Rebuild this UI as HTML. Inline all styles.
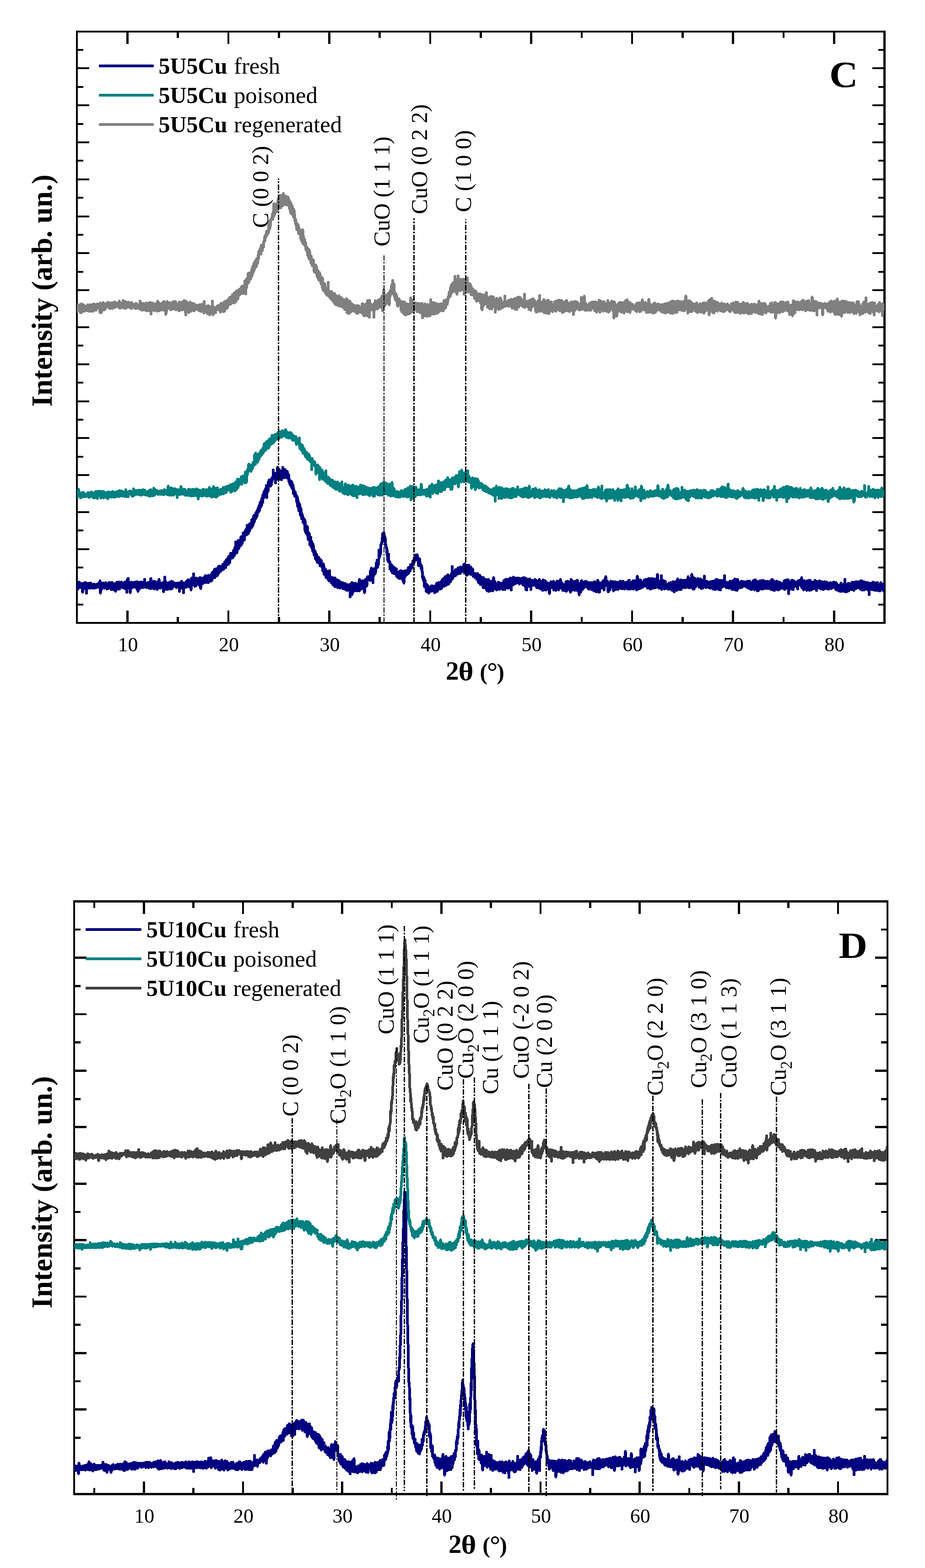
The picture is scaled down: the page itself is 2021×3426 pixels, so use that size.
<!DOCTYPE html>
<html lang="en"><head><meta charset="utf-8"><title>XRD patterns of 5U5Cu and 5U10Cu catalysts</title>
<style>
html,body{margin:0;padding:0;background:#fff}
body{width:2021px;height:3426px;overflow:hidden}
svg{display:block;font-family:'Liberation Serif','Times New Roman',serif;fill:#000}
</style></head><body>
<svg width="2021" height="3426" viewBox="0 0 2021 3426">
<rect width="2021" height="3426" fill="#fff"/>
<g id="chart-c">
<clipPath id="clip1"><rect x="168" y="71" width="1764.5" height="1288"/></clipPath>
<g fill="#000" shape-rendering="crispEdges">
<rect x="166" y="67" width="4" height="1296"/>
<rect x="1930" y="67" width="5" height="1296"/>
<rect x="166" y="67" width="1769" height="4"/>
<rect x="166" y="1359" width="1769" height="4"/>
<rect x="276" y="1334" width="5" height="25"/>
<rect x="276" y="71" width="5" height="25"/>
<rect x="497" y="1334" width="4" height="25"/>
<rect x="497" y="71" width="4" height="25"/>
<rect x="717" y="1334" width="5" height="25"/>
<rect x="717" y="71" width="5" height="25"/>
<rect x="938" y="1334" width="4" height="25"/>
<rect x="938" y="71" width="4" height="25"/>
<rect x="1158" y="1334" width="5" height="25"/>
<rect x="1158" y="71" width="5" height="25"/>
<rect x="1379" y="1334" width="4" height="25"/>
<rect x="1379" y="71" width="4" height="25"/>
<rect x="1599" y="1334" width="5" height="25"/>
<rect x="1599" y="71" width="5" height="25"/>
<rect x="1820" y="1334" width="5" height="25"/>
<rect x="1820" y="71" width="5" height="25"/>
<rect x="386" y="1348" width="5" height="11"/>
<rect x="386" y="71" width="5" height="12"/>
<rect x="607" y="1348" width="5" height="11"/>
<rect x="607" y="71" width="5" height="12"/>
<rect x="827" y="1348" width="5" height="11"/>
<rect x="827" y="71" width="5" height="12"/>
<rect x="1048" y="1348" width="5" height="11"/>
<rect x="1048" y="71" width="5" height="12"/>
<rect x="1269" y="1348" width="4" height="11"/>
<rect x="1269" y="71" width="4" height="12"/>
<rect x="1489" y="1348" width="5" height="11"/>
<rect x="1489" y="71" width="5" height="12"/>
<rect x="1710" y="1348" width="4" height="11"/>
<rect x="1710" y="71" width="4" height="12"/>
<rect x="170" y="107" width="12" height="4"/>
<rect x="1919" y="107" width="11" height="4"/>
<rect x="170" y="147" width="25" height="4"/>
<rect x="1906" y="147" width="24" height="4"/>
<rect x="170" y="188" width="12" height="4"/>
<rect x="1919" y="188" width="11" height="4"/>
<rect x="170" y="228" width="25" height="4"/>
<rect x="1906" y="228" width="24" height="4"/>
<rect x="170" y="269" width="12" height="4"/>
<rect x="1919" y="269" width="11" height="4"/>
<rect x="170" y="309" width="25" height="4"/>
<rect x="1906" y="309" width="24" height="4"/>
<rect x="170" y="349" width="12" height="4"/>
<rect x="1919" y="349" width="11" height="4"/>
<rect x="170" y="390" width="25" height="4"/>
<rect x="1906" y="390" width="24" height="4"/>
<rect x="170" y="430" width="12" height="4"/>
<rect x="1919" y="430" width="11" height="4"/>
<rect x="170" y="471" width="25" height="4"/>
<rect x="1906" y="471" width="24" height="4"/>
<rect x="170" y="511" width="12" height="4"/>
<rect x="1919" y="511" width="11" height="4"/>
<rect x="170" y="551" width="25" height="4"/>
<rect x="1906" y="551" width="24" height="4"/>
<rect x="170" y="592" width="12" height="4"/>
<rect x="1919" y="592" width="11" height="4"/>
<rect x="170" y="632" width="25" height="4"/>
<rect x="1906" y="632" width="24" height="4"/>
<rect x="170" y="673" width="12" height="4"/>
<rect x="1919" y="673" width="11" height="4"/>
<rect x="170" y="713" width="25" height="4"/>
<rect x="1906" y="713" width="24" height="4"/>
<rect x="170" y="753" width="12" height="4"/>
<rect x="1919" y="753" width="11" height="4"/>
<rect x="170" y="794" width="25" height="4"/>
<rect x="1906" y="794" width="24" height="4"/>
<rect x="170" y="834" width="12" height="4"/>
<rect x="1919" y="834" width="11" height="4"/>
<rect x="170" y="875" width="25" height="4"/>
<rect x="1906" y="875" width="24" height="4"/>
<rect x="170" y="915" width="12" height="4"/>
<rect x="1919" y="915" width="11" height="4"/>
<rect x="170" y="955" width="25" height="4"/>
<rect x="1906" y="955" width="24" height="4"/>
<rect x="170" y="996" width="12" height="4"/>
<rect x="1919" y="996" width="11" height="4"/>
<rect x="170" y="1036" width="25" height="4"/>
<rect x="1906" y="1036" width="24" height="4"/>
<rect x="170" y="1077" width="12" height="4"/>
<rect x="1919" y="1077" width="11" height="4"/>
<rect x="170" y="1117" width="25" height="4"/>
<rect x="1906" y="1117" width="24" height="4"/>
<rect x="170" y="1157" width="12" height="4"/>
<rect x="1919" y="1157" width="11" height="4"/>
<rect x="170" y="1198" width="25" height="4"/>
<rect x="1906" y="1198" width="24" height="4"/>
<rect x="170" y="1238" width="12" height="4"/>
<rect x="1919" y="1238" width="11" height="4"/>
<rect x="170" y="1279" width="25" height="4"/>
<rect x="1906" y="1279" width="24" height="4"/>
<rect x="170" y="1319" width="12" height="4"/>
<rect x="1919" y="1319" width="11" height="4"/>
</g>
<g clip-path="url(#clip1)" fill="none" stroke-linejoin="round" shape-rendering="crispEdges">
<path d="M168,1280 168.5,1288 169,1274 169.5,1288 170,1277 170.5,1278 171,1285 171.5,1278 172,1280 172.5,1272 173,1284 173.5,1280 174,1277 174.5,1284 175,1277 175.5,1279 176,1274 176.5,1278 177,1275 177.5,1276 178,1283 178.5,1277 179,1279 179.5,1286 180,1286 180.5,1294 181,1280 181.5,1276 182,1275 182.5,1286 183,1280 183.5,1274 184,1281 184.5,1284 185,1281 185.5,1286 186,1273 186.5,1280 187,1279 187.5,1273 188,1282 188.5,1285 189,1296 189.5,1276 190,1285 190.5,1280 191,1280 191.5,1284 192,1275 192.5,1285 193,1283 193.5,1284 194,1275 194.5,1284 195,1276 195.5,1274 196,1285 196.5,1285 197,1285 197.5,1280 198,1277 198.5,1274 199,1282 199.5,1283 200,1284 200.5,1277 201,1277 201.5,1282 202,1284 202.5,1285 203,1277 203.5,1280 204,1284 204.5,1280 205,1281 205.5,1276 206,1282 206.5,1285 207,1284 207.5,1284 208,1282 208.5,1278 209,1283 209.5,1278 210,1284 210.5,1277 211,1284 211.5,1278 212,1280 212.5,1279 213,1283 213.5,1278 214,1280 214.5,1275 215,1278 215.5,1280 216,1276 216.5,1283 217,1279 217.5,1284 218,1283 218.5,1269 219,1286 219.5,1296 220,1285 220.5,1278 221,1281 221.5,1276 222,1287 222.5,1277 223,1277 223.5,1274 224,1276 224.5,1284 225,1283 225.5,1274 226,1278 226.5,1279 227,1282 227.5,1279 228,1281 228.5,1285 229,1283 229.5,1277 230,1279 230.5,1277 231,1273 231.5,1275 232,1276 232.5,1276 233,1276 233.5,1280 234,1287 234.5,1284 235,1284 235.5,1283 236,1281 236.5,1286 237,1282 237.5,1279 238,1273 238.5,1279 239,1275 239.5,1273 240,1279 240.5,1284 241,1276 241.5,1284 242,1280 242.5,1273 243,1288 243.5,1278 244,1276 244.5,1286 245,1273 245.5,1284 246,1274 246.5,1278 247,1275 247.5,1286 248,1278 248.5,1289 249,1282 249.5,1283 250,1280 250.5,1276 251,1278 251.5,1288 252,1275 252.5,1292 253,1284 253.5,1278 254,1282 254.5,1278 255,1278 255.5,1280 256,1272 256.5,1280 257,1287 257.5,1276 258,1284 258.5,1279 259,1275 259.5,1286 260,1272 260.5,1277 261,1287 261.5,1276 262,1285 262.5,1281 263,1284 263.5,1281 264,1277 264.5,1283 265,1272 265.5,1278 266,1277 266.5,1279 267,1273 267.5,1275 268,1280 268.5,1277 269,1284 269.5,1281 270,1285 270.5,1283 271,1280 271.5,1275 272,1283 272.5,1275 273,1272 273.5,1286 274,1279 274.5,1283 275,1279 275.5,1280 276,1271 276.5,1274 277,1294 277.5,1280 278,1267 278.5,1285 279,1273 279.5,1279 280,1264 280.5,1282 281,1275 281.5,1273 282,1272 282.5,1274 283,1274 283.5,1279 284,1278 284.5,1295 285,1285 285.5,1283 286,1281 286.5,1284 287,1285 287.5,1272 288,1273 288.5,1277 289,1273 289.5,1281 290,1276 290.5,1276 291,1276 291.5,1273 292,1283 292.5,1282 293,1281 293.5,1272 294,1278 294.5,1282 295,1274 295.5,1277 296,1272 296.5,1273 297,1275 297.5,1278 298,1279 298.5,1286 299,1276 299.5,1271 300,1285 300.5,1272 301,1272 301.5,1292 302,1283 302.5,1276 303,1273 303.5,1277 304,1276 304.5,1285 305,1277 305.5,1272 306,1286 306.5,1281 307,1273 307.5,1273 308,1278 308.5,1272 309,1280 309.5,1280 310,1272 310.5,1283 311,1282 311.5,1284 312,1280 312.5,1281 313,1274 313.5,1273 314,1274 314.5,1283 315,1280 315.5,1283 316,1266 316.5,1281 317,1274 317.5,1275 318,1276 318.5,1279 319,1279 319.5,1278 320,1277 320.5,1279 321,1284 321.5,1278 322,1282 322.5,1273 323,1277 323.5,1279 324,1280 324.5,1275 325,1277 325.5,1285 326,1281 326.5,1280 327,1272 327.5,1272 328,1274 328.5,1273 329,1286 329.5,1264 330,1276 330.5,1271 331,1281 331.5,1271 332,1271 332.5,1271 333,1274 333.5,1280 334,1285 334.5,1274 335,1274 335.5,1286 336,1285 336.5,1270 337,1286 337.5,1287 338,1271 338.5,1282 339,1272 339.5,1273 340,1279 340.5,1280 341,1279 341.5,1280 342,1272 342.5,1285 343,1274 343.5,1288 344,1279 344.5,1275 345,1273 345.5,1279 346,1277 346.5,1281 347,1279 347.5,1266 348,1284 348.5,1272 349,1284 349.5,1284 350,1285 350.5,1281 351,1274 351.5,1278 352,1278 352.5,1281 353,1277 353.5,1281 354,1275 354.5,1277 355,1280 355.5,1278 356,1273 356.5,1286 357,1282 357.5,1293 358,1276 358.5,1287 359,1284 359.5,1288 360,1261 360.5,1278 361,1276 361.5,1281 362,1274 362.5,1271 363,1278 363.5,1281 364,1276 364.5,1288 365,1276 365.5,1274 366,1285 366.5,1277 367,1274 367.5,1274 368,1287 368.5,1287 369,1281 369.5,1274 370,1282 370.5,1272 371,1274 371.5,1279 372,1276 372.5,1275 373,1287 373.5,1272 374,1280 374.5,1270 375,1271 375.5,1273 376,1286 376.5,1282 377,1284 377.5,1271 378,1281 378.5,1277 379,1277 379.5,1281 380,1276 380.5,1279 381,1275 381.5,1277 382,1279 382.5,1274 383,1276 383.5,1278 384,1278 384.5,1283 385,1281 385.5,1280 386,1284 386.5,1275 387,1274 387.5,1277 388,1274 388.5,1280 389,1280 389.5,1274 390,1282 390.5,1280 391,1278 391.5,1285 392,1292 392.5,1275 393,1274 393.5,1285 394,1273 394.5,1283 395,1276 395.5,1276 396,1279 396.5,1285 397,1270 397.5,1273 398,1282 398.5,1276 399,1275 399.5,1286 400,1274 400.5,1281 401,1295 401.5,1282 402,1281 402.5,1281 403,1282 403.5,1274 404,1279 404.5,1282 405,1283 405.5,1283 406,1283 406.5,1271 407,1275 407.5,1276 408,1283 408.5,1275 409,1272 409.5,1268 410,1272 410.5,1281 411,1267 411.5,1269 412,1272 412.5,1276 413,1272 413.5,1282 414,1269 414.5,1276 415,1280 415.5,1283 416,1282 416.5,1266 417,1280 417.5,1289 418,1272 418.5,1263 419,1266 419.5,1279 420,1264 420.5,1269 421,1268 421.5,1278 422,1270 422.5,1264 423,1254 423.5,1269 424,1277 424.5,1268 425,1277 425.5,1273 426,1281 426.5,1277 427,1270 427.5,1271 428,1271 428.5,1280 429,1263 429.5,1270 430,1272 430.5,1270 431,1274 431.5,1271 432,1269 432.5,1275 433,1268 433.5,1273 434,1276 434.5,1264 435,1267 435.5,1279 436,1279 436.5,1279 437,1262 437.5,1276 438,1277 438.5,1286 439,1273 439.5,1273 440,1273 440.5,1271 441,1274 441.5,1269 442,1265 442.5,1263 443,1275 443.5,1273 444,1263 444.5,1274 445,1265 445.5,1270 446,1265 446.5,1262 447,1261 447.5,1259 448,1259 448.5,1258 449,1258 449.5,1273 450,1266 450.5,1258 451,1266 451.5,1266 452,1265 452.5,1259 453,1263 453.5,1272 454,1261 454.5,1264 455,1273 455.5,1257 456,1268 456.5,1262 457,1268 457.5,1259 458,1262 458.5,1258 459,1269 459.5,1269 460,1263 460.5,1270 461,1264 461.5,1266 462,1267 462.5,1253 463,1268 463.5,1255 464,1257 464.5,1250 465,1263 465.5,1253 466,1260 466.5,1249 467,1252 467.5,1252 468,1249 468.5,1244 469,1259 469.5,1262 470,1247 470.5,1245 471,1249 471.5,1243 472,1254 472.5,1248 473,1251 473.5,1258 474,1256 474.5,1257 475,1257 475.5,1250 476,1248 476.5,1239 477,1240 477.5,1247 478,1253 478.5,1245 479,1237 479.5,1240 480,1249 480.5,1239 481,1239 481.5,1240 482,1245 482.5,1248 483,1238 483.5,1243 484,1242 484.5,1240 485,1242 485.5,1245 486,1236 486.5,1239 487,1233 487.5,1238 488,1242 488.5,1244 489,1236 489.5,1233 490,1237 490.5,1233 491,1228 491.5,1234 492,1238 492.5,1239 493,1240 493.5,1229 494,1226 494.5,1223 495,1228 495.5,1234 496,1223 496.5,1234 497,1231 497.5,1220 498,1228 498.5,1231 499,1233 499.5,1216 500,1229 500.5,1227 501,1215 501.5,1216 502,1229 502.5,1216 503,1214 503.5,1222 504,1209 504.5,1215 505,1212 505.5,1215 506,1216 506.5,1216 507,1211 507.5,1219 508,1218 508.5,1219 509,1208 509.5,1213 510,1206 510.5,1202 511,1210 511.5,1215 512,1212 512.5,1199 513,1197 513.5,1209 514,1207 514.5,1209 515,1184 515.5,1208 516,1197 516.5,1193 517,1194 517.5,1208 518,1206 518.5,1186 519,1190 519.5,1199 520,1183 520.5,1182 521,1181 521.5,1199 522,1186 522.5,1185 523,1195 523.5,1183 524,1192 524.5,1183 525,1181 525.5,1182 526,1176 526.5,1173 527,1191 527.5,1190 528,1180 528.5,1184 529,1188 529.5,1176 530,1183 530.5,1183 531,1165 531.5,1166 532,1181 532.5,1179 533,1165 533.5,1180 534,1179 534.5,1166 535,1166 535.5,1160 536,1167 536.5,1158 537,1168 537.5,1169 538,1167 538.5,1155 539,1166 539.5,1168 540,1148 540.5,1163 541,1166 541.5,1154 542,1166 542.5,1166 543,1161 543.5,1163 544,1151 544.5,1157 545,1161 545.5,1144 546,1157 546.5,1146 547,1155 547.5,1151 548,1153 548.5,1145 549,1145 549.5,1153 550,1136 550.5,1137 551,1151 551.5,1149 552,1134 552.5,1148 553,1134 553.5,1144 554,1143 554.5,1127 555,1126 555.5,1130 556,1140 556.5,1136 557,1128 557.5,1135 558,1125 558.5,1125 559,1121 559.5,1132 560,1129 560.5,1122 561,1118 561.5,1128 562,1118 562.5,1114 563,1116 563.5,1119 564,1119 564.5,1109 565,1119 565.5,1114 566,1105 566.5,1114 567,1115 567.5,1112 568,1099 568.5,1104 569,1105 569.5,1108 570,1101 570.5,1094 571,1105 571.5,1104 572,1096 572.5,1088 573,1098 573.5,1096 574,1098 574.5,1081 575,1087 575.5,1083 576,1079 576.5,1088 577,1080 577.5,1073 578,1074 578.5,1085 579,1080 579.5,1071 580,1079 580.5,1067 581,1077 581.5,1075 582,1061 582.5,1070 583,1087 583.5,1074 584,1072 584.5,1075 585,1071 585.5,1074 586,1061 586.5,1052 587,1054 587.5,1056 588,1049 588.5,1050 589,1059 589.5,1052 590,1052 590.5,1061 591,1062 591.5,1062 592,1051 592.5,1057 593,1059 593.5,1045 594,1045 594.5,1052 595,1045 595.5,1044 596,1046 596.5,1040 597,1027 597.5,1040 598,1042 598.5,1041 599,1042 599.5,1039 600,1043 600.5,1045 601,1040 601.5,1048 602,1055 602.5,1038 603,1034 603.5,1044 604,1036 604.5,1037 605,1040 605.5,1047 606,1034 606.5,1021 607,1040 607.5,1041 608,1031 608.5,1038 609,1037 609.5,1039 610,1027 610.5,1026 611,1047 611.5,1043 612,1043 612.5,1046 613,1046 613.5,1032 614,1041 614.5,1038 615,1048 615.5,1038 616,1029 616.5,1042 617,1031 617.5,1025 618,1021 618.5,1036 619,1027 619.5,1043 620,1026 620.5,1029 621,1044 621.5,1033 622,1042 622.5,1039 623,1026 623.5,1028 624,1032 624.5,1043 625,1032 625.5,1035 626,1036 626.5,1034 627,1043 627.5,1030 628,1034 628.5,1045 629,1042 629.5,1041 630,1040 630.5,1037 631,1043 631.5,1053 632,1048 632.5,1049 633,1056 633.5,1056 634,1059 634.5,1060 635,1056 635.5,1051 636,1058 636.5,1055 637,1064 637.5,1053 638,1060 638.5,1068 639,1063 639.5,1067 640,1059 640.5,1064 641,1078 641.5,1074 642,1069 642.5,1074 643,1080 643.5,1082 644,1084 644.5,1075 645,1075 645.5,1085 646,1084 646.5,1086 647,1081 647.5,1084 648,1095 648.5,1088 649,1098 649.5,1085 650,1105 650.5,1091 651,1098 651.5,1109 652,1097 652.5,1098 653,1116 653.5,1116 654,1109 654.5,1101 655,1114 655.5,1108 656,1109 656.5,1126 657,1121 657.5,1119 658,1112 658.5,1120 659,1133 659.5,1122 660,1124 660.5,1132 661,1126 661.5,1134 662,1141 662.5,1131 663,1137 663.5,1141 664,1138 664.5,1136 665,1135 665.5,1147 666,1157 666.5,1137 667,1158 667.5,1162 668,1154 668.5,1165 669,1161 669.5,1158 670,1158 670.5,1159 671,1166 671.5,1150 672,1170 672.5,1166 673,1172 673.5,1179 674,1164 674.5,1170 675,1168 675.5,1165 676,1179 676.5,1180 677,1190 677.5,1183 678,1180 678.5,1192 679,1174 679.5,1182 680,1192 680.5,1182 681,1187 681.5,1198 682,1189 682.5,1189 683,1203 683.5,1188 684,1205 684.5,1195 685,1194 685.5,1201 686,1202 686.5,1213 687,1210 687.5,1205 688,1208 688.5,1204 689,1220 689.5,1208 690,1220 690.5,1216 691,1223 691.5,1211 692,1214 692.5,1214 693,1225 693.5,1229 694,1227 694.5,1220 695,1229 695.5,1228 696,1224 696.5,1218 697,1220 697.5,1231 698,1221 698.5,1230 699,1236 699.5,1234 700,1234 700.5,1227 701,1225 701.5,1224 702,1226 702.5,1230 703,1238 703.5,1236 704,1232 704.5,1235 705,1239 705.5,1248 706,1246 706.5,1232 707,1243 707.5,1237 708,1254 708.5,1255 709,1248 709.5,1253 710,1253 710.5,1256 711,1245 711.5,1244 712,1257 712.5,1262 713,1247 713.5,1255 714,1255 714.5,1252 715,1260 715.5,1249 716,1254 716.5,1256 717,1266 717.5,1262 718,1263 718.5,1269 719,1255 719.5,1263 720,1247 720.5,1256 721,1266 721.5,1268 722,1266 722.5,1265 723,1269 723.5,1273 724,1273 724.5,1271 725,1265 725.5,1272 726,1262 726.5,1275 727,1263 727.5,1278 728,1265 728.5,1264 729,1266 729.5,1270 730,1263 730.5,1265 731,1280 731.5,1282 732,1263 732.5,1271 733,1271 733.5,1281 734,1277 734.5,1271 735,1281 735.5,1277 736,1267 736.5,1282 737,1274 737.5,1284 738,1279 738.5,1268 739,1282 739.5,1278 740,1277 740.5,1275 741,1280 741.5,1269 742,1277 742.5,1285 743,1272 743.5,1272 744,1276 744.5,1278 745,1276 745.5,1278 746,1281 746.5,1283 747,1273 747.5,1278 748,1281 748.5,1273 749,1286 749.5,1282 750,1280 750.5,1280 751,1276 751.5,1275 752,1284 752.5,1287 753,1286 753.5,1275 754,1275 754.5,1282 755,1283 755.5,1284 756,1288 756.5,1288 757,1289 757.5,1280 758,1282 758.5,1290 759,1286 759.5,1277 760,1289 760.5,1285 761,1279 761.5,1281 762,1284 762.5,1286 763,1282 763.5,1287 764,1284 764.5,1292 765,1304 765.5,1277 766,1276 766.5,1290 767,1286 767.5,1293 768,1282 768.5,1276 769,1273 769.5,1299 770,1274 770.5,1286 771,1285 771.5,1288 772,1293 772.5,1278 773,1283 773.5,1288 774,1277 774.5,1275 775,1276 775.5,1291 776,1288 776.5,1277 777,1274 777.5,1285 778,1279 778.5,1277 779,1277 779.5,1282 780,1279 780.5,1291 781,1283 781.5,1290 782,1290 782.5,1290 783,1282 783.5,1283 784,1282 784.5,1271 785,1291 785.5,1266 786,1282 786.5,1285 787,1287 787.5,1281 788,1283 788.5,1287 789,1283 789.5,1283 790,1287 790.5,1270 791,1279 791.5,1269 792,1271 792.5,1269 793,1286 793.5,1274 794,1278 794.5,1283 795,1281 795.5,1286 796,1276 796.5,1295 797,1284 797.5,1267 798,1275 798.5,1266 799,1276 799.5,1270 800,1281 800.5,1272 801,1265 801.5,1280 802,1270 802.5,1261 803,1266 803.5,1268 804,1260 804.5,1262 805,1264 805.5,1264 806,1266 806.5,1263 807,1263 807.5,1265 808,1262 808.5,1268 809,1268 809.5,1247 810,1256 810.5,1254 811,1258 811.5,1241 812,1263 812.5,1262 813,1264 813.5,1260 814,1257 814.5,1264 815,1273 815.5,1251 816,1249 816.5,1243 817,1258 817.5,1254 818,1246 818.5,1254 819,1251 819.5,1244 820,1253 820.5,1251 821,1240 821.5,1239 822,1232 822.5,1229 823,1233 823.5,1229 824,1224 824.5,1237 825,1240 825.5,1233 826,1236 826.5,1234 827,1227 827.5,1223 828,1202 828.5,1219 829,1213 829.5,1209 830,1213 830.5,1213 831,1209 831.5,1208 832,1198 832.5,1189 833,1189 833.5,1187 834,1189 834.5,1183 835,1184 835.5,1174 836,1175 836.5,1165 837,1173 837.5,1174 838,1173 838.5,1174 839,1165 839.5,1178 840,1174 840.5,1171 841,1173 841.5,1175 842,1186 842.5,1188 843,1194 843.5,1196 844,1197 844.5,1196 845,1208 845.5,1201 846,1213 846.5,1209 847,1211 847.5,1225 848,1227 848.5,1227 849,1211 849.5,1228 850,1228 850.5,1226 851,1229 851.5,1227 852,1243 852.5,1233 853,1236 853.5,1235 854,1243 854.5,1242 855,1247 855.5,1234 856,1238 856.5,1246 857,1246 857.5,1252 858,1238 858.5,1244 859,1245 859.5,1248 860,1245 860.5,1253 861,1241 861.5,1240 862,1246 862.5,1241 863,1248 863.5,1253 864,1243 864.5,1251 865,1254 865.5,1254 866,1243 866.5,1259 867,1258 867.5,1250 868,1254 868.5,1259 869,1261 869.5,1250 870,1260 870.5,1253 871,1263 871.5,1262 872,1252 872.5,1252 873,1255 873.5,1264 874,1248 874.5,1256 875,1258 875.5,1259 876,1247 876.5,1257 877,1254 877.5,1252 878,1264 878.5,1248 879,1259 879.5,1250 880,1263 880.5,1269 881,1254 881.5,1251 882,1256 882.5,1274 883,1248 883.5,1257 884,1249 884.5,1250 885,1260 885.5,1247 886,1257 886.5,1247 887,1253 887.5,1254 888,1247 888.5,1256 889,1247 889.5,1250 890,1246 890.5,1254 891,1246 891.5,1245 892,1241 892.5,1253 893,1240 893.5,1244 894,1248 894.5,1243 895,1246 895.5,1242 896,1248 896.5,1237 897,1234 897.5,1235 898,1239 898.5,1239 899,1241 899.5,1242 900,1234 900.5,1238 901,1232 901.5,1230 902,1226 902.5,1233 903,1225 903.5,1228 904,1225 904.5,1230 905,1220 905.5,1223 906,1225 906.5,1216 907,1224 907.5,1220 908,1213 908.5,1224 909,1216 909.5,1216 910,1220 910.5,1223 911,1213 911.5,1212 912,1220 912.5,1220 913,1217 913.5,1221 914,1226 914.5,1236 915,1222 915.5,1228 916,1229 916.5,1228 917,1221 917.5,1229 918,1231 918.5,1237 919,1234 919.5,1238 920,1242 920.5,1235 921,1237 921.5,1239 922,1244 922.5,1250 923,1250 923.5,1263 924,1265 924.5,1265 925,1259 925.5,1269 926,1264 926.5,1263 927,1279 927.5,1282 928,1268 928.5,1280 929,1269 929.5,1280 930,1282 930.5,1283 931,1291 931.5,1285 932,1277 932.5,1293 933,1282 933.5,1287 934,1286 934.5,1293 935,1280 935.5,1286 936,1287 936.5,1290 937,1296 937.5,1285 938,1286 938.5,1292 939,1283 939.5,1289 940,1285 940.5,1291 941,1290 941.5,1292 942,1287 942.5,1284 943,1280 943.5,1290 944,1283 944.5,1280 945,1286 945.5,1284 946,1291 946.5,1284 947,1285 947.5,1292 948,1291 948.5,1281 949,1289 949.5,1295 950,1294 950.5,1293 951,1282 951.5,1294 952,1280 952.5,1283 953,1277 953.5,1286 954,1288 954.5,1287 955,1274 955.5,1292 956,1279 956.5,1287 957,1290 957.5,1287 958,1281 958.5,1281 959,1273 959.5,1278 960,1286 960.5,1283 961,1282 961.5,1282 962,1275 962.5,1287 963,1274 963.5,1271 964,1280 964.5,1270 965,1285 965.5,1277 966,1268 966.5,1266 967,1277 967.5,1265 968,1265 968.5,1272 969,1272 969.5,1280 970,1264 970.5,1281 971,1270 971.5,1280 972,1263 972.5,1260 973,1269 973.5,1263 974,1269 974.5,1277 975,1279 975.5,1259 976,1263 976.5,1264 977,1260 977.5,1267 978,1257 978.5,1260 979,1256 979.5,1265 980,1276 980.5,1258 981,1274 981.5,1261 982,1270 982.5,1271 983,1266 983.5,1268 984,1265 984.5,1271 985,1267 985.5,1259 986,1256 986.5,1253 987,1260 987.5,1254 988,1238 988.5,1265 989,1261 989.5,1258 990,1262 990.5,1256 991,1254 991.5,1258 992,1256 992.5,1249 993,1250 993.5,1254 994,1248 994.5,1258 995,1245 995.5,1256 996,1257 996.5,1251 997,1246 997.5,1253 998,1248 998.5,1251 999,1246 999.5,1244 1000,1254 1000.5,1241 1001,1241 1001.5,1251 1002,1250 1002.5,1243 1003,1244 1003.5,1249 1004,1247 1004.5,1248 1005,1244 1005.5,1253 1006,1239 1006.5,1247 1007,1240 1007.5,1242 1008,1241 1008.5,1250 1009,1246 1009.5,1241 1010,1245 1010.5,1243 1011,1245 1011.5,1239 1012,1242 1012.5,1243 1013,1235 1013.5,1233 1014,1246 1014.5,1237 1015,1252 1015.5,1232 1016,1237 1016.5,1248 1017,1235 1017.5,1242 1018,1239 1018.5,1238 1019,1238 1019.5,1257 1020,1240 1020.5,1235 1021,1256 1021.5,1236 1022,1251 1022.5,1249 1023,1251 1023.5,1252 1024,1238 1024.5,1235 1025,1245 1025.5,1246 1026,1241 1026.5,1254 1027,1239 1027.5,1248 1028,1249 1028.5,1239 1029,1255 1029.5,1246 1030,1248 1030.5,1243 1031,1248 1031.5,1249 1032,1252 1032.5,1243 1033,1250 1033.5,1251 1034,1259 1034.5,1254 1035,1255 1035.5,1252 1036,1253 1036.5,1261 1037,1253 1037.5,1262 1038,1257 1038.5,1262 1039,1257 1039.5,1262 1040,1262 1040.5,1255 1041,1254 1041.5,1266 1042,1255 1042.5,1265 1043,1253 1043.5,1260 1044,1258 1044.5,1257 1045,1256 1045.5,1273 1046,1267 1046.5,1263 1047,1266 1047.5,1273 1048,1270 1048.5,1257 1049,1260 1049.5,1277 1050,1269 1050.5,1271 1051,1261 1051.5,1261 1052,1263 1052.5,1266 1053,1272 1053.5,1268 1054,1276 1054.5,1271 1055,1273 1055.5,1284 1056,1262 1056.5,1277 1057,1280 1057.5,1267 1058,1284 1058.5,1266 1059,1284 1059.5,1269 1060,1275 1060.5,1274 1061,1279 1061.5,1281 1062,1266 1062.5,1287 1063,1279 1063.5,1290 1064,1270 1064.5,1277 1065,1291 1065.5,1282 1066,1279 1066.5,1278 1067,1290 1067.5,1266 1068,1292 1068.5,1279 1069,1287 1069.5,1279 1070,1288 1070.5,1270 1071,1278 1071.5,1286 1072,1291 1072.5,1280 1073,1270 1073.5,1286 1074,1283 1074.5,1272 1075,1273 1075.5,1280 1076,1273 1076.5,1289 1077,1291 1077.5,1286 1078,1287 1078.5,1262 1079,1272 1079.5,1285 1080,1286 1080.5,1284 1081,1274 1081.5,1271 1082,1281 1082.5,1273 1083,1276 1083.5,1280 1084,1276 1084.5,1289 1085,1277 1085.5,1282 1086,1289 1086.5,1284 1087,1278 1087.5,1285 1088,1275 1088.5,1273 1089,1272 1089.5,1284 1090,1283 1090.5,1284 1091,1284 1091.5,1282 1092,1288 1092.5,1280 1093,1274 1093.5,1276 1094,1279 1094.5,1282 1095,1277 1095.5,1279 1096,1276 1096.5,1284 1097,1286 1097.5,1276 1098,1285 1098.5,1273 1099,1288 1099.5,1276 1100,1282 1100.5,1281 1101,1269 1101.5,1280 1102,1268 1102.5,1277 1103,1278 1103.5,1288 1104,1270 1104.5,1266 1105,1280 1105.5,1272 1106,1278 1106.5,1270 1107,1281 1107.5,1266 1108,1276 1108.5,1282 1109,1285 1109.5,1271 1110,1276 1110.5,1285 1111,1266 1111.5,1282 1112,1279 1112.5,1284 1113,1273 1113.5,1272 1114,1274 1114.5,1270 1115,1263 1115.5,1273 1116,1270 1116.5,1272 1117,1289 1117.5,1269 1118,1264 1118.5,1277 1119,1279 1119.5,1265 1120,1272 1120.5,1267 1121,1273 1121.5,1261 1122,1277 1122.5,1276 1123,1262 1123.5,1271 1124,1265 1124.5,1263 1125,1275 1125.5,1273 1126,1270 1126.5,1270 1127,1275 1127.5,1265 1128,1268 1128.5,1263 1129,1267 1129.5,1263 1130,1266 1130.5,1270 1131,1265 1131.5,1271 1132,1273 1132.5,1271 1133,1268 1133.5,1267 1134,1263 1134.5,1273 1135,1276 1135.5,1266 1136,1272 1136.5,1271 1137,1274 1137.5,1273 1138,1265 1138.5,1264 1139,1268 1139.5,1265 1140,1272 1140.5,1264 1141,1274 1141.5,1276 1142,1263 1142.5,1278 1143,1277 1143.5,1263 1144,1272 1144.5,1262 1145,1271 1145.5,1263 1146,1273 1146.5,1263 1147,1263 1147.5,1282 1148,1279 1148.5,1276 1149,1288 1149.5,1266 1150,1264 1150.5,1269 1151,1289 1151.5,1278 1152,1277 1152.5,1271 1153,1273 1153.5,1277 1154,1274 1154.5,1267 1155,1272 1155.5,1281 1156,1281 1156.5,1265 1157,1266 1157.5,1265 1158,1273 1158.5,1280 1159,1273 1159.5,1270 1160,1288 1160.5,1269 1161,1274 1161.5,1280 1162,1279 1162.5,1268 1163,1270 1163.5,1272 1164,1278 1164.5,1277 1165,1274 1165.5,1272 1166,1271 1166.5,1275 1167,1279 1167.5,1272 1168,1271 1168.5,1266 1169,1268 1169.5,1268 1170,1273 1170.5,1280 1171,1273 1171.5,1268 1172,1269 1172.5,1284 1173,1277 1173.5,1271 1174,1282 1174.5,1284 1175,1277 1175.5,1275 1176,1274 1176.5,1273 1177,1284 1177.5,1281 1178,1285 1178.5,1266 1179,1268 1179.5,1277 1180,1279 1180.5,1275 1181,1277 1181.5,1287 1182,1279 1182.5,1271 1183,1278 1183.5,1272 1184,1281 1184.5,1280 1185,1283 1185.5,1290 1186,1278 1186.5,1267 1187,1278 1187.5,1279 1188,1286 1188.5,1289 1189,1271 1189.5,1288 1190,1272 1190.5,1281 1191,1269 1191.5,1287 1192,1278 1192.5,1274 1193,1289 1193.5,1272 1194,1277 1194.5,1279 1195,1275 1195.5,1277 1196,1286 1196.5,1274 1197,1281 1197.5,1275 1198,1282 1198.5,1275 1199,1277 1199.5,1281 1200,1275 1200.5,1297 1201,1275 1201.5,1287 1202,1284 1202.5,1273 1203,1280 1203.5,1271 1204,1273 1204.5,1276 1205,1284 1205.5,1283 1206,1281 1206.5,1273 1207,1276 1207.5,1284 1208,1280 1208.5,1276 1209,1271 1209.5,1270 1210,1289 1210.5,1278 1211,1288 1211.5,1275 1212,1282 1212.5,1275 1213,1288 1213.5,1274 1214,1281 1214.5,1290 1215,1285 1215.5,1281 1216,1277 1216.5,1281 1217,1270 1217.5,1273 1218,1276 1218.5,1271 1219,1275 1219.5,1279 1220,1288 1220.5,1289 1221,1270 1221.5,1279 1222,1284 1222.5,1286 1223,1273 1223.5,1270 1224,1275 1224.5,1266 1225,1274 1225.5,1274 1226,1284 1226.5,1275 1227,1274 1227.5,1276 1228,1280 1228.5,1274 1229,1281 1229.5,1290 1230,1287 1230.5,1286 1231,1290 1231.5,1290 1232,1282 1232.5,1285 1233,1278 1233.5,1282 1234,1290 1234.5,1281 1235,1279 1235.5,1285 1236,1280 1236.5,1271 1237,1278 1237.5,1272 1238,1292 1238.5,1288 1239,1280 1239.5,1270 1240,1271 1240.5,1275 1241,1282 1241.5,1271 1242,1278 1242.5,1273 1243,1271 1243.5,1271 1244,1271 1244.5,1290 1245,1273 1245.5,1271 1246,1290 1246.5,1294 1247,1288 1247.5,1270 1248,1266 1248.5,1271 1249,1270 1249.5,1280 1250,1269 1250.5,1289 1251,1278 1251.5,1272 1252,1270 1252.5,1282 1253,1288 1253.5,1282 1254,1273 1254.5,1288 1255,1280 1255.5,1282 1256,1290 1256.5,1284 1257,1270 1257.5,1284 1258,1274 1258.5,1287 1259,1281 1259.5,1280 1260,1271 1260.5,1268 1261,1290 1261.5,1268 1262,1269 1262.5,1278 1263,1288 1263.5,1280 1264,1289 1264.5,1283 1265,1285 1265.5,1300 1266,1288 1266.5,1288 1267,1275 1267.5,1283 1268,1279 1268.5,1292 1269,1293 1269.5,1277 1270,1270 1270.5,1283 1271,1269 1271.5,1281 1272,1274 1272.5,1282 1273,1288 1273.5,1276 1274,1280 1274.5,1280 1275,1272 1275.5,1283 1276,1283 1276.5,1284 1277,1274 1277.5,1271 1278,1277 1278.5,1272 1279,1275 1279.5,1270 1280,1278 1280.5,1277 1281,1276 1281.5,1277 1282,1271 1282.5,1279 1283,1283 1283.5,1277 1284,1281 1284.5,1285 1285,1280 1285.5,1287 1286,1285 1286.5,1281 1287,1273 1287.5,1280 1288,1273 1288.5,1287 1289,1273 1289.5,1276 1290,1275 1290.5,1286 1291,1287 1291.5,1284 1292,1286 1292.5,1276 1293,1288 1293.5,1273 1294,1277 1294.5,1287 1295,1284 1295.5,1289 1296,1288 1296.5,1275 1297,1279 1297.5,1291 1298,1285 1298.5,1287 1299,1271 1299.5,1291 1300,1282 1300.5,1273 1301,1283 1301.5,1291 1302,1282 1302.5,1293 1303,1292 1303.5,1281 1304,1293 1304.5,1288 1305,1275 1305.5,1270 1306,1268 1306.5,1282 1307,1288 1307.5,1271 1308,1273 1308.5,1294 1309,1289 1309.5,1276 1310,1293 1310.5,1280 1311,1274 1311.5,1277 1312,1275 1312.5,1286 1313,1277 1313.5,1282 1314,1283 1314.5,1280 1315,1279 1315.5,1277 1316,1274 1316.5,1271 1317,1284 1317.5,1269 1318,1285 1318.5,1285 1319,1286 1319.5,1283 1320,1289 1320.5,1277 1321,1279 1321.5,1275 1322,1265 1322.5,1278 1323,1280 1323.5,1260 1324,1269 1324.5,1272 1325,1274 1325.5,1278 1326,1273 1326.5,1277 1327,1275 1327.5,1270 1328,1290 1328.5,1283 1329,1293 1329.5,1283 1330,1283 1330.5,1277 1331,1289 1331.5,1280 1332,1289 1332.5,1280 1333,1287 1333.5,1285 1334,1278 1334.5,1270 1335,1274 1335.5,1279 1336,1280 1336.5,1274 1337,1275 1337.5,1277 1338,1282 1338.5,1271 1339,1279 1339.5,1285 1340,1289 1340.5,1281 1341,1291 1341.5,1286 1342,1287 1342.5,1273 1343,1281 1343.5,1271 1344,1284 1344.5,1277 1345,1288 1345.5,1274 1346,1273 1346.5,1278 1347,1274 1347.5,1281 1348,1279 1348.5,1272 1349,1276 1349.5,1274 1350,1274 1350.5,1288 1351,1281 1351.5,1284 1352,1278 1352.5,1274 1353,1276 1353.5,1283 1354,1278 1354.5,1270 1355,1280 1355.5,1279 1356,1282 1356.5,1270 1357,1286 1357.5,1278 1358,1276 1358.5,1275 1359,1285 1359.5,1274 1360,1275 1360.5,1286 1361,1278 1361.5,1270 1362,1271 1362.5,1283 1363,1275 1363.5,1275 1364,1274 1364.5,1287 1365,1278 1365.5,1285 1366,1283 1366.5,1283 1367,1283 1367.5,1274 1368,1284 1368.5,1278 1369,1272 1369.5,1273 1370,1278 1370.5,1277 1371,1287 1371.5,1280 1372,1280 1372.5,1269 1373,1269 1373.5,1274 1374,1277 1374.5,1287 1375,1268 1375.5,1283 1376,1281 1376.5,1272 1377,1287 1377.5,1275 1378,1285 1378.5,1273 1379,1279 1379.5,1284 1380,1286 1380.5,1275 1381,1272 1381.5,1281 1382,1281 1382.5,1269 1383,1280 1383.5,1287 1384,1273 1384.5,1280 1385,1286 1385.5,1276 1386,1284 1386.5,1285 1387,1269 1387.5,1274 1388,1273 1388.5,1286 1389,1280 1389.5,1270 1390,1275 1390.5,1272 1391,1289 1391.5,1286 1392,1286 1392.5,1259 1393,1274 1393.5,1276 1394,1273 1394.5,1287 1395,1276 1395.5,1284 1396,1279 1396.5,1275 1397,1267 1397.5,1286 1398,1276 1398.5,1267 1399,1276 1399.5,1267 1400,1273 1400.5,1285 1401,1273 1401.5,1273 1402,1273 1402.5,1278 1403,1276 1403.5,1274 1404,1283 1404.5,1276 1405,1283 1405.5,1275 1406,1274 1406.5,1270 1407,1268 1407.5,1278 1408,1273 1408.5,1269 1409,1277 1409.5,1280 1410,1279 1410.5,1266 1411,1273 1411.5,1280 1412,1274 1412.5,1275 1413,1282 1413.5,1268 1414,1268 1414.5,1282 1415,1285 1415.5,1268 1416,1265 1416.5,1283 1417,1277 1417.5,1269 1418,1264 1418.5,1277 1419,1267 1419.5,1285 1420,1286 1420.5,1281 1421,1287 1421.5,1270 1422,1265 1422.5,1279 1423,1269 1423.5,1280 1424,1264 1424.5,1271 1425,1279 1425.5,1285 1426,1265 1426.5,1274 1427,1285 1427.5,1265 1428,1274 1428.5,1280 1429,1274 1429.5,1282 1430,1273 1430.5,1271 1431,1265 1431.5,1275 1432,1284 1432.5,1283 1433,1266 1433.5,1266 1434,1267 1434.5,1282 1435,1273 1435.5,1271 1436,1280 1436.5,1255 1437,1273 1437.5,1279 1438,1283 1438.5,1269 1439,1270 1439.5,1270 1440,1285 1440.5,1277 1441,1283 1441.5,1270 1442,1284 1442.5,1272 1443,1279 1443.5,1270 1444,1277 1444.5,1283 1445,1258 1445.5,1288 1446,1285 1446.5,1282 1447,1283 1447.5,1272 1448,1268 1448.5,1274 1449,1269 1449.5,1274 1450,1284 1450.5,1271 1451,1269 1451.5,1285 1452,1287 1452.5,1277 1453,1273 1453.5,1286 1454,1271 1454.5,1276 1455,1285 1455.5,1283 1456,1284 1456.5,1279 1457,1283 1457.5,1277 1458,1286 1458.5,1284 1459,1287 1459.5,1284 1460,1284 1460.5,1276 1461,1281 1461.5,1274 1462,1287 1462.5,1285 1463,1281 1463.5,1286 1464,1287 1464.5,1279 1465,1284 1465.5,1275 1466,1273 1466.5,1286 1467,1276 1467.5,1279 1468,1281 1468.5,1290 1469,1287 1469.5,1282 1470,1288 1470.5,1275 1471,1271 1471.5,1275 1472,1283 1472.5,1276 1473,1293 1473.5,1282 1474,1282 1474.5,1287 1475,1281 1475.5,1271 1476,1272 1476.5,1279 1477,1273 1477.5,1271 1478,1276 1478.5,1288 1479,1290 1479.5,1273 1480,1271 1480.5,1265 1481,1266 1481.5,1275 1482,1271 1482.5,1279 1483,1269 1483.5,1282 1484,1280 1484.5,1288 1485,1286 1485.5,1269 1486,1279 1486.5,1275 1487,1268 1487.5,1279 1488,1288 1488.5,1270 1489,1267 1489.5,1271 1490,1276 1490.5,1272 1491,1280 1491.5,1272 1492,1283 1492.5,1270 1493,1270 1493.5,1284 1494,1268 1494.5,1280 1495,1268 1495.5,1269 1496,1278 1496.5,1281 1497,1277 1497.5,1284 1498,1284 1498.5,1268 1499,1274 1499.5,1274 1500,1268 1500.5,1278 1501,1282 1501.5,1279 1502,1280 1502.5,1269 1503,1276 1503.5,1260 1504,1280 1504.5,1284 1505,1274 1505.5,1274 1506,1280 1506.5,1283 1507,1264 1507.5,1280 1508,1284 1508.5,1267 1509,1269 1509.5,1273 1510,1276 1510.5,1273 1511,1276 1511.5,1255 1512,1272 1512.5,1269 1513,1278 1513.5,1286 1514,1287 1514.5,1271 1515,1262 1515.5,1278 1516,1287 1516.5,1287 1517,1279 1517.5,1271 1518,1264 1518.5,1274 1519,1279 1519.5,1280 1520,1279 1520.5,1282 1521,1266 1521.5,1275 1522,1274 1522.5,1275 1523,1274 1523.5,1278 1524,1266 1524.5,1264 1525,1274 1525.5,1277 1526,1274 1526.5,1276 1527,1273 1527.5,1283 1528,1283 1528.5,1267 1529,1279 1529.5,1276 1530,1265 1530.5,1266 1531,1284 1531.5,1281 1532,1267 1532.5,1278 1533,1286 1533.5,1277 1534,1278 1534.5,1280 1535,1277 1535.5,1285 1536,1271 1536.5,1270 1537,1268 1537.5,1275 1538,1273 1538.5,1276 1539,1259 1539.5,1276 1540,1277 1540.5,1273 1541,1282 1541.5,1277 1542,1278 1542.5,1284 1543,1283 1543.5,1279 1544,1270 1544.5,1279 1545,1275 1545.5,1274 1546,1279 1546.5,1273 1547,1281 1547.5,1282 1548,1273 1548.5,1273 1549,1284 1549.5,1272 1550,1282 1550.5,1282 1551,1281 1551.5,1271 1552,1285 1552.5,1274 1553,1284 1553.5,1278 1554,1276 1554.5,1273 1555,1271 1555.5,1274 1556,1272 1556.5,1270 1557,1281 1557.5,1287 1558,1278 1558.5,1284 1559,1287 1559.5,1270 1560,1277 1560.5,1276 1561,1273 1561.5,1282 1562,1279 1562.5,1270 1563,1288 1563.5,1269 1564,1267 1564.5,1283 1565,1276 1565.5,1281 1566,1266 1566.5,1267 1567,1272 1567.5,1273 1568,1278 1568.5,1273 1569,1271 1569.5,1288 1570,1268 1570.5,1277 1571,1271 1571.5,1285 1572,1280 1572.5,1280 1573,1276 1573.5,1276 1574,1289 1574.5,1276 1575,1281 1575.5,1268 1576,1278 1576.5,1283 1577,1277 1577.5,1283 1578,1281 1578.5,1269 1579,1277 1579.5,1268 1580,1269 1580.5,1281 1581,1272 1581.5,1269 1582,1277 1582.5,1281 1583,1258 1583.5,1273 1584,1274 1584.5,1271 1585,1271 1585.5,1277 1586,1274 1586.5,1277 1587,1284 1587.5,1282 1588,1282 1588.5,1284 1589,1280 1589.5,1277 1590,1273 1590.5,1281 1591,1273 1591.5,1276 1592,1275 1592.5,1285 1593,1284 1593.5,1274 1594,1276 1594.5,1278 1595,1270 1595.5,1270 1596,1280 1596.5,1278 1597,1281 1597.5,1286 1598,1271 1598.5,1287 1599,1272 1599.5,1288 1600,1270 1600.5,1276 1601,1284 1601.5,1271 1602,1269 1602.5,1272 1603,1274 1603.5,1288 1604,1272 1604.5,1283 1605,1287 1605.5,1265 1606,1272 1606.5,1289 1607,1280 1607.5,1269 1608,1278 1608.5,1275 1609,1287 1609.5,1285 1610,1273 1610.5,1290 1611,1266 1611.5,1288 1612,1267 1612.5,1279 1613,1275 1613.5,1285 1614,1277 1614.5,1272 1615,1282 1615.5,1274 1616,1276 1616.5,1284 1617,1274 1617.5,1278 1618,1283 1618.5,1284 1619,1281 1619.5,1281 1620,1270 1620.5,1278 1621,1279 1621.5,1271 1622,1283 1622.5,1280 1623,1271 1623.5,1271 1624,1271 1624.5,1272 1625,1278 1625.5,1271 1626,1276 1626.5,1274 1627,1280 1627.5,1280 1628,1279 1628.5,1279 1629,1278 1629.5,1282 1630,1278 1630.5,1273 1631,1271 1631.5,1279 1632,1283 1632.5,1282 1633,1282 1633.5,1283 1634,1270 1634.5,1285 1635,1270 1635.5,1279 1636,1277 1636.5,1272 1637,1280 1637.5,1271 1638,1270 1638.5,1283 1639,1286 1639.5,1278 1640,1285 1640.5,1288 1641,1284 1641.5,1278 1642,1288 1642.5,1274 1643,1274 1643.5,1283 1644,1286 1644.5,1274 1645,1275 1645.5,1269 1646,1270 1646.5,1276 1647,1270 1647.5,1268 1648,1287 1648.5,1289 1649,1271 1649.5,1276 1650,1267 1650.5,1278 1651,1270 1651.5,1282 1652,1284 1652.5,1285 1653,1270 1653.5,1287 1654,1288 1654.5,1274 1655,1291 1655.5,1275 1656,1274 1656.5,1271 1657,1289 1657.5,1290 1658,1285 1658.5,1275 1659,1272 1659.5,1285 1660,1285 1660.5,1282 1661,1269 1661.5,1270 1662,1280 1662.5,1269 1663,1284 1663.5,1287 1664,1287 1664.5,1284 1665,1269 1665.5,1270 1666,1287 1666.5,1278 1667,1270 1667.5,1268 1668,1270 1668.5,1285 1669,1273 1669.5,1282 1670,1286 1670.5,1274 1671,1285 1671.5,1284 1672,1270 1672.5,1270 1673,1285 1673.5,1283 1674,1283 1674.5,1280 1675,1286 1675.5,1276 1676,1283 1676.5,1282 1677,1276 1677.5,1273 1678,1270 1678.5,1286 1679,1283 1679.5,1282 1680,1273 1680.5,1284 1681,1271 1681.5,1280 1682,1271 1682.5,1277 1683,1280 1683.5,1282 1684,1287 1684.5,1288 1685,1284 1685.5,1267 1686,1275 1686.5,1283 1687,1287 1687.5,1266 1688,1275 1688.5,1289 1689,1289 1689.5,1288 1690,1269 1690.5,1274 1691,1289 1691.5,1289 1692,1290 1692.5,1283 1693,1284 1693.5,1272 1694,1284 1694.5,1272 1695,1287 1695.5,1281 1696,1273 1696.5,1270 1697,1270 1697.5,1270 1698,1288 1698.5,1276 1699,1280 1699.5,1271 1700,1287 1700.5,1289 1701,1279 1701.5,1288 1702,1288 1702.5,1282 1703,1272 1703.5,1282 1704,1273 1704.5,1286 1705,1286 1705.5,1274 1706,1277 1706.5,1282 1707,1275 1707.5,1285 1708,1279 1708.5,1282 1709,1278 1709.5,1284 1710,1284 1710.5,1284 1711,1276 1711.5,1276 1712,1274 1712.5,1287 1713,1271 1713.5,1276 1714,1269 1714.5,1282 1715,1288 1715.5,1279 1716,1268 1716.5,1275 1717,1282 1717.5,1270 1718,1278 1718.5,1274 1719,1267 1719.5,1285 1720,1272 1720.5,1270 1721,1281 1721.5,1276 1722,1273 1722.5,1267 1723,1297 1723.5,1280 1724,1276 1724.5,1279 1725,1276 1725.5,1284 1726,1286 1726.5,1273 1727,1287 1727.5,1273 1728,1280 1728.5,1287 1729,1282 1729.5,1268 1730,1280 1730.5,1285 1731,1268 1731.5,1271 1732,1276 1732.5,1275 1733,1288 1733.5,1269 1734,1271 1734.5,1280 1735,1270 1735.5,1280 1736,1281 1736.5,1279 1737,1276 1737.5,1277 1738,1276 1738.5,1276 1739,1275 1739.5,1274 1740,1272 1740.5,1280 1741,1281 1741.5,1279 1742,1279 1742.5,1285 1743,1287 1743.5,1269 1744,1277 1744.5,1278 1745,1270 1745.5,1275 1746,1277 1746.5,1268 1747,1277 1747.5,1270 1748,1277 1748.5,1272 1749,1270 1749.5,1269 1750,1280 1750.5,1267 1751,1277 1751.5,1262 1752,1284 1752.5,1283 1753,1271 1753.5,1276 1754,1284 1754.5,1271 1755,1286 1755.5,1283 1756,1289 1756.5,1282 1757,1269 1757.5,1277 1758,1284 1758.5,1279 1759,1276 1759.5,1273 1760,1284 1760.5,1271 1761,1286 1761.5,1274 1762,1281 1762.5,1290 1763,1282 1763.5,1289 1764,1269 1764.5,1280 1765,1283 1765.5,1271 1766,1284 1766.5,1284 1767,1279 1767.5,1287 1768,1268 1768.5,1290 1769,1270 1769.5,1286 1770,1272 1770.5,1268 1771,1282 1771.5,1281 1772,1286 1772.5,1289 1773,1279 1773.5,1281 1774,1282 1774.5,1276 1775,1287 1775.5,1286 1776,1272 1776.5,1285 1777,1273 1777.5,1275 1778,1282 1778.5,1278 1779,1282 1779.5,1274 1780,1286 1780.5,1271 1781,1268 1781.5,1273 1782,1280 1782.5,1287 1783,1276 1783.5,1270 1784,1290 1784.5,1283 1785,1275 1785.5,1273 1786,1272 1786.5,1271 1787,1284 1787.5,1271 1788,1283 1788.5,1277 1789,1282 1789.5,1276 1790,1271 1790.5,1269 1791,1285 1791.5,1285 1792,1272 1792.5,1275 1793,1278 1793.5,1287 1794,1277 1794.5,1280 1795,1271 1795.5,1272 1796,1283 1796.5,1279 1797,1272 1797.5,1283 1798,1274 1798.5,1286 1799,1288 1799.5,1287 1800,1274 1800.5,1281 1801,1286 1801.5,1282 1802,1271 1802.5,1275 1803,1283 1803.5,1277 1804,1273 1804.5,1281 1805,1286 1805.5,1283 1806,1275 1806.5,1274 1807,1272 1807.5,1275 1808,1281 1808.5,1287 1809,1275 1809.5,1284 1810,1287 1810.5,1277 1811,1284 1811.5,1287 1812,1275 1812.5,1280 1813,1285 1813.5,1274 1814,1273 1814.5,1281 1815,1281 1815.5,1285 1816,1282 1816.5,1286 1817,1280 1817.5,1282 1818,1285 1818.5,1278 1819,1278 1819.5,1283 1820,1273 1820.5,1279 1821,1275 1821.5,1280 1822,1272 1822.5,1273 1823,1281 1823.5,1277 1824,1284 1824.5,1282 1825,1281 1825.5,1287 1826,1273 1826.5,1288 1827,1274 1827.5,1274 1828,1289 1828.5,1276 1829,1281 1829.5,1279 1830,1278 1830.5,1282 1831,1289 1831.5,1281 1832,1285 1832.5,1291 1833,1282 1833.5,1279 1834,1282 1834.5,1289 1835,1287 1835.5,1292 1836,1280 1836.5,1292 1837,1281 1837.5,1274 1838,1286 1838.5,1292 1839,1278 1839.5,1292 1840,1291 1840.5,1280 1841,1290 1841.5,1280 1842,1287 1842.5,1284 1843,1278 1843.5,1283 1844,1282 1844.5,1275 1845,1292 1845.5,1280 1846,1266 1846.5,1293 1847,1282 1847.5,1282 1848,1291 1848.5,1280 1849,1293 1849.5,1283 1850,1281 1850.5,1280 1851,1279 1851.5,1292 1852,1283 1852.5,1275 1853,1275 1853.5,1288 1854,1290 1854.5,1291 1855,1275 1855.5,1278 1856,1288 1856.5,1287 1857,1287 1857.5,1276 1858,1286 1858.5,1286 1859,1288 1859.5,1280 1860,1284 1860.5,1276 1861,1286 1861.5,1272 1862,1288 1862.5,1284 1863,1277 1863.5,1275 1864,1280 1864.5,1286 1865,1289 1865.5,1290 1866,1281 1866.5,1276 1867,1272 1867.5,1285 1868,1282 1868.5,1274 1869,1281 1869.5,1278 1870,1286 1870.5,1271 1871,1273 1871.5,1273 1872,1279 1872.5,1276 1873,1282 1873.5,1279 1874,1276 1874.5,1284 1875,1281 1875.5,1271 1876,1277 1876.5,1282 1877,1282 1877.5,1278 1878,1272 1878.5,1286 1879,1280 1879.5,1282 1880,1287 1880.5,1269 1881,1271 1881.5,1284 1882,1271 1882.5,1269 1883,1289 1883.5,1270 1884,1286 1884.5,1289 1885,1277 1885.5,1281 1886,1271 1886.5,1289 1887,1287 1887.5,1275 1888,1271 1888.5,1284 1889,1289 1889.5,1272 1890,1287 1890.5,1286 1891,1274 1891.5,1273 1892,1273 1892.5,1275 1893,1278 1893.5,1274 1894,1276 1894.5,1281 1895,1281 1895.5,1289 1896,1273 1896.5,1287 1897,1274 1897.5,1274 1898,1287 1898.5,1281 1899,1299 1899.5,1288 1900,1285 1900.5,1285 1901,1277 1901.5,1276 1902,1280 1902.5,1278 1903,1274 1903.5,1285 1904,1286 1904.5,1288 1905,1283 1905.5,1281 1906,1277 1906.5,1278 1907,1287 1907.5,1285 1908,1272 1908.5,1282 1909,1289 1909.5,1288 1910,1278 1910.5,1287 1911,1288 1911.5,1283 1912,1289 1912.5,1274 1913,1290 1913.5,1288 1914,1279 1914.5,1287 1915,1281 1915.5,1287 1916,1278 1916.5,1284 1917,1273 1917.5,1290 1918,1285 1918.5,1289 1919,1284 1919.5,1285 1920,1289 1920.5,1291 1921,1279 1921.5,1278 1922,1286 1922.5,1281 1923,1291 1923.5,1283 1924,1274 1924.5,1273 1925,1287 1925.5,1279 1926,1277 1926.5,1285 1927,1276 1927.5,1279 1928,1279 1928.5,1287 1929,1286 1929.5,1290 1930,1277 1930.5,1291 1931,1282 1931.5,1279 1932,1290" stroke="#000080" stroke-width="6"/>
<path d="M168,1078 168.5,1078 169,1086 169.5,1075 170,1082 170.5,1084 171,1076 171.5,1069 172,1078 172.5,1083 173,1082 173.5,1076 174,1080 174.5,1083 175,1080 175.5,1083 176,1088 176.5,1083 177,1079 177.5,1077 178,1079 178.5,1081 179,1086 179.5,1085 180,1079 180.5,1086 181,1081 181.5,1083 182,1076 182.5,1076 183,1078 183.5,1085 184,1083 184.5,1085 185,1083 185.5,1080 186,1081 186.5,1082 187,1085 187.5,1080 188,1085 188.5,1082 189,1085 189.5,1081 190,1083 190.5,1079 191,1081 191.5,1078 192,1077 192.5,1076 193,1084 193.5,1081 194,1086 194.5,1085 195,1080 195.5,1087 196,1082 196.5,1085 197,1080 197.5,1077 198,1077 198.5,1077 199,1082 199.5,1076 200,1075 200.5,1085 201,1076 201.5,1080 202,1081 202.5,1083 203,1081 203.5,1087 204,1084 204.5,1082 205,1083 205.5,1081 206,1088 206.5,1077 207,1084 207.5,1082 208,1075 208.5,1078 209,1087 209.5,1085 210,1074 210.5,1078 211,1074 211.5,1086 212,1075 212.5,1074 213,1089 213.5,1080 214,1078 214.5,1074 215,1079 215.5,1079 216,1081 216.5,1073 217,1076 217.5,1077 218,1080 218.5,1078 219,1083 219.5,1078 220,1087 220.5,1088 221,1074 221.5,1076 222,1082 222.5,1085 223,1074 223.5,1076 224,1080 224.5,1083 225,1087 225.5,1086 226,1085 226.5,1074 227,1088 227.5,1083 228,1075 228.5,1077 229,1083 229.5,1079 230,1080 230.5,1085 231,1085 231.5,1081 232,1085 232.5,1080 233,1087 233.5,1082 234,1087 234.5,1075 235,1085 235.5,1090 236,1083 236.5,1077 237,1081 237.5,1078 238,1076 238.5,1075 239,1085 239.5,1083 240,1077 240.5,1078 241,1080 241.5,1084 242,1076 242.5,1086 243,1086 243.5,1077 244,1082 244.5,1078 245,1083 245.5,1074 246,1080 246.5,1081 247,1082 247.5,1083 248,1086 248.5,1076 249,1075 249.5,1078 250,1081 250.5,1086 251,1083 251.5,1083 252,1086 252.5,1076 253,1076 253.5,1078 254,1076 254.5,1081 255,1085 255.5,1074 256,1079 256.5,1081 257,1079 257.5,1084 258,1082 258.5,1084 259,1074 259.5,1075 260,1073 260.5,1083 261,1085 261.5,1072 262,1083 262.5,1082 263,1084 263.5,1076 264,1082 264.5,1075 265,1073 265.5,1082 266,1073 266.5,1081 267,1076 267.5,1079 268,1084 268.5,1076 269,1078 269.5,1077 270,1075 270.5,1079 271,1075 271.5,1083 272,1080 272.5,1076 273,1085 273.5,1077 274,1081 274.5,1082 275,1070 275.5,1073 276,1084 276.5,1085 277,1075 277.5,1075 278,1078 278.5,1080 279,1085 279.5,1085 280,1085 280.5,1076 281,1080 281.5,1078 282,1075 282.5,1073 283,1075 283.5,1077 284,1074 284.5,1074 285,1073 285.5,1080 286,1078 286.5,1075 287,1079 287.5,1077 288,1080 288.5,1084 289,1076 289.5,1080 290,1074 290.5,1084 291,1079 291.5,1073 292,1068 292.5,1073 293,1073 293.5,1075 294,1082 294.5,1077 295,1075 295.5,1076 296,1074 296.5,1080 297,1072 297.5,1075 298,1075 298.5,1073 299,1080 299.5,1073 300,1075 300.5,1072 301,1080 301.5,1075 302,1079 302.5,1073 303,1071 303.5,1074 304,1080 304.5,1081 305,1075 305.5,1081 306,1071 306.5,1077 307,1073 307.5,1076 308,1073 308.5,1082 309,1074 309.5,1082 310,1071 310.5,1075 311,1076 311.5,1079 312,1074 312.5,1076 313,1070 313.5,1074 314,1080 314.5,1071 315,1076 315.5,1073 316,1072 316.5,1071 317,1081 317.5,1079 318,1075 318.5,1075 319,1080 319.5,1078 320,1082 320.5,1082 321,1077 321.5,1079 322,1078 322.5,1074 323,1076 323.5,1080 324,1078 324.5,1079 325,1077 325.5,1084 326,1081 326.5,1071 327,1082 327.5,1084 328,1082 328.5,1075 329,1075 329.5,1073 330,1070 330.5,1077 331,1083 331.5,1082 332,1080 332.5,1083 333,1080 333.5,1072 334,1082 334.5,1075 335,1083 335.5,1074 336,1067 336.5,1081 337,1071 337.5,1082 338,1075 338.5,1081 339,1070 339.5,1077 340,1079 340.5,1072 341,1078 341.5,1072 342,1074 342.5,1075 343,1078 343.5,1072 344,1073 344.5,1080 345,1079 345.5,1076 346,1074 346.5,1078 347,1076 347.5,1074 348,1080 348.5,1073 349,1079 349.5,1077 350,1077 350.5,1078 351,1079 351.5,1080 352,1080 352.5,1073 353,1072 353.5,1080 354,1073 354.5,1073 355,1079 355.5,1080 356,1079 356.5,1076 357,1074 357.5,1081 358,1078 358.5,1077 359,1070 359.5,1072 360,1070 360.5,1079 361,1073 361.5,1072 362,1076 362.5,1072 363,1076 363.5,1080 364,1079 364.5,1072 365,1079 365.5,1074 366,1075 366.5,1073 367,1081 367.5,1062 368,1078 368.5,1076 369,1077 369.5,1069 370,1075 370.5,1082 371,1076 371.5,1069 372,1067 372.5,1071 373,1079 373.5,1066 374,1066 374.5,1077 375,1082 375.5,1073 376,1077 376.5,1070 377,1070 377.5,1074 378,1069 378.5,1074 379,1068 379.5,1082 380,1077 380.5,1068 381,1070 381.5,1079 382,1073 382.5,1071 383,1068 383.5,1077 384,1075 384.5,1079 385,1071 385.5,1077 386,1078 386.5,1078 387,1087 387.5,1074 388,1070 388.5,1076 389,1070 389.5,1070 390,1074 390.5,1071 391,1074 391.5,1079 392,1071 392.5,1078 393,1081 393.5,1070 394,1074 394.5,1077 395,1078 395.5,1063 396,1079 396.5,1073 397,1071 397.5,1075 398,1077 398.5,1080 399,1078 399.5,1070 400,1076 400.5,1073 401,1078 401.5,1069 402,1078 402.5,1080 403,1069 403.5,1069 404,1081 404.5,1082 405,1071 405.5,1082 406,1075 406.5,1076 407,1076 407.5,1074 408,1082 408.5,1078 409,1082 409.5,1078 410,1082 410.5,1076 411,1076 411.5,1077 412,1069 412.5,1080 413,1071 413.5,1083 414,1070 414.5,1079 415,1080 415.5,1077 416,1070 416.5,1081 417,1074 417.5,1073 418,1079 418.5,1084 419,1070 419.5,1075 420,1079 420.5,1073 421,1083 421.5,1078 422,1069 422.5,1070 423,1070 423.5,1075 424,1083 424.5,1070 425,1070 425.5,1071 426,1077 426.5,1075 427,1075 427.5,1070 428,1082 428.5,1076 429,1083 429.5,1068 430,1075 430.5,1074 431,1082 431.5,1080 432,1076 432.5,1070 433,1090 433.5,1084 434,1081 434.5,1085 435,1078 435.5,1073 436,1071 436.5,1082 437,1082 437.5,1079 438,1082 438.5,1076 439,1083 439.5,1080 440,1072 440.5,1078 441,1079 441.5,1072 442,1084 442.5,1082 443,1071 443.5,1072 444,1069 444.5,1083 445,1072 445.5,1082 446,1077 446.5,1070 447,1072 447.5,1073 448,1081 448.5,1075 449,1071 449.5,1083 450,1077 450.5,1070 451,1084 451.5,1079 452,1076 452.5,1071 453,1080 453.5,1070 454,1084 454.5,1081 455,1080 455.5,1081 456,1083 456.5,1076 457,1082 457.5,1065 458,1080 458.5,1081 459,1072 459.5,1070 460,1084 460.5,1084 461,1069 461.5,1078 462,1070 462.5,1071 463,1086 463.5,1080 464,1082 464.5,1072 465,1083 465.5,1081 466,1073 466.5,1063 467,1071 467.5,1079 468,1069 468.5,1075 469,1085 469.5,1080 470,1079 470.5,1067 471,1084 471.5,1079 472,1086 472.5,1086 473,1085 473.5,1076 474,1081 474.5,1067 475,1066 475.5,1081 476,1078 476.5,1083 477,1071 477.5,1074 478,1079 478.5,1076 479,1080 479.5,1071 480,1079 480.5,1079 481,1080 481.5,1071 482,1079 482.5,1069 483,1073 483.5,1080 484,1074 484.5,1073 485,1069 485.5,1071 486,1071 486.5,1074 487,1071 487.5,1068 488,1065 488.5,1079 489,1072 489.5,1065 490,1067 490.5,1073 491,1065 491.5,1076 492,1070 492.5,1073 493,1072 493.5,1064 494,1076 494.5,1075 495,1063 495.5,1070 496,1069 496.5,1066 497,1067 497.5,1065 498,1071 498.5,1067 499,1062 499.5,1064 500,1062 500.5,1070 501,1069 501.5,1066 502,1069 502.5,1070 503,1062 503.5,1059 504,1075 504.5,1061 505,1062 505.5,1070 506,1075 506.5,1059 507,1064 507.5,1072 508,1058 508.5,1060 509,1067 509.5,1071 510,1057 510.5,1062 511,1065 511.5,1064 512,1064 512.5,1073 513,1072 513.5,1056 514,1057 514.5,1059 515,1053 515.5,1053 516,1062 516.5,1070 517,1055 517.5,1053 518,1061 518.5,1054 519,1047 519.5,1049 520,1065 520.5,1048 521,1059 521.5,1054 522,1061 522.5,1055 523,1049 523.5,1048 524,1048 524.5,1047 525,1047 525.5,1048 526,1053 526.5,1052 527,1042 527.5,1048 528,1058 528.5,1057 529,1045 529.5,1041 530,1043 530.5,1040 531,1041 531.5,1053 532,1052 532.5,1043 533,1044 533.5,1047 534,1046 534.5,1045 535,1055 535.5,1042 536,1032 536.5,1043 537,1041 537.5,1031 538,1031 538.5,1054 539,1033 539.5,1041 540,1029 540.5,1037 541,1035 541.5,1024 542,1027 542.5,1028 543,1026 543.5,1014 544,1023 544.5,1029 545,1022 545.5,1029 546,1024 546.5,1024 547,1019 547.5,1029 548,1016 548.5,1030 549,1023 549.5,1028 550,1021 550.5,1017 551,1017 551.5,1024 552,1017 552.5,1015 553,1011 553.5,1010 554,1013 554.5,1013 555,1017 555.5,1007 556,1011 556.5,993 557,1007 557.5,1009 558,1014 558.5,990 559,1002 559.5,1009 560,1006 560.5,999 561,1007 561.5,1010 562,1006 562.5,1010 563,1005 563.5,998 564,1005 564.5,1000 565,992 565.5,996 566,1004 566.5,999 567,994 567.5,998 568,997 568.5,988 569,992 569.5,997 570,985 570.5,991 571,984 571.5,985 572,993 572.5,985 573,992 573.5,990 574,987 574.5,979 575,983 575.5,989 576,985 576.5,975 577,981 577.5,969 578,979 578.5,977 579,983 579.5,978 580,983 580.5,984 581,982 581.5,980 582,966 582.5,965 583,967 583.5,973 584,968 584.5,964 585,979 585.5,969 586,964 586.5,970 587,979 587.5,973 588,977 588.5,959 589,972 589.5,963 590,963 590.5,964 591,964 591.5,971 592,959 592.5,962 593,961 593.5,965 594,963 594.5,951 595,969 595.5,963 596,952 596.5,959 597,967 597.5,967 598,956 598.5,952 599,966 599.5,961 600,959 600.5,954 601,962 601.5,949 602,961 602.5,960 603,954 603.5,951 604,956 604.5,951 605,951 605.5,949 606,957 606.5,946 607,951 607.5,950 608,959 608.5,944 609,951 609.5,946 610,957 610.5,943 611,956 611.5,951 612,944 612.5,947 613,945 613.5,948 614,953 614.5,947 615,955 615.5,954 616,943 616.5,941 617,950 617.5,944 618,943 618.5,953 619,947 619.5,943 620,947 620.5,947 621,951 621.5,945 622,946 622.5,941 623,952 623.5,953 624,939 624.5,951 625,955 625.5,953 626,952 626.5,943 627,956 627.5,946 628,954 628.5,953 629,950 629.5,957 630,957 630.5,948 631,949 631.5,957 632,949 632.5,957 633,945 633.5,946 634,949 634.5,948 635,950 635.5,947 636,946 636.5,950 637,947 637.5,950 638,951 638.5,961 639,952 639.5,956 640,962 640.5,954 641,951 641.5,957 642,962 642.5,953 643,962 643.5,958 644,959 644.5,962 645,959 645.5,955 646,956 646.5,954 647,969 647.5,965 648,971 648.5,961 649,966 649.5,967 650,960 650.5,968 651,969 651.5,967 652,967 652.5,966 653,964 653.5,972 654,957 654.5,966 655,979 655.5,979 656,972 656.5,974 657,971 657.5,983 658,974 658.5,982 659,982 659.5,972 660,973 660.5,980 661,974 661.5,988 662,990 662.5,985 663,981 663.5,980 664,980 664.5,987 665,981 665.5,983 666,992 666.5,995 667,992 667.5,998 668,996 668.5,990 669,990 669.5,988 670,999 670.5,994 671,1001 671.5,995 672,1003 672.5,1001 673,999 673.5,1002 674,1003 674.5,992 675,1005 675.5,994 676,1002 676.5,1002 677,1007 677.5,999 678,1007 678.5,1009 679,1003 679.5,1007 680,1005 680.5,1010 681,1026 681.5,1008 682,1002 682.5,1015 683,1011 683.5,1006 684,1014 684.5,1011 685,1008 685.5,1011 686,1015 686.5,1012 687,1010 687.5,1009 688,1015 688.5,1020 689,1015 689.5,1017 690,1024 690.5,1036 691,1028 691.5,1026 692,1029 692.5,1022 693,1028 693.5,1032 694,1016 694.5,1024 695,1030 695.5,1021 696,1019 696.5,1028 697,1020 697.5,1023 698,1021 698.5,1048 699,1022 699.5,1039 700,1033 700.5,1031 701,1027 701.5,1032 702,1030 702.5,1042 703,1036 703.5,1027 704,1045 704.5,1046 705,1047 705.5,1034 706,1039 706.5,1043 707,1033 707.5,1039 708,1038 708.5,1048 709,1033 709.5,1050 710,1034 710.5,1051 711,1043 711.5,1039 712,1029 712.5,1053 713,1040 713.5,1051 714,1053 714.5,1043 715,1049 715.5,1048 716,1056 716.5,1043 717,1047 717.5,1052 718,1043 718.5,1046 719,1056 719.5,1054 720,1053 720.5,1059 721,1047 721.5,1060 722,1050 722.5,1061 723,1058 723.5,1058 724,1056 724.5,1060 725,1051 725.5,1059 726,1049 726.5,1059 727,1064 727.5,1065 728,1052 728.5,1064 729,1059 729.5,1056 730,1056 730.5,1057 731,1057 731.5,1067 732,1063 732.5,1053 733,1064 733.5,1061 734,1069 734.5,1056 735,1065 735.5,1061 736,1056 736.5,1054 737,1069 737.5,1053 738,1057 738.5,1062 739,1058 739.5,1064 740,1057 740.5,1068 741,1065 741.5,1066 742,1073 742.5,1057 743,1063 743.5,1058 744,1060 744.5,1065 745,1070 745.5,1059 746,1071 746.5,1070 747,1053 747.5,1073 748,1064 748.5,1076 749,1076 749.5,1065 750,1077 750.5,1073 751,1068 751.5,1070 752,1075 752.5,1079 753,1078 753.5,1079 754,1066 754.5,1057 755,1060 755.5,1066 756,1059 756.5,1071 757,1060 757.5,1065 758,1065 758.5,1080 759,1070 759.5,1061 760,1077 760.5,1081 761,1076 761.5,1060 762,1079 762.5,1065 763,1079 763.5,1079 764,1076 764.5,1062 765,1069 765.5,1063 766,1079 766.5,1062 767,1071 767.5,1078 768,1080 768.5,1070 769,1062 769.5,1082 770,1067 770.5,1072 771,1060 771.5,1068 772,1083 772.5,1078 773,1078 773.5,1074 774,1064 774.5,1066 775,1083 775.5,1063 776,1076 776.5,1069 777,1077 777.5,1064 778,1063 778.5,1073 779,1066 779.5,1078 780,1087 780.5,1064 781,1066 781.5,1064 782,1069 782.5,1065 783,1074 783.5,1068 784,1072 784.5,1079 785,1079 785.5,1064 786,1066 786.5,1073 787,1070 787.5,1060 788,1076 788.5,1078 789,1069 789.5,1062 790,1075 790.5,1061 791,1061 791.5,1073 792,1070 792.5,1081 793,1066 793.5,1065 794,1068 794.5,1078 795,1075 795.5,1062 796,1065 796.5,1080 797,1073 797.5,1070 798,1064 798.5,1067 799,1064 799.5,1078 800,1080 800.5,1073 801,1077 801.5,1066 802,1069 802.5,1075 803,1076 803.5,1075 804,1066 804.5,1081 805,1069 805.5,1077 806,1080 806.5,1067 807,1073 807.5,1076 808,1083 808.5,1078 809,1073 809.5,1078 810,1075 810.5,1067 811,1069 811.5,1077 812,1078 812.5,1073 813,1070 813.5,1066 814,1080 814.5,1068 815,1079 815.5,1084 816,1081 816.5,1076 817,1065 817.5,1078 818,1084 818.5,1070 819,1081 819.5,1075 820,1079 820.5,1078 821,1070 821.5,1073 822,1066 822.5,1066 823,1069 823.5,1077 824,1071 824.5,1080 825,1076 825.5,1081 826,1078 826.5,1071 827,1064 827.5,1072 828,1072 828.5,1063 829,1064 829.5,1082 830,1078 830.5,1067 831,1059 831.5,1064 832,1071 832.5,1081 833,1057 833.5,1075 834,1081 834.5,1081 835,1071 835.5,1082 836,1073 836.5,1055 837,1062 837.5,1079 838,1057 838.5,1058 839,1070 839.5,1077 840,1064 840.5,1070 841,1079 841.5,1076 842,1055 842.5,1072 843,1058 843.5,1079 844,1073 844.5,1078 845,1068 845.5,1057 846,1061 846.5,1058 847,1075 847.5,1079 848,1068 848.5,1082 849,1062 849.5,1068 850,1068 850.5,1070 851,1058 851.5,1062 852,1061 852.5,1075 853,1071 853.5,1084 854,1075 854.5,1065 855,1063 855.5,1077 856,1080 856.5,1054 857,1074 857.5,1083 858,1082 858.5,1067 859,1074 859.5,1081 860,1077 860.5,1067 861,1073 861.5,1072 862,1073 862.5,1084 863,1082 863.5,1085 864,1082 864.5,1085 865,1076 865.5,1085 866,1079 866.5,1083 867,1074 867.5,1085 868,1077 868.5,1086 869,1076 869.5,1077 870,1079 870.5,1086 871,1083 871.5,1075 872,1079 872.5,1085 873,1086 873.5,1084 874,1076 874.5,1086 875,1077 875.5,1083 876,1084 876.5,1082 877,1072 877.5,1074 878,1083 878.5,1081 879,1084 879.5,1081 880,1081 880.5,1084 881,1084 881.5,1075 882,1083 882.5,1085 883,1072 883.5,1077 884,1078 884.5,1078 885,1083 885.5,1069 886,1070 886.5,1082 887,1073 887.5,1076 888,1070 888.5,1086 889,1077 889.5,1068 890,1085 890.5,1079 891,1071 891.5,1068 892,1066 892.5,1085 893,1068 893.5,1070 894,1078 894.5,1066 895,1082 895.5,1080 896,1080 896.5,1062 897,1071 897.5,1083 898,1092 898.5,1079 899,1087 899.5,1067 900,1083 900.5,1069 901,1070 901.5,1063 902,1088 902.5,1067 903,1069 903.5,1072 904,1074 904.5,1084 905,1065 905.5,1065 906,1069 906.5,1085 907,1084 907.5,1085 908,1076 908.5,1064 909,1078 909.5,1071 910,1068 910.5,1071 911,1081 911.5,1078 912,1081 912.5,1078 913,1078 913.5,1077 914,1081 914.5,1079 915,1079 915.5,1073 916,1070 916.5,1081 917,1078 917.5,1081 918,1073 918.5,1068 919,1081 919.5,1071 920,1080 920.5,1058 921,1070 921.5,1070 922,1071 922.5,1080 923,1070 923.5,1074 924,1077 924.5,1077 925,1078 925.5,1077 926,1071 926.5,1071 927,1080 927.5,1073 928,1071 928.5,1073 929,1071 929.5,1080 930,1072 930.5,1078 931,1075 931.5,1078 932,1084 932.5,1076 933,1069 933.5,1080 934,1072 934.5,1071 935,1083 935.5,1069 936,1071 936.5,1074 937,1081 937.5,1081 938,1072 938.5,1063 939,1062 939.5,1065 940,1086 940.5,1072 941,1073 941.5,1078 942,1073 942.5,1065 943,1077 943.5,1065 944,1058 944.5,1061 945,1075 945.5,1078 946,1067 946.5,1061 947,1067 947.5,1063 948,1064 948.5,1074 949,1073 949.5,1072 950,1068 950.5,1072 951,1069 951.5,1067 952,1060 952.5,1077 953,1066 953.5,1076 954,1077 954.5,1066 955,1072 955.5,1069 956,1074 956.5,1078 957,1057 957.5,1075 958,1051 958.5,1061 959,1071 959.5,1061 960,1066 960.5,1059 961,1056 961.5,1065 962,1059 962.5,1074 963,1055 963.5,1057 964,1074 964.5,1059 965,1067 965.5,1054 966,1068 966.5,1064 967,1071 967.5,1068 968,1067 968.5,1062 969,1064 969.5,1068 970,1058 970.5,1065 971,1052 971.5,1070 972,1063 972.5,1051 973,1053 973.5,1055 974,1049 974.5,1059 975,1059 975.5,1060 976,1056 976.5,1051 977,1063 977.5,1056 978,1044 978.5,1062 979,1047 979.5,1058 980,1057 980.5,1063 981,1063 981.5,1052 982,1056 982.5,1048 983,1055 983.5,1050 984,1052 984.5,1051 985,1069 985.5,1054 986,1058 986.5,1051 987,1050 987.5,1069 988,1049 988.5,1044 989,1047 989.5,1055 990,1050 990.5,1055 991,1054 991.5,1057 992,1044 992.5,1056 993,1044 993.5,1048 994,1057 994.5,1046 995,1050 995.5,1046 996,1041 996.5,1048 997,1039 997.5,1039 998,1046 998.5,1044 999,1054 999.5,1047 1000,1043 1000.5,1041 1001,1056 1001.5,1064 1002,1048 1002.5,1037 1003,1047 1003.5,1035 1004,1031 1004.5,1042 1005,1034 1005.5,1034 1006,1046 1006.5,1052 1007,1038 1007.5,1053 1008,1035 1008.5,1027 1009,1040 1009.5,1051 1010,1045 1010.5,1045 1011,1033 1011.5,1035 1012,1037 1012.5,1048 1013,1052 1013.5,1053 1014,1052 1014.5,1051 1015,1051 1015.5,1047 1016,1033 1016.5,1034 1017,1034 1017.5,1048 1018,1048 1018.5,1037 1019,1040 1019.5,1037 1020,1052 1020.5,1050 1021,1049 1021.5,1048 1022,1029 1022.5,1045 1023,1041 1023.5,1047 1024,1048 1024.5,1050 1025,1041 1025.5,1054 1026,1051 1026.5,1051 1027,1045 1027.5,1049 1028,1052 1028.5,1046 1029,1053 1029.5,1052 1030,1055 1030.5,1067 1031,1055 1031.5,1060 1032,1055 1032.5,1044 1033,1045 1033.5,1052 1034,1053 1034.5,1056 1035,1053 1035.5,1053 1036,1046 1036.5,1062 1037,1056 1037.5,1066 1038,1065 1038.5,1070 1039,1060 1039.5,1046 1040,1055 1040.5,1057 1041,1051 1041.5,1047 1042,1063 1042.5,1064 1043,1051 1043.5,1047 1044,1063 1044.5,1062 1045,1051 1045.5,1052 1046,1054 1046.5,1062 1047,1066 1047.5,1065 1048,1055 1048.5,1057 1049,1061 1049.5,1063 1050,1057 1050.5,1059 1051,1063 1051.5,1064 1052,1065 1052.5,1063 1053,1057 1053.5,1060 1054,1064 1054.5,1061 1055,1070 1055.5,1061 1056,1069 1056.5,1061 1057,1069 1057.5,1068 1058,1072 1058.5,1068 1059,1072 1059.5,1072 1060,1065 1060.5,1068 1061,1062 1061.5,1064 1062,1074 1062.5,1065 1063,1067 1063.5,1065 1064,1074 1064.5,1065 1065,1072 1065.5,1066 1066,1075 1066.5,1067 1067,1073 1067.5,1077 1068,1074 1068.5,1073 1069,1075 1069.5,1072 1070,1069 1070.5,1076 1071,1078 1071.5,1071 1072,1073 1072.5,1078 1073,1071 1073.5,1072 1074,1072 1074.5,1070 1075,1080 1075.5,1077 1076,1077 1076.5,1079 1077,1080 1077.5,1075 1078,1082 1078.5,1067 1079,1071 1079.5,1070 1080,1077 1080.5,1080 1081,1082 1081.5,1085 1082,1095 1082.5,1075 1083,1076 1083.5,1077 1084,1066 1084.5,1062 1085,1081 1085.5,1067 1086,1072 1086.5,1068 1087,1067 1087.5,1073 1088,1075 1088.5,1068 1089,1080 1089.5,1081 1090,1089 1090.5,1082 1091,1065 1091.5,1068 1092,1088 1092.5,1069 1093,1070 1093.5,1076 1094,1085 1094.5,1077 1095,1066 1095.5,1074 1096,1089 1096.5,1071 1097,1082 1097.5,1073 1098,1067 1098.5,1074 1099,1077 1099.5,1086 1100,1071 1100.5,1086 1101,1070 1101.5,1074 1102,1076 1102.5,1087 1103,1075 1103.5,1074 1104,1068 1104.5,1072 1105,1080 1105.5,1082 1106,1076 1106.5,1086 1107,1068 1107.5,1080 1108,1075 1108.5,1078 1109,1074 1109.5,1070 1110,1070 1110.5,1069 1111,1079 1111.5,1087 1112,1070 1112.5,1085 1113,1081 1113.5,1073 1114,1070 1114.5,1071 1115,1087 1115.5,1079 1116,1088 1116.5,1072 1117,1069 1117.5,1078 1118,1068 1118.5,1077 1119,1078 1119.5,1087 1120,1082 1120.5,1067 1121,1068 1121.5,1067 1122,1078 1122.5,1079 1123,1079 1123.5,1085 1124,1072 1124.5,1078 1125,1084 1125.5,1081 1126,1075 1126.5,1070 1127,1071 1127.5,1085 1128,1072 1128.5,1070 1129,1082 1129.5,1079 1130,1077 1130.5,1080 1131,1064 1131.5,1076 1132,1074 1132.5,1072 1133,1080 1133.5,1076 1134,1076 1134.5,1079 1135,1080 1135.5,1082 1136,1080 1136.5,1074 1137,1070 1137.5,1079 1138,1072 1138.5,1075 1139,1084 1139.5,1069 1140,1074 1140.5,1071 1141,1077 1141.5,1077 1142,1072 1142.5,1086 1143,1078 1143.5,1068 1144,1083 1144.5,1080 1145,1074 1145.5,1082 1146,1082 1146.5,1073 1147,1085 1147.5,1079 1148,1066 1148.5,1069 1149,1066 1149.5,1079 1150,1068 1150.5,1075 1151,1076 1151.5,1067 1152,1086 1152.5,1085 1153,1086 1153.5,1073 1154,1072 1154.5,1068 1155,1087 1155.5,1082 1156,1068 1156.5,1062 1157,1084 1157.5,1071 1158,1074 1158.5,1083 1159,1084 1159.5,1077 1160,1085 1160.5,1076 1161,1075 1161.5,1080 1162,1078 1162.5,1072 1163,1083 1163.5,1081 1164,1069 1164.5,1079 1165,1078 1165.5,1079 1166,1079 1166.5,1082 1167,1076 1167.5,1078 1168,1087 1168.5,1068 1169,1083 1169.5,1068 1170,1067 1170.5,1086 1171,1069 1171.5,1069 1172,1085 1172.5,1074 1173,1077 1173.5,1080 1174,1078 1174.5,1083 1175,1077 1175.5,1084 1176,1075 1176.5,1071 1177,1084 1177.5,1087 1178,1085 1178.5,1070 1179,1078 1179.5,1081 1180,1080 1180.5,1085 1181,1088 1181.5,1081 1182,1086 1182.5,1076 1183,1079 1183.5,1086 1184,1073 1184.5,1080 1185,1081 1185.5,1074 1186,1083 1186.5,1084 1187,1081 1187.5,1073 1188,1073 1188.5,1080 1189,1073 1189.5,1083 1190,1084 1190.5,1070 1191,1081 1191.5,1083 1192,1082 1192.5,1085 1193,1083 1193.5,1072 1194,1074 1194.5,1082 1195,1085 1195.5,1073 1196,1078 1196.5,1071 1197,1083 1197.5,1085 1198,1070 1198.5,1085 1199,1075 1199.5,1076 1200,1077 1200.5,1086 1201,1077 1201.5,1084 1202,1087 1202.5,1082 1203,1082 1203.5,1082 1204,1080 1204.5,1072 1205,1077 1205.5,1077 1206,1074 1206.5,1082 1207,1074 1207.5,1074 1208,1073 1208.5,1077 1209,1078 1209.5,1086 1210,1072 1210.5,1083 1211,1074 1211.5,1085 1212,1077 1212.5,1081 1213,1082 1213.5,1084 1214,1086 1214.5,1080 1215,1079 1215.5,1076 1216,1077 1216.5,1088 1217,1073 1217.5,1081 1218,1075 1218.5,1086 1219,1075 1219.5,1071 1220,1077 1220.5,1079 1221,1071 1221.5,1068 1222,1074 1222.5,1068 1223,1085 1223.5,1075 1224,1082 1224.5,1087 1225,1079 1225.5,1087 1226,1078 1226.5,1068 1227,1078 1227.5,1076 1228,1075 1228.5,1078 1229,1086 1229.5,1084 1230,1084 1230.5,1071 1231,1096 1231.5,1084 1232,1072 1232.5,1088 1233,1076 1233.5,1086 1234,1078 1234.5,1078 1235,1082 1235.5,1084 1236,1074 1236.5,1083 1237,1071 1237.5,1073 1238,1076 1238.5,1069 1239,1086 1239.5,1079 1240,1072 1240.5,1081 1241,1074 1241.5,1072 1242,1076 1242.5,1062 1243,1074 1243.5,1087 1244,1071 1244.5,1079 1245,1080 1245.5,1080 1246,1088 1246.5,1070 1247,1084 1247.5,1071 1248,1072 1248.5,1078 1249,1080 1249.5,1080 1250,1076 1250.5,1087 1251,1085 1251.5,1081 1252,1087 1252.5,1076 1253,1086 1253.5,1078 1254,1072 1254.5,1086 1255,1075 1255.5,1073 1256,1075 1256.5,1083 1257,1083 1257.5,1085 1258,1075 1258.5,1074 1259,1086 1259.5,1075 1260,1072 1260.5,1084 1261,1073 1261.5,1081 1262,1075 1262.5,1082 1263,1077 1263.5,1085 1264,1074 1264.5,1069 1265,1075 1265.5,1069 1266,1072 1266.5,1073 1267,1073 1267.5,1072 1268,1074 1268.5,1082 1269,1068 1269.5,1085 1270,1069 1270.5,1084 1271,1083 1271.5,1078 1272,1076 1272.5,1067 1273,1089 1273.5,1081 1274,1071 1274.5,1069 1275,1089 1275.5,1081 1276,1086 1276.5,1085 1277,1066 1277.5,1088 1278,1082 1278.5,1078 1279,1078 1279.5,1078 1280,1087 1280.5,1073 1281,1068 1281.5,1071 1282,1083 1282.5,1061 1283,1076 1283.5,1087 1284,1079 1284.5,1070 1285,1076 1285.5,1077 1286,1087 1286.5,1072 1287,1082 1287.5,1083 1288,1072 1288.5,1086 1289,1075 1289.5,1071 1290,1085 1290.5,1086 1291,1079 1291.5,1074 1292,1071 1292.5,1086 1293,1078 1293.5,1087 1294,1080 1294.5,1083 1295,1077 1295.5,1076 1296,1080 1296.5,1069 1297,1076 1297.5,1081 1298,1072 1298.5,1071 1299,1075 1299.5,1074 1300,1083 1300.5,1070 1301,1085 1301.5,1071 1302,1073 1302.5,1078 1303,1075 1303.5,1074 1304,1070 1304.5,1070 1305,1084 1305.5,1087 1306,1086 1306.5,1079 1307,1073 1307.5,1064 1308,1081 1308.5,1078 1309,1082 1309.5,1078 1310,1084 1310.5,1086 1311,1084 1311.5,1082 1312,1088 1312.5,1082 1313,1070 1313.5,1089 1314,1088 1314.5,1072 1315,1062 1315.5,1089 1316,1079 1316.5,1086 1317,1085 1317.5,1087 1318,1077 1318.5,1086 1319,1080 1319.5,1077 1320,1078 1320.5,1088 1321,1076 1321.5,1087 1322,1083 1322.5,1076 1323,1071 1323.5,1086 1324,1071 1324.5,1088 1325,1075 1325.5,1095 1326,1070 1326.5,1070 1327,1087 1327.5,1073 1328,1073 1328.5,1079 1329,1080 1329.5,1073 1330,1087 1330.5,1070 1331,1071 1331.5,1089 1332,1078 1332.5,1070 1333,1070 1333.5,1075 1334,1076 1334.5,1088 1335,1077 1335.5,1077 1336,1078 1336.5,1075 1337,1077 1337.5,1088 1338,1087 1338.5,1080 1339,1070 1339.5,1084 1340,1076 1340.5,1087 1341,1083 1341.5,1080 1342,1074 1342.5,1081 1343,1093 1343.5,1084 1344,1076 1344.5,1083 1345,1074 1345.5,1074 1346,1083 1346.5,1088 1347,1084 1347.5,1075 1348,1072 1348.5,1086 1349,1073 1349.5,1085 1350,1093 1350.5,1068 1351,1090 1351.5,1090 1352,1073 1352.5,1076 1353,1088 1353.5,1074 1354,1077 1354.5,1071 1355,1086 1355.5,1077 1356,1087 1356.5,1088 1357,1094 1357.5,1076 1358,1071 1358.5,1084 1359,1087 1359.5,1071 1360,1084 1360.5,1074 1361,1078 1361.5,1076 1362,1080 1362.5,1076 1363,1086 1363.5,1070 1364,1081 1364.5,1082 1365,1087 1365.5,1080 1366,1077 1366.5,1073 1367,1075 1367.5,1085 1368,1069 1368.5,1086 1369,1086 1369.5,1078 1370,1086 1370.5,1060 1371,1071 1371.5,1084 1372,1083 1372.5,1075 1373,1083 1373.5,1069 1374,1067 1374.5,1086 1375,1078 1375.5,1085 1376,1079 1376.5,1077 1377,1088 1377.5,1089 1378,1078 1378.5,1074 1379,1074 1379.5,1085 1380,1074 1380.5,1077 1381,1068 1381.5,1072 1382,1086 1382.5,1087 1383,1088 1383.5,1073 1384,1080 1384.5,1079 1385,1085 1385.5,1076 1386,1085 1386.5,1074 1387,1076 1387.5,1073 1388,1064 1388.5,1081 1389,1083 1389.5,1077 1390,1083 1390.5,1079 1391,1083 1391.5,1077 1392,1075 1392.5,1082 1393,1073 1393.5,1083 1394,1084 1394.5,1073 1395,1082 1395.5,1079 1396,1086 1396.5,1070 1397,1072 1397.5,1074 1398,1085 1398.5,1073 1399,1075 1399.5,1079 1400,1094 1400.5,1085 1401,1069 1401.5,1062 1402,1088 1402.5,1077 1403,1072 1403.5,1071 1404,1077 1404.5,1082 1405,1089 1405.5,1088 1406,1088 1406.5,1072 1407,1071 1407.5,1076 1408,1083 1408.5,1078 1409,1086 1409.5,1080 1410,1088 1410.5,1082 1411,1078 1411.5,1078 1412,1085 1412.5,1079 1413,1078 1413.5,1074 1414,1084 1414.5,1079 1415,1074 1415.5,1079 1416,1082 1416.5,1084 1417,1086 1417.5,1075 1418,1080 1418.5,1076 1419,1077 1419.5,1080 1420,1082 1420.5,1072 1421,1073 1421.5,1084 1422,1077 1422.5,1073 1423,1079 1423.5,1078 1424,1076 1424.5,1084 1425,1083 1425.5,1079 1426,1083 1426.5,1084 1427,1076 1427.5,1074 1428,1077 1428.5,1080 1429,1084 1429.5,1081 1430,1081 1430.5,1078 1431,1080 1431.5,1076 1432,1072 1432.5,1074 1433,1077 1433.5,1076 1434,1083 1434.5,1081 1435,1081 1435.5,1075 1436,1080 1436.5,1074 1437,1081 1437.5,1061 1438,1073 1438.5,1072 1439,1078 1439.5,1079 1440,1084 1440.5,1075 1441,1075 1441.5,1073 1442,1082 1442.5,1074 1443,1082 1443.5,1080 1444,1076 1444.5,1075 1445,1085 1445.5,1087 1446,1074 1446.5,1080 1447,1087 1447.5,1072 1448,1069 1448.5,1085 1449,1076 1449.5,1083 1450,1089 1450.5,1075 1451,1081 1451.5,1077 1452,1088 1452.5,1076 1453,1078 1453.5,1084 1454,1073 1454.5,1086 1455,1073 1455.5,1083 1456,1086 1456.5,1068 1457,1078 1457.5,1079 1458,1086 1458.5,1078 1459,1084 1459.5,1060 1460,1064 1460.5,1083 1461,1072 1461.5,1072 1462,1071 1462.5,1074 1463,1074 1463.5,1076 1464,1079 1464.5,1072 1465,1076 1465.5,1075 1466,1081 1466.5,1080 1467,1083 1467.5,1083 1468,1076 1468.5,1082 1469,1077 1469.5,1078 1470,1082 1470.5,1077 1471,1086 1471.5,1070 1472,1088 1472.5,1079 1473,1082 1473.5,1070 1474,1076 1474.5,1069 1475,1088 1475.5,1075 1476,1090 1476.5,1087 1477,1072 1477.5,1067 1478,1071 1478.5,1068 1479,1090 1479.5,1071 1480,1087 1480.5,1069 1481,1079 1481.5,1068 1482,1073 1482.5,1073 1483,1077 1483.5,1083 1484,1089 1484.5,1087 1485,1076 1485.5,1083 1486,1083 1486.5,1088 1487,1076 1487.5,1082 1488,1077 1488.5,1088 1489,1078 1489.5,1083 1490,1065 1490.5,1086 1491,1082 1491.5,1072 1492,1083 1492.5,1072 1493,1081 1493.5,1086 1494,1078 1494.5,1080 1495,1083 1495.5,1072 1496,1071 1496.5,1073 1497,1087 1497.5,1084 1498,1084 1498.5,1080 1499,1082 1499.5,1092 1500,1084 1500.5,1084 1501,1074 1501.5,1077 1502,1080 1502.5,1084 1503,1075 1503.5,1085 1504,1094 1504.5,1074 1505,1082 1505.5,1085 1506,1085 1506.5,1085 1507,1073 1507.5,1086 1508,1077 1508.5,1073 1509,1072 1509.5,1082 1510,1079 1510.5,1079 1511,1075 1511.5,1081 1512,1083 1512.5,1079 1513,1073 1513.5,1072 1514,1081 1514.5,1074 1515,1071 1515.5,1085 1516,1071 1516.5,1078 1517,1083 1517.5,1074 1518,1073 1518.5,1076 1519,1076 1519.5,1072 1520,1080 1520.5,1088 1521,1087 1521.5,1084 1522,1075 1522.5,1087 1523,1070 1523.5,1080 1524,1083 1524.5,1085 1525,1088 1525.5,1082 1526,1081 1526.5,1085 1527,1088 1527.5,1072 1528,1086 1528.5,1086 1529,1079 1529.5,1087 1530,1086 1530.5,1072 1531,1088 1531.5,1079 1532,1072 1532.5,1077 1533,1088 1533.5,1077 1534,1087 1534.5,1080 1535,1076 1535.5,1085 1536,1075 1536.5,1083 1537,1072 1537.5,1074 1538,1080 1538.5,1076 1539,1071 1539.5,1077 1540,1082 1540.5,1084 1541,1086 1541.5,1072 1542,1085 1542.5,1079 1543,1084 1543.5,1077 1544,1077 1544.5,1087 1545,1082 1545.5,1081 1546,1085 1546.5,1076 1547,1086 1547.5,1083 1548,1085 1548.5,1088 1549,1083 1549.5,1083 1550,1085 1550.5,1081 1551,1086 1551.5,1078 1552,1074 1552.5,1075 1553,1086 1553.5,1075 1554,1072 1554.5,1077 1555,1080 1555.5,1083 1556,1072 1556.5,1078 1557,1083 1557.5,1078 1558,1075 1558.5,1084 1559,1076 1559.5,1073 1560,1078 1560.5,1080 1561,1081 1561.5,1080 1562,1081 1562.5,1077 1563,1080 1563.5,1081 1564,1082 1564.5,1081 1565,1074 1565.5,1080 1566,1081 1566.5,1084 1567,1083 1567.5,1069 1568,1084 1568.5,1075 1569,1077 1569.5,1070 1570,1074 1570.5,1070 1571,1074 1571.5,1071 1572,1070 1572.5,1073 1573,1083 1573.5,1075 1574,1071 1574.5,1067 1575,1071 1575.5,1085 1576,1084 1576.5,1083 1577,1082 1577.5,1083 1578,1064 1578.5,1084 1579,1083 1579.5,1068 1580,1085 1580.5,1079 1581,1069 1581.5,1084 1582,1065 1582.5,1078 1583,1074 1583.5,1077 1584,1085 1584.5,1076 1585,1082 1585.5,1068 1586,1087 1586.5,1074 1587,1067 1587.5,1069 1588,1086 1588.5,1066 1589,1086 1589.5,1083 1590,1062 1590.5,1085 1591,1058 1591.5,1082 1592,1073 1592.5,1082 1593,1069 1593.5,1082 1594,1079 1594.5,1084 1595,1079 1595.5,1083 1596,1076 1596.5,1084 1597,1085 1597.5,1072 1598,1082 1598.5,1076 1599,1085 1599.5,1086 1600,1082 1600.5,1076 1601,1084 1601.5,1083 1602,1074 1602.5,1077 1603,1072 1603.5,1079 1604,1075 1604.5,1077 1605,1079 1605.5,1086 1606,1087 1606.5,1075 1607,1074 1607.5,1083 1608,1083 1608.5,1079 1609,1087 1609.5,1075 1610,1089 1610.5,1082 1611,1085 1611.5,1076 1612,1072 1612.5,1084 1613,1078 1613.5,1080 1614,1086 1614.5,1079 1615,1086 1615.5,1076 1616,1081 1616.5,1078 1617,1075 1617.5,1082 1618,1080 1618.5,1083 1619,1082 1619.5,1077 1620,1076 1620.5,1081 1621,1081 1621.5,1076 1622,1079 1622.5,1072 1623,1073 1623.5,1067 1624,1075 1624.5,1083 1625,1084 1625.5,1086 1626,1080 1626.5,1084 1627,1083 1627.5,1075 1628,1077 1628.5,1088 1629,1073 1629.5,1074 1630,1082 1630.5,1081 1631,1083 1631.5,1080 1632,1085 1632.5,1079 1633,1081 1633.5,1084 1634,1088 1634.5,1076 1635,1080 1635.5,1080 1636,1074 1636.5,1088 1637,1085 1637.5,1079 1638,1077 1638.5,1076 1639,1080 1639.5,1077 1640,1081 1640.5,1081 1641,1082 1641.5,1087 1642,1086 1642.5,1074 1643,1073 1643.5,1083 1644,1080 1644.5,1071 1645,1076 1645.5,1074 1646,1081 1646.5,1075 1647,1088 1647.5,1087 1648,1070 1648.5,1083 1649,1087 1649.5,1076 1650,1088 1650.5,1073 1651,1072 1651.5,1072 1652,1076 1652.5,1081 1653,1085 1653.5,1070 1654,1069 1654.5,1071 1655,1087 1655.5,1088 1656,1084 1656.5,1070 1657,1071 1657.5,1076 1658,1093 1658.5,1081 1659,1081 1659.5,1072 1660,1084 1660.5,1083 1661,1075 1661.5,1075 1662,1070 1662.5,1073 1663,1072 1663.5,1076 1664,1079 1664.5,1084 1665,1076 1665.5,1074 1666,1083 1666.5,1071 1667,1073 1667.5,1094 1668,1080 1668.5,1078 1669,1074 1669.5,1072 1670,1070 1670.5,1080 1671,1080 1671.5,1079 1672,1079 1672.5,1085 1673,1086 1673.5,1076 1674,1073 1674.5,1073 1675,1073 1675.5,1087 1676,1078 1676.5,1073 1677,1073 1677.5,1081 1678,1064 1678.5,1083 1679,1088 1679.5,1076 1680,1087 1680.5,1074 1681,1074 1681.5,1088 1682,1083 1682.5,1084 1683,1087 1683.5,1079 1684,1079 1684.5,1074 1685,1080 1685.5,1081 1686,1081 1686.5,1076 1687,1073 1687.5,1076 1688,1071 1688.5,1071 1689,1072 1689.5,1070 1690,1086 1690.5,1071 1691,1074 1691.5,1086 1692,1063 1692.5,1081 1693,1085 1693.5,1077 1694,1083 1694.5,1082 1695,1073 1695.5,1086 1696,1082 1696.5,1072 1697,1093 1697.5,1084 1698,1085 1698.5,1080 1699,1083 1699.5,1072 1700,1085 1700.5,1072 1701,1078 1701.5,1076 1702,1080 1702.5,1086 1703,1086 1703.5,1074 1704,1082 1704.5,1083 1705,1069 1705.5,1084 1706,1078 1706.5,1078 1707,1072 1707.5,1078 1708,1076 1708.5,1067 1709,1070 1709.5,1086 1710,1072 1710.5,1087 1711,1077 1711.5,1082 1712,1065 1712.5,1066 1713,1066 1713.5,1081 1714,1073 1714.5,1066 1715,1086 1715.5,1073 1716,1079 1716.5,1081 1717,1079 1717.5,1076 1718,1063 1718.5,1069 1719,1096 1719.5,1083 1720,1091 1720.5,1063 1721,1069 1721.5,1066 1722,1086 1722.5,1082 1723,1087 1723.5,1070 1724,1088 1724.5,1064 1725,1066 1725.5,1071 1726,1082 1726.5,1080 1727,1067 1727.5,1067 1728,1084 1728.5,1075 1729,1067 1729.5,1065 1730,1068 1730.5,1068 1731,1085 1731.5,1070 1732,1086 1732.5,1076 1733,1080 1733.5,1068 1734,1070 1734.5,1071 1735,1068 1735.5,1076 1736,1070 1736.5,1070 1737,1073 1737.5,1081 1738,1086 1738.5,1070 1739,1086 1739.5,1078 1740,1067 1740.5,1071 1741,1084 1741.5,1068 1742,1073 1742.5,1073 1743,1070 1743.5,1081 1744,1078 1744.5,1071 1745,1087 1745.5,1082 1746,1086 1746.5,1088 1747,1075 1747.5,1075 1748,1080 1748.5,1067 1749,1086 1749.5,1086 1750,1084 1750.5,1078 1751,1086 1751.5,1083 1752,1086 1752.5,1082 1753,1077 1753.5,1077 1754,1083 1754.5,1071 1755,1086 1755.5,1086 1756,1085 1756.5,1079 1757,1070 1757.5,1085 1758,1074 1758.5,1070 1759,1078 1759.5,1085 1760,1080 1760.5,1074 1761,1072 1761.5,1079 1762,1076 1762.5,1073 1763,1075 1763.5,1084 1764,1080 1764.5,1077 1765,1073 1765.5,1077 1766,1071 1766.5,1083 1767,1082 1767.5,1075 1768,1078 1768.5,1079 1769,1076 1769.5,1087 1770,1076 1770.5,1085 1771,1087 1771.5,1066 1772,1072 1772.5,1082 1773,1078 1773.5,1079 1774,1087 1774.5,1072 1775,1086 1775.5,1078 1776,1074 1776.5,1074 1777,1075 1777.5,1079 1778,1087 1778.5,1083 1779,1080 1779.5,1086 1780,1079 1780.5,1072 1781,1075 1781.5,1089 1782,1085 1782.5,1079 1783,1090 1783.5,1072 1784,1089 1784.5,1089 1785,1074 1785.5,1077 1786,1072 1786.5,1067 1787,1072 1787.5,1090 1788,1068 1788.5,1074 1789,1077 1789.5,1069 1790,1071 1790.5,1073 1791,1081 1791.5,1088 1792,1071 1792.5,1077 1793,1078 1793.5,1075 1794,1085 1794.5,1090 1795,1072 1795.5,1075 1796,1067 1796.5,1067 1797,1082 1797.5,1072 1798,1073 1798.5,1091 1799,1077 1799.5,1080 1800,1075 1800.5,1088 1801,1072 1801.5,1074 1802,1080 1802.5,1089 1803,1076 1803.5,1086 1804,1078 1804.5,1083 1805,1071 1805.5,1087 1806,1083 1806.5,1079 1807,1088 1807.5,1073 1808,1075 1808.5,1086 1809,1089 1809.5,1096 1810,1080 1810.5,1085 1811,1081 1811.5,1075 1812,1089 1812.5,1077 1813,1086 1813.5,1073 1814,1074 1814.5,1071 1815,1076 1815.5,1071 1816,1079 1816.5,1082 1817,1086 1817.5,1084 1818,1085 1818.5,1082 1819,1084 1819.5,1067 1820,1082 1820.5,1078 1821,1081 1821.5,1079 1822,1080 1822.5,1081 1823,1081 1823.5,1075 1824,1075 1824.5,1083 1825,1074 1825.5,1079 1826,1076 1826.5,1075 1827,1079 1827.5,1074 1828,1074 1828.5,1082 1829,1086 1829.5,1085 1830,1086 1830.5,1078 1831,1085 1831.5,1071 1832,1074 1832.5,1078 1833,1081 1833.5,1081 1834,1089 1834.5,1087 1835,1065 1835.5,1090 1836,1077 1836.5,1087 1837,1069 1837.5,1089 1838,1077 1838.5,1083 1839,1083 1839.5,1075 1840,1075 1840.5,1070 1841,1071 1841.5,1086 1842,1081 1842.5,1083 1843,1089 1843.5,1068 1844,1066 1844.5,1086 1845,1087 1845.5,1078 1846,1088 1846.5,1088 1847,1089 1847.5,1085 1848,1089 1848.5,1084 1849,1071 1849.5,1072 1850,1079 1850.5,1082 1851,1069 1851.5,1089 1852,1072 1852.5,1085 1853,1070 1853.5,1068 1854,1075 1854.5,1089 1855,1072 1855.5,1069 1856,1078 1856.5,1087 1857,1082 1857.5,1077 1858,1071 1858.5,1082 1859,1078 1859.5,1088 1860,1080 1860.5,1073 1861,1084 1861.5,1087 1862,1085 1862.5,1079 1863,1087 1863.5,1078 1864,1074 1864.5,1073 1865,1071 1865.5,1097 1866,1084 1866.5,1087 1867,1093 1867.5,1076 1868,1079 1868.5,1076 1869,1072 1869.5,1076 1870,1071 1870.5,1083 1871,1072 1871.5,1077 1872,1079 1872.5,1082 1873,1076 1873.5,1083 1874,1075 1874.5,1085 1875,1085 1875.5,1074 1876,1080 1876.5,1076 1877,1076 1877.5,1077 1878,1081 1878.5,1084 1879,1085 1879.5,1079 1880,1077 1880.5,1082 1881,1084 1881.5,1082 1882,1085 1882.5,1073 1883,1076 1883.5,1074 1884,1084 1884.5,1077 1885,1081 1885.5,1079 1886,1080 1886.5,1078 1887,1075 1887.5,1080 1888,1074 1888.5,1077 1889,1061 1889.5,1077 1890,1077 1890.5,1086 1891,1085 1891.5,1081 1892,1080 1892.5,1085 1893,1086 1893.5,1084 1894,1084 1894.5,1079 1895,1082 1895.5,1076 1896,1076 1896.5,1080 1897,1081 1897.5,1072 1898,1063 1898.5,1076 1899,1080 1899.5,1069 1900,1076 1900.5,1085 1901,1076 1901.5,1082 1902,1076 1902.5,1084 1903,1074 1903.5,1080 1904,1073 1904.5,1071 1905,1080 1905.5,1081 1906,1085 1906.5,1072 1907,1072 1907.5,1083 1908,1069 1908.5,1074 1909,1075 1909.5,1072 1910,1071 1910.5,1081 1911,1076 1911.5,1088 1912,1080 1912.5,1074 1913,1076 1913.5,1079 1914,1085 1914.5,1081 1915,1071 1915.5,1084 1916,1074 1916.5,1072 1917,1084 1917.5,1078 1918,1078 1918.5,1087 1919,1071 1919.5,1076 1920,1074 1920.5,1071 1921,1084 1921.5,1083 1922,1077 1922.5,1075 1923,1079 1923.5,1074 1924,1085 1924.5,1072 1925,1082 1925.5,1080 1926,1076 1926.5,1066 1927,1079 1927.5,1083 1928,1079 1928.5,1084 1929,1073 1929.5,1079 1930,1083 1930.5,1074 1931,1077 1931.5,1082 1932,1082" stroke="#008080" stroke-width="6"/>
<path d="M168,666 168.5,669 169,680 169.5,676 170,666 170.5,673 171,674 171.5,667 172,678 172.5,666 173,672 173.5,674 174,672 174.5,675 175,678 175.5,683 176,669 176.5,677 177,678 177.5,670 178,664 178.5,683 179,670 179.5,670 180,681 180.5,675 181,673 181.5,678 182,666 182.5,677 183,671 183.5,667 184,676 184.5,680 185,669 185.5,675 186,670 186.5,677 187,676 187.5,669 188,678 188.5,676 189,676 189.5,678 190,672 190.5,677 191,679 191.5,666 192,679 192.5,671 193,672 193.5,666 194,676 194.5,669 195,680 195.5,668 196,674 196.5,671 197,675 197.5,667 198,666 198.5,677 199,677 199.5,673 200,680 200.5,667 201,678 201.5,666 202,680 202.5,674 203,674 203.5,680 204,677 204.5,677 205,664 205.5,669 206,665 206.5,667 207,667 207.5,677 208,666 208.5,668 209,671 209.5,676 210,678 210.5,674 211,667 211.5,672 212,674 212.5,664 213,673 213.5,669 214,672 214.5,673 215,673 215.5,671 216,671 216.5,666 217,670 217.5,664 218,670 218.5,683 219,675 219.5,668 220,662 220.5,670 221,665 221.5,683 222,668 222.5,667 223,677 223.5,667 224,667 224.5,666 225,669 225.5,661 226,670 226.5,677 227,670 227.5,674 228,677 228.5,675 229,673 229.5,675 230,675 230.5,664 231,668 231.5,665 232,664 232.5,670 233,665 233.5,670 234,670 234.5,661 235,667 235.5,666 236,671 236.5,661 237,662 237.5,668 238,666 238.5,670 239,665 239.5,663 240,674 240.5,664 241,662 241.5,664 242,665 242.5,663 243,668 243.5,673 244,662 244.5,666 245,669 245.5,672 246,674 246.5,662 247,667 247.5,672 248,661 248.5,668 249,662 249.5,670 250,672 250.5,667 251,660 251.5,661 252,665 252.5,671 253,663 253.5,668 254,665 254.5,663 255,669 255.5,664 256,664 256.5,669 257,666 257.5,670 258,666 258.5,661 259,665 259.5,671 260,667 260.5,673 261,658 261.5,663 262,670 262.5,669 263,667 263.5,669 264,673 264.5,669 265,667 265.5,667 266,669 266.5,662 267,669 267.5,668 268,671 268.5,665 269,657 269.5,667 270,673 270.5,669 271,669 271.5,664 272,663 272.5,670 273,659 273.5,672 274,672 274.5,674 275,660 275.5,660 276,672 276.5,665 277,663 277.5,665 278,669 278.5,662 279,666 279.5,669 280,670 280.5,660 281,671 281.5,666 282,666 282.5,668 283,664 283.5,672 284,663 284.5,668 285,662 285.5,669 286,673 286.5,673 287,661 287.5,669 288,674 288.5,662 289,666 289.5,671 290,671 290.5,667 291,670 291.5,670 292,665 292.5,670 293,669 293.5,671 294,668 294.5,666 295,667 295.5,674 296,664 296.5,664 297,663 297.5,672 298,674 298.5,666 299,666 299.5,665 300,670 300.5,669 301,672 301.5,666 302,673 302.5,669 303,673 303.5,673 304,674 304.5,669 305,671 305.5,670 306,658 306.5,670 307,676 307.5,676 308,662 308.5,672 309,667 309.5,664 310,664 310.5,675 311,678 311.5,671 312,668 312.5,670 313,676 313.5,675 314,663 314.5,665 315,677 315.5,670 316,673 316.5,675 317,673 317.5,675 318,671 318.5,666 319,665 319.5,679 320,662 320.5,674 321,677 321.5,666 322,663 322.5,669 323,668 323.5,670 324,670 324.5,679 325,664 325.5,679 326,662 326.5,679 327,668 327.5,676 328,661 328.5,670 329,675 329.5,674 330,686 330.5,665 331,669 331.5,674 332,662 332.5,678 333,670 333.5,667 334,666 334.5,674 335,663 335.5,667 336,668 336.5,667 337,676 337.5,673 338,679 338.5,675 339,668 339.5,668 340,664 340.5,667 341,673 341.5,676 342,667 342.5,668 343,677 343.5,680 344,663 344.5,658 345,676 345.5,671 346,669 346.5,673 347,675 347.5,662 348,679 348.5,679 349,669 349.5,670 350,666 350.5,672 351,664 351.5,670 352,677 352.5,670 353,676 353.5,663 354,677 354.5,662 355,664 355.5,673 356,665 356.5,661 357,661 357.5,675 358,659 358.5,660 359,678 359.5,674 360,666 360.5,662 361,676 361.5,674 362,672 362.5,687 363,669 363.5,682 364,669 364.5,659 365,659 365.5,670 366,673 366.5,671 367,673 367.5,664 368,665 368.5,663 369,665 369.5,663 370,674 370.5,661 371,663 371.5,672 372,666 372.5,665 373,677 373.5,675 374,663 374.5,662 375,668 375.5,670 376,665 376.5,670 377,672 377.5,675 378,663 378.5,672 379,659 379.5,660 380,659 380.5,661 381,675 381.5,666 382,669 382.5,668 383,663 383.5,659 384,662 384.5,677 385,666 385.5,668 386,664 386.5,675 387,674 387.5,667 388,670 388.5,667 389,671 389.5,672 390,671 390.5,678 391,679 391.5,660 392,667 392.5,660 393,667 393.5,677 394,674 394.5,672 395,661 395.5,677 396,673 396.5,666 397,677 397.5,660 398,663 398.5,677 399,660 399.5,662 400,670 400.5,676 401,673 401.5,659 402,657 402.5,676 403,667 403.5,663 404,657 404.5,664 405,682 405.5,658 406,688 406.5,682 407,676 407.5,665 408,675 408.5,660 409,671 409.5,664 410,681 410.5,680 411,677 411.5,667 412,678 412.5,683 413,667 413.5,671 414,662 414.5,661 415,676 415.5,660 416,673 416.5,662 417,674 417.5,676 418,680 418.5,668 419,668 419.5,669 420,675 420.5,676 421,663 421.5,667 422,663 422.5,666 423,675 423.5,678 424,679 424.5,664 425,669 425.5,676 426,671 426.5,669 427,675 427.5,676 428,667 428.5,671 429,667 429.5,668 430,672 430.5,669 431,675 431.5,670 432,668 432.5,673 433,669 433.5,667 434,678 434.5,668 435,667 435.5,672 436,666 436.5,676 437,666 437.5,666 438,680 438.5,673 439,680 439.5,679 440,677 440.5,665 441,676 441.5,666 442,665 442.5,680 443,670 443.5,679 444,675 444.5,680 445,677 445.5,684 446,659 446.5,682 447,682 447.5,677 448,676 448.5,674 449,679 449.5,670 450,675 450.5,679 451,673 451.5,671 452,669 452.5,683 453,685 453.5,684 454,682 454.5,680 455,668 455.5,686 456,677 456.5,682 457,670 457.5,683 458,671 458.5,688 459,683 459.5,679 460,682 460.5,673 461,678 461.5,670 462,674 462.5,674 463,672 463.5,677 464,658 464.5,669 465,675 465.5,688 466,682 466.5,677 467,672 467.5,671 468,676 468.5,681 469,683 469.5,677 470,683 470.5,683 471,683 471.5,675 472,677 472.5,672 473,678 473.5,670 474,676 474.5,671 475,676 475.5,671 476,668 476.5,675 477,675 477.5,677 478,669 478.5,676 479,672 479.5,667 480,674 480.5,679 481,671 481.5,680 482,682 482.5,663 483,668 483.5,669 484,677 484.5,674 485,676 485.5,663 486,668 486.5,665 487,679 487.5,677 488,668 488.5,681 489,663 489.5,660 490,668 490.5,674 491,680 491.5,670 492,661 492.5,671 493,658 493.5,674 494,664 494.5,659 495,659 495.5,672 496,672 496.5,659 497,673 497.5,670 498,660 498.5,654 499,656 499.5,660 500,655 500.5,654 501,655 501.5,665 502,650 502.5,665 503,656 503.5,661 504,657 504.5,664 505,649 505.5,650 506,655 506.5,654 507,650 507.5,649 508,644 508.5,652 509,660 509.5,660 510,649 510.5,662 511,662 511.5,646 512,640 512.5,658 513,660 513.5,653 514,660 514.5,648 515,648 515.5,637 516,644 516.5,657 517,637 517.5,637 518,635 518.5,645 519,647 519.5,645 520,653 520.5,648 521,646 521.5,645 522,643 522.5,632 523,632 523.5,644 524,634 524.5,638 525,643 525.5,641 526,632 526.5,632 527,628 527.5,640 528,641 528.5,626 529,629 529.5,625 530,636 530.5,627 531,641 531.5,625 532,634 532.5,633 533,639 533.5,633 534,637 534.5,628 535,614 535.5,620 536,629 536.5,619 537,642 537.5,612 538,623 538.5,617 539,628 539.5,608 540,613 540.5,621 541,612 541.5,613 542,609 542.5,597 543,607 543.5,617 544,614 544.5,604 545,610 545.5,611 546,610 546.5,596 547,597 547.5,610 548,597 548.5,604 549,601 549.5,604 550,589 550.5,603 551,600 551.5,588 552,595 552.5,581 553,596 553.5,586 554,592 554.5,592 555,575 555.5,591 556,574 556.5,574 557,579 557.5,573 558,581 558.5,569 559,578 559.5,580 560,583 560.5,569 561,565 561.5,571 562,571 562.5,576 563,567 563.5,563 564,558 564.5,567 565,564 565.5,549 566,553 566.5,549 567,555 567.5,552 568,545 568.5,552 569,554 569.5,545 570,555 570.5,538 571,536 571.5,548 572,543 572.5,546 573,548 573.5,538 574,543 574.5,538 575,534 575.5,532 576,539 576.5,527 577,527 577.5,526 578,527 578.5,517 579,525 579.5,514 580,518 580.5,517 581,518 581.5,516 582,515 582.5,505 583,508 583.5,513 584,507 584.5,512 585,506 585.5,505 586,505 586.5,509 587,490 587.5,491 588,489 588.5,489 589,484 589.5,500 590,483 590.5,488 591,493 591.5,484 592,479 592.5,478 593,479 593.5,476 594,477 594.5,475 595,468 595.5,479 596,479 596.5,471 597,463 597.5,474 598,464 598.5,445 599,460 599.5,470 600,465 600.5,458 601,458 601.5,457 602,455 602.5,460 603,464 603.5,446 604,460 604.5,460 605,446 605.5,461 606,458 606.5,454 607,438 607.5,446 608,453 608.5,447 609,433 609.5,451 610,441 610.5,435 611,438 611.5,430 612,437 612.5,427 613,454 613.5,429 614,434 614.5,432 615,436 615.5,432 616,448 616.5,427 617,450 617.5,432 618,449 618.5,430 619,423 619.5,444 620,426 620.5,442 621,446 621.5,428 622,431 622.5,438 623,446 623.5,445 624,436 624.5,439 625,445 625.5,429 626,448 626.5,447 627,433 627.5,442 628,445 628.5,444 629,431 629.5,431 630,436 630.5,434 631,443 631.5,450 632,447 632.5,456 633,447 633.5,448 634,441 634.5,462 635,457 635.5,466 636,466 636.5,446 637,461 637.5,459 638,468 638.5,450 639,468 639.5,468 640,463 640.5,457 641,474 641.5,457 642,467 642.5,459 643,468 643.5,468 644,480 644.5,483 645,485 645.5,478 646,489 646.5,488 647,485 647.5,494 648,500 648.5,488 649,502 649.5,494 650,489 650.5,493 651,499 651.5,491 652,509 652.5,496 653,503 653.5,511 654,511 654.5,508 655,511 655.5,513 656,510 656.5,507 657,521 657.5,503 658,503 658.5,509 659,508 659.5,528 660,518 660.5,528 661,521 661.5,502 662,532 662.5,533 663,516 663.5,532 664,529 664.5,521 665,526 665.5,536 666,525 666.5,536 667,536 667.5,537 668,531 668.5,546 669,541 669.5,545 670,545 670.5,540 671,550 671.5,544 672,557 672.5,548 673,543 673.5,551 674,550 674.5,564 675,551 675.5,566 676,547 676.5,550 677,555 677.5,567 678,565 678.5,562 679,563 679.5,575 680,560 680.5,576 681,567 681.5,576 682,580 682.5,572 683,567 683.5,569 684,570 684.5,568 685,577 685.5,584 686,579 686.5,593 687,594 687.5,591 688,593 688.5,583 689,594 689.5,579 690,579 690.5,581 691,588 691.5,599 692,584 692.5,593 693,599 693.5,606 694,600 694.5,594 695,591 695.5,602 696,610 696.5,612 697,607 697.5,598 698,596 698.5,597 699,603 699.5,610 700,602 700.5,614 701,608 701.5,620 702,615 702.5,622 703,610 703.5,619 704,627 704.5,607 705,630 705.5,623 706,634 706.5,618 707,623 707.5,629 708,628 708.5,629 709,636 709.5,620 710,634 710.5,629 711,640 711.5,641 712,631 712.5,630 713,642 713.5,644 714,641 714.5,644 715,645 715.5,637 716,635 716.5,629 717,617 717.5,634 718,644 718.5,642 719,648 719.5,644 720,637 720.5,640 721,643 721.5,644 722,652 722.5,646 723,641 723.5,640 724,647 724.5,637 725,645 725.5,655 726,656 726.5,649 727,649 727.5,644 728,651 728.5,648 729,653 729.5,661 730,656 730.5,641 731,642 731.5,656 732,664 732.5,654 733,661 733.5,647 734,646 734.5,666 735,663 735.5,652 736,662 736.5,658 737,662 737.5,657 738,660 738.5,667 739,654 739.5,662 740,668 740.5,646 741,651 741.5,654 742,660 742.5,657 743,669 743.5,652 744,655 744.5,650 745,653 745.5,662 746,651 746.5,670 747,666 747.5,653 748,668 748.5,654 749,663 749.5,657 750,656 750.5,664 751,672 751.5,655 752,658 752.5,664 753,676 753.5,662 754,675 754.5,667 755,665 755.5,673 756,658 756.5,668 757,653 757.5,668 758,683 758.5,654 759,655 759.5,671 760,682 760.5,671 761,684 761.5,663 762,685 762.5,661 763,678 763.5,665 764,680 764.5,658 765,666 765.5,682 766,678 766.5,671 767,669 767.5,681 768,666 768.5,666 769,664 769.5,675 770,679 770.5,667 771,677 771.5,677 772,669 772.5,674 773,675 773.5,667 774,680 774.5,668 775,669 775.5,677 776,674 776.5,679 777,677 777.5,668 778,674 778.5,684 779,672 779.5,669 780,683 780.5,668 781,674 781.5,685 782,683 782.5,669 783,668 783.5,676 784,680 784.5,682 785,670 785.5,675 786,675 786.5,672 787,680 787.5,677 788,675 788.5,682 789,672 789.5,679 790,683 790.5,673 791,665 791.5,664 792,684 792.5,685 793,682 793.5,664 794,670 794.5,689 795,678 795.5,675 796,690 796.5,690 797,670 797.5,683 798,686 798.5,687 799,689 799.5,684 800,664 800.5,671 801,668 801.5,681 802,678 802.5,690 803,657 803.5,666 804,663 804.5,668 805,686 805.5,679 806,669 806.5,677 807,693 807.5,656 808,663 808.5,679 809,676 809.5,664 810,674 810.5,666 811,671 811.5,677 812,674 812.5,668 813,677 813.5,666 814,674 814.5,666 815,673 815.5,672 816,672 816.5,676 817,693 817.5,679 818,663 818.5,678 819,671 819.5,660 820,657 820.5,661 821,665 821.5,669 822,674 822.5,673 823,674 823.5,673 824,673 824.5,675 825,670 825.5,656 826,665 826.5,662 827,667 827.5,658 828,672 828.5,657 829,661 829.5,654 830,671 830.5,670 831,671 831.5,653 832,656 832.5,670 833,669 833.5,650 834,658 834.5,647 835,667 835.5,667 836,679 836.5,666 837,656 837.5,654 838,662 838.5,633 839,669 839.5,656 840,655 840.5,668 841,650 841.5,651 842,645 842.5,665 843,655 843.5,653 844,663 844.5,663 845,647 845.5,645 846,661 846.5,661 847,653 847.5,656 848,642 848.5,650 849,642 849.5,642 850,640 850.5,666 851,648 851.5,644 852,649 852.5,635 853,637 853.5,634 854,639 854.5,643 855,626 855.5,642 856,627 856.5,621 857,622 857.5,635 858,613 858.5,625 859,621 859.5,629 860,627 860.5,620 861,623 861.5,647 862,638 862.5,650 863,652 863.5,644 864,655 864.5,643 865,642 865.5,657 866,646 866.5,646 867,653 867.5,652 868,667 868.5,667 869,664 869.5,669 870,655 870.5,656 871,659 871.5,666 872,653 872.5,656 873,660 873.5,657 874,661 874.5,658 875,664 875.5,668 876,671 876.5,678 877,665 877.5,668 878,681 878.5,659 879,672 879.5,662 880,659 880.5,683 881,677 881.5,672 882,682 882.5,686 883,676 883.5,673 884,660 884.5,687 885,682 885.5,663 886,673 886.5,668 887,688 887.5,669 888,665 888.5,687 889,670 889.5,665 890,664 890.5,667 891,674 891.5,669 892,681 892.5,686 893,667 893.5,665 894,683 894.5,680 895,685 895.5,667 896,680 896.5,671 897,668 897.5,651 898,682 898.5,681 899,681 899.5,668 900,655 900.5,666 901,667 901.5,679 902,664 902.5,680 903,681 903.5,670 904,673 904.5,680 905,675 905.5,676 906,675 906.5,662 907,676 907.5,675 908,668 908.5,662 909,668 909.5,672 910,669 910.5,673 911,670 911.5,676 912,681 912.5,663 913,675 913.5,679 914,663 914.5,673 915,680 915.5,678 916,671 916.5,671 917,664 917.5,675 918,683 918.5,683 919,681 919.5,675 920,669 920.5,670 921,667 921.5,671 922,663 922.5,675 923,694 923.5,672 924,687 924.5,679 925,685 925.5,691 926,666 926.5,675 927,668 927.5,667 928,684 928.5,664 929,681 929.5,690 930,676 930.5,684 931,668 931.5,686 932,687 932.5,681 933,691 933.5,680 934,682 934.5,665 935,688 935.5,674 936,684 936.5,678 937,669 937.5,678 938,690 938.5,682 939,667 939.5,679 940,689 940.5,664 941,655 941.5,686 942,680 942.5,684 943,672 943.5,678 944,666 944.5,665 945,677 945.5,686 946,677 946.5,662 947,661 947.5,682 948,671 948.5,666 949,668 949.5,686 950,674 950.5,665 951,666 951.5,663 952,685 952.5,673 953,673 953.5,663 954,668 954.5,681 955,682 955.5,672 956,668 956.5,684 957,669 957.5,668 958,665 958.5,673 959,681 959.5,673 960,680 960.5,668 961,676 961.5,664 962,671 962.5,667 963,667 963.5,677 964,664 964.5,671 965,667 965.5,679 966,664 966.5,666 967,674 967.5,664 968,674 968.5,679 969,665 969.5,668 970,657 970.5,673 971,663 971.5,668 972,659 972.5,668 973,664 973.5,673 974,671 974.5,663 975,655 975.5,657 976,660 976.5,664 977,665 977.5,663 978,660 978.5,654 979,655 979.5,648 980,652 980.5,647 981,649 981.5,639 982,638 982.5,646 983,641 983.5,635 984,647 984.5,628 985,644 985.5,641 986,623 986.5,640 987,635 987.5,624 988,633 988.5,638 989,619 989.5,623 990,619 990.5,636 991,619 991.5,618 992,617 992.5,634 993,619 993.5,637 994,604 994.5,625 995,616 995.5,617 996,617 996.5,627 997,617 997.5,620 998,634 998.5,643 999,611 999.5,618 1000,627 1000.5,619 1001,603 1001.5,612 1002,620 1002.5,627 1003,623 1003.5,616 1004,613 1004.5,618 1005,635 1005.5,611 1006,611 1006.5,611 1007,625 1007.5,610 1008,618 1008.5,618 1009,621 1009.5,621 1010,633 1010.5,617 1011,614 1011.5,631 1012,615 1012.5,613 1013,610 1013.5,636 1014,643 1014.5,627 1015,612 1015.5,632 1016,611 1016.5,629 1017,632 1017.5,622 1018,615 1018.5,636 1019,612 1019.5,619 1020,628 1020.5,629 1021,607 1021.5,621 1022,624 1022.5,638 1023,638 1023.5,619 1024,636 1024.5,626 1025,624 1025.5,628 1026,620 1026.5,635 1027,635 1027.5,626 1028,622 1028.5,637 1029,643 1029.5,625 1030,644 1030.5,635 1031,629 1031.5,641 1032,642 1032.5,633 1033,639 1033.5,632 1034,641 1034.5,633 1035,637 1035.5,647 1036,648 1036.5,646 1037,652 1037.5,649 1038,646 1038.5,648 1039,638 1039.5,636 1040,641 1040.5,652 1041,658 1041.5,642 1042,658 1042.5,655 1043,642 1043.5,650 1044,645 1044.5,655 1045,647 1045.5,648 1046,652 1046.5,647 1047,657 1047.5,654 1048,642 1048.5,653 1049,651 1049.5,661 1050,662 1050.5,643 1051,659 1051.5,656 1052,674 1052.5,645 1053,662 1053.5,677 1054,657 1054.5,665 1055,646 1055.5,652 1056,644 1056.5,650 1057,667 1057.5,653 1058,663 1058.5,664 1059,657 1059.5,664 1060,651 1060.5,648 1061,651 1061.5,649 1062,649 1062.5,639 1063,649 1063.5,650 1064,660 1064.5,655 1065,671 1065.5,663 1066,671 1066.5,666 1067,671 1067.5,672 1068,658 1068.5,654 1069,650 1069.5,674 1070,654 1070.5,675 1071,668 1071.5,670 1072,648 1072.5,674 1073,650 1073.5,671 1074,648 1074.5,675 1075,649 1075.5,652 1076,661 1076.5,653 1077,651 1077.5,658 1078,649 1078.5,665 1079,669 1079.5,662 1080,664 1080.5,655 1081,662 1081.5,666 1082,682 1082.5,664 1083,677 1083.5,660 1084,666 1084.5,670 1085,652 1085.5,673 1086,673 1086.5,653 1087,668 1087.5,661 1088,655 1088.5,656 1089,654 1089.5,676 1090,673 1090.5,671 1091,655 1091.5,671 1092,658 1092.5,664 1093,651 1093.5,675 1094,660 1094.5,669 1095,655 1095.5,657 1096,670 1096.5,669 1097,667 1097.5,662 1098,667 1098.5,672 1099,670 1099.5,669 1100,663 1100.5,663 1101,670 1101.5,660 1102,664 1102.5,660 1103,647 1103.5,660 1104,669 1104.5,669 1105,662 1105.5,667 1106,667 1106.5,668 1107,667 1107.5,660 1108,665 1108.5,660 1109,663 1109.5,658 1110,657 1110.5,669 1111,663 1111.5,663 1112,665 1112.5,656 1113,666 1113.5,667 1114,656 1114.5,669 1115,663 1115.5,663 1116,659 1116.5,654 1117,657 1117.5,656 1118,669 1118.5,666 1119,673 1119.5,655 1120,670 1120.5,667 1121,662 1121.5,668 1122,654 1122.5,669 1123,656 1123.5,663 1124,667 1124.5,655 1125,675 1125.5,652 1126,674 1126.5,676 1127,671 1127.5,661 1128,671 1128.5,666 1129,676 1129.5,668 1130,651 1130.5,664 1131,650 1131.5,663 1132,651 1132.5,662 1133,671 1133.5,649 1134,658 1134.5,651 1135,658 1135.5,659 1136,650 1136.5,658 1137,667 1137.5,662 1138,654 1138.5,661 1139,653 1139.5,656 1140,662 1140.5,657 1141,664 1141.5,656 1142,669 1142.5,670 1143,669 1143.5,668 1144,666 1144.5,670 1145,658 1145.5,657 1146,643 1146.5,672 1147,664 1147.5,666 1148,662 1148.5,666 1149,669 1149.5,666 1150,659 1150.5,664 1151,664 1151.5,660 1152,658 1152.5,670 1153,658 1153.5,662 1154,669 1154.5,672 1155,662 1155.5,657 1156,676 1156.5,671 1157,673 1157.5,671 1158,672 1158.5,656 1159,657 1159.5,678 1160,661 1160.5,670 1161,673 1161.5,668 1162,654 1162.5,669 1163,666 1163.5,661 1164,666 1164.5,669 1165,653 1165.5,664 1166,658 1166.5,667 1167,657 1167.5,665 1168,666 1168.5,657 1169,659 1169.5,669 1170,671 1170.5,680 1171,671 1171.5,669 1172,682 1172.5,682 1173,668 1173.5,667 1174,681 1174.5,663 1175,677 1175.5,658 1176,657 1176.5,661 1177,667 1177.5,663 1178,658 1178.5,655 1179,646 1179.5,680 1180,677 1180.5,677 1181,672 1181.5,670 1182,667 1182.5,674 1183,666 1183.5,680 1184,660 1184.5,667 1185,677 1185.5,671 1186,676 1186.5,676 1187,665 1187.5,666 1188,655 1188.5,665 1189,683 1189.5,656 1190,682 1190.5,680 1191,678 1191.5,659 1192,680 1192.5,684 1193,664 1193.5,659 1194,660 1194.5,663 1195,663 1195.5,657 1196,662 1196.5,666 1197,678 1197.5,685 1198,656 1198.5,683 1199,683 1199.5,685 1200,671 1200.5,667 1201,663 1201.5,665 1202,664 1202.5,665 1203,669 1203.5,660 1204,662 1204.5,669 1205,660 1205.5,679 1206,676 1206.5,665 1207,677 1207.5,681 1208,677 1208.5,666 1209,673 1209.5,675 1210,677 1210.5,668 1211,665 1211.5,668 1212,660 1212.5,678 1213,674 1213.5,670 1214,671 1214.5,680 1215,658 1215.5,679 1216,664 1216.5,669 1217,668 1217.5,665 1218,666 1218.5,671 1219,664 1219.5,662 1220,656 1220.5,664 1221,669 1221.5,657 1222,657 1222.5,679 1223,656 1223.5,658 1224,665 1224.5,674 1225,673 1225.5,670 1226,667 1226.5,666 1227,657 1227.5,675 1228,679 1228.5,683 1229,663 1229.5,668 1230,662 1230.5,675 1231,676 1231.5,660 1232,661 1232.5,681 1233,672 1233.5,660 1234,665 1234.5,667 1235,676 1235.5,679 1236,679 1236.5,658 1237,657 1237.5,674 1238,675 1238.5,657 1239,670 1239.5,678 1240,677 1240.5,679 1241,671 1241.5,668 1242,673 1242.5,675 1243,663 1243.5,675 1244,666 1244.5,681 1245,664 1245.5,676 1246,677 1246.5,675 1247,672 1247.5,677 1248,660 1248.5,666 1249,678 1249.5,669 1250,666 1250.5,664 1251,665 1251.5,660 1252,673 1252.5,660 1253,687 1253.5,660 1254,662 1254.5,668 1255,660 1255.5,659 1256,678 1256.5,678 1257,672 1257.5,673 1258,661 1258.5,659 1259,663 1259.5,668 1260,674 1260.5,668 1261,666 1261.5,660 1262,662 1262.5,667 1263,664 1263.5,667 1264,671 1264.5,664 1265,677 1265.5,669 1266,677 1266.5,668 1267,670 1267.5,677 1268,666 1268.5,672 1269,673 1269.5,664 1270,650 1270.5,666 1271,663 1271.5,665 1272,665 1272.5,673 1273,676 1273.5,661 1274,671 1274.5,671 1275,665 1275.5,674 1276,667 1276.5,647 1277,661 1277.5,672 1278,677 1278.5,670 1279,678 1279.5,663 1280,663 1280.5,676 1281,666 1281.5,672 1282,671 1282.5,667 1283,673 1283.5,672 1284,678 1284.5,676 1285,673 1285.5,666 1286,671 1286.5,665 1287,677 1287.5,672 1288,663 1288.5,674 1289,674 1289.5,677 1290,678 1290.5,669 1291,663 1291.5,663 1292,661 1292.5,663 1293,674 1293.5,660 1294,668 1294.5,672 1295,664 1295.5,672 1296,672 1296.5,670 1297,660 1297.5,672 1298,661 1298.5,660 1299,677 1299.5,677 1300,679 1300.5,660 1301,665 1301.5,662 1302,665 1302.5,660 1303,671 1303.5,678 1304,682 1304.5,678 1305,669 1305.5,666 1306,665 1306.5,673 1307,675 1307.5,665 1308,673 1308.5,659 1309,656 1309.5,678 1310,660 1310.5,680 1311,682 1311.5,661 1312,663 1312.5,672 1313,664 1313.5,658 1314,671 1314.5,660 1315,671 1315.5,662 1316,673 1316.5,677 1317,661 1317.5,680 1318,674 1318.5,673 1319,673 1319.5,664 1320,659 1320.5,673 1321,666 1321.5,678 1322,663 1322.5,675 1323,675 1323.5,674 1324,672 1324.5,664 1325,680 1325.5,664 1326,664 1326.5,678 1327,680 1327.5,668 1328,657 1328.5,671 1329,680 1329.5,682 1330,663 1330.5,679 1331,677 1331.5,680 1332,679 1332.5,674 1333,669 1333.5,667 1334,675 1334.5,663 1335,672 1335.5,659 1336,665 1336.5,658 1337,659 1337.5,660 1338,659 1338.5,662 1339,662 1339.5,680 1340,672 1340.5,660 1341,663 1341.5,695 1342,674 1342.5,667 1343,660 1343.5,668 1344,667 1344.5,667 1345,681 1345.5,678 1346,677 1346.5,673 1347,678 1347.5,691 1348,673 1348.5,669 1349,666 1349.5,672 1350,665 1350.5,664 1351,678 1351.5,663 1352,667 1352.5,680 1353,675 1353.5,673 1354,661 1354.5,661 1355,661 1355.5,663 1356,663 1356.5,662 1357,661 1357.5,682 1358,682 1358.5,675 1359,677 1359.5,666 1360,670 1360.5,668 1361,676 1361.5,664 1362,665 1362.5,661 1363,675 1363.5,684 1364,675 1364.5,661 1365,664 1365.5,675 1366,673 1366.5,668 1367,657 1367.5,660 1368,664 1368.5,674 1369,678 1369.5,680 1370,680 1370.5,655 1371,681 1371.5,663 1372,665 1372.5,665 1373,666 1373.5,669 1374,677 1374.5,663 1375,664 1375.5,674 1376,670 1376.5,683 1377,661 1377.5,663 1378,671 1378.5,664 1379,676 1379.5,671 1380,672 1380.5,674 1381,675 1381.5,671 1382,668 1382.5,675 1383,665 1383.5,669 1384,674 1384.5,670 1385,675 1385.5,676 1386,676 1386.5,674 1387,669 1387.5,671 1388,675 1388.5,679 1389,678 1389.5,675 1390,676 1390.5,663 1391,670 1391.5,681 1392,676 1392.5,676 1393,679 1393.5,668 1394,662 1394.5,675 1395,670 1395.5,669 1396,663 1396.5,666 1397,677 1397.5,681 1398,662 1398.5,673 1399,667 1399.5,674 1400,666 1400.5,680 1401,669 1401.5,674 1402,670 1402.5,675 1403,675 1403.5,655 1404,662 1404.5,662 1405,667 1405.5,677 1406,672 1406.5,671 1407,662 1407.5,668 1408,672 1408.5,676 1409,677 1409.5,669 1410,677 1410.5,661 1411,671 1411.5,676 1412,680 1412.5,683 1413,677 1413.5,677 1414,671 1414.5,671 1415,668 1415.5,682 1416,669 1416.5,667 1417,680 1417.5,654 1418,671 1418.5,682 1419,664 1419.5,665 1420,674 1420.5,664 1421,681 1421.5,682 1422,669 1422.5,680 1423,672 1423.5,674 1424,671 1424.5,681 1425,669 1425.5,682 1426,669 1426.5,668 1427,684 1427.5,664 1428,665 1428.5,675 1429,683 1429.5,681 1430,677 1430.5,662 1431,663 1431.5,679 1432,679 1432.5,682 1433,670 1433.5,673 1434,668 1434.5,665 1435,676 1435.5,676 1436,665 1436.5,673 1437,678 1437.5,676 1438,669 1438.5,664 1439,668 1439.5,666 1440,670 1440.5,672 1441,671 1441.5,666 1442,669 1442.5,667 1443,678 1443.5,677 1444,680 1444.5,670 1445,678 1445.5,666 1446,669 1446.5,670 1447,668 1447.5,665 1448,682 1448.5,671 1449,677 1449.5,666 1450,677 1450.5,677 1451,682 1451.5,667 1452,683 1452.5,681 1453,664 1453.5,670 1454,670 1454.5,684 1455,677 1455.5,664 1456,672 1456.5,678 1457,663 1457.5,678 1458,676 1458.5,678 1459,665 1459.5,682 1460,670 1460.5,676 1461,667 1461.5,662 1462,662 1462.5,674 1463,681 1463.5,676 1464,661 1464.5,660 1465,684 1465.5,670 1466,682 1466.5,678 1467,678 1467.5,681 1468,668 1468.5,666 1469,658 1469.5,685 1470,659 1470.5,682 1471,658 1471.5,674 1472,682 1472.5,673 1473,673 1473.5,671 1474,659 1474.5,683 1475,676 1475.5,683 1476,680 1476.5,663 1477,677 1477.5,671 1478,662 1478.5,672 1479,682 1479.5,658 1480,674 1480.5,668 1481,670 1481.5,674 1482,662 1482.5,658 1483,661 1483.5,667 1484,673 1484.5,669 1485,677 1485.5,664 1486,660 1486.5,672 1487,675 1487.5,669 1488,659 1488.5,668 1489,674 1489.5,666 1490,678 1490.5,663 1491,674 1491.5,667 1492,660 1492.5,664 1493,661 1493.5,671 1494,679 1494.5,677 1495,674 1495.5,657 1496,673 1496.5,678 1497,665 1497.5,669 1498,669 1498.5,647 1499,658 1499.5,671 1500,664 1500.5,672 1501,658 1501.5,665 1502,659 1502.5,678 1503,684 1503.5,677 1504,668 1504.5,669 1505,674 1505.5,663 1506,657 1506.5,681 1507,671 1507.5,677 1508,670 1508.5,665 1509,660 1509.5,674 1510,672 1510.5,660 1511,663 1511.5,681 1512,676 1512.5,666 1513,669 1513.5,675 1514,679 1514.5,664 1515,675 1515.5,674 1516,676 1516.5,664 1517,670 1517.5,675 1518,668 1518.5,673 1519,671 1519.5,673 1520,680 1520.5,678 1521,664 1521.5,676 1522,662 1522.5,669 1523,678 1523.5,679 1524,683 1524.5,668 1525,673 1525.5,676 1526,679 1526.5,681 1527,669 1527.5,666 1528,667 1528.5,678 1529,664 1529.5,667 1530,679 1530.5,682 1531,671 1531.5,678 1532,670 1532.5,668 1533,674 1533.5,664 1534,672 1534.5,676 1535,682 1535.5,681 1536,666 1536.5,671 1537,662 1537.5,662 1538,684 1538.5,664 1539,668 1539.5,678 1540,665 1540.5,670 1541,662 1541.5,680 1542,667 1542.5,662 1543,666 1543.5,674 1544,670 1544.5,666 1545,665 1545.5,667 1546,671 1546.5,667 1547,678 1547.5,666 1548,658 1548.5,657 1549,667 1549.5,688 1550,669 1550.5,668 1551,655 1551.5,671 1552,655 1552.5,662 1553,661 1553.5,666 1554,659 1554.5,660 1555,652 1555.5,670 1556,663 1556.5,682 1557,680 1557.5,670 1558,683 1558.5,666 1559,658 1559.5,681 1560,684 1560.5,658 1561,668 1561.5,658 1562,675 1562.5,679 1563,660 1563.5,677 1564,672 1564.5,663 1565,665 1565.5,664 1566,664 1566.5,672 1567,661 1567.5,680 1568,668 1568.5,669 1569,676 1569.5,662 1570,665 1570.5,675 1571,675 1571.5,671 1572,676 1572.5,674 1573,676 1573.5,679 1574,676 1574.5,679 1575,670 1575.5,678 1576,676 1576.5,662 1577,672 1577.5,680 1578,671 1578.5,669 1579,669 1579.5,678 1580,669 1580.5,667 1581,675 1581.5,681 1582,674 1582.5,664 1583,665 1583.5,669 1584,676 1584.5,679 1585,677 1585.5,666 1586,675 1586.5,677 1587,672 1587.5,668 1588,673 1588.5,672 1589,670 1589.5,664 1590,668 1590.5,677 1591,669 1591.5,675 1592,671 1592.5,668 1593,676 1593.5,680 1594,676 1594.5,677 1595,671 1595.5,679 1596,681 1596.5,674 1597,676 1597.5,665 1598,664 1598.5,675 1599,670 1599.5,668 1600,674 1600.5,663 1601,674 1601.5,676 1602,677 1602.5,662 1603,663 1603.5,679 1604,681 1604.5,681 1605,673 1605.5,668 1606,680 1606.5,669 1607,683 1607.5,672 1608,660 1608.5,661 1609,682 1609.5,668 1610,665 1610.5,662 1611,668 1611.5,683 1612,661 1612.5,680 1613,670 1613.5,679 1614,681 1614.5,682 1615,666 1615.5,678 1616,665 1616.5,666 1617,666 1617.5,685 1618,683 1618.5,680 1619,666 1619.5,664 1620,681 1620.5,675 1621,683 1621.5,679 1622,670 1622.5,675 1623,683 1623.5,673 1624,661 1624.5,672 1625,682 1625.5,677 1626,684 1626.5,681 1627,678 1627.5,681 1628,667 1628.5,666 1629,664 1629.5,673 1630,673 1630.5,669 1631,683 1631.5,667 1632,663 1632.5,674 1633,671 1633.5,663 1634,673 1634.5,674 1635,685 1635.5,678 1636,668 1636.5,686 1637,683 1637.5,685 1638,672 1638.5,668 1639,684 1639.5,682 1640,678 1640.5,665 1641,672 1641.5,665 1642,685 1642.5,669 1643,683 1643.5,680 1644,676 1644.5,679 1645,670 1645.5,665 1646,681 1646.5,673 1647,665 1647.5,673 1648,679 1648.5,680 1649,680 1649.5,669 1650,665 1650.5,683 1651,674 1651.5,670 1652,668 1652.5,681 1653,667 1653.5,681 1654,679 1654.5,669 1655,683 1655.5,683 1656,666 1656.5,675 1657,675 1657.5,673 1658,685 1658.5,658 1659,679 1659.5,684 1660,684 1660.5,677 1661,686 1661.5,673 1662,681 1662.5,664 1663,672 1663.5,670 1664,677 1664.5,663 1665,664 1665.5,675 1666,687 1666.5,685 1667,675 1667.5,667 1668,680 1668.5,669 1669,667 1669.5,674 1670,663 1670.5,664 1671,680 1671.5,669 1672,664 1672.5,673 1673,667 1673.5,684 1674,673 1674.5,676 1675,681 1675.5,672 1676,677 1676.5,672 1677,679 1677.5,672 1678,671 1678.5,680 1679,671 1679.5,669 1680,679 1680.5,674 1681,675 1681.5,672 1682,671 1682.5,678 1683,664 1683.5,681 1684,674 1684.5,677 1685,682 1685.5,677 1686,662 1686.5,679 1687,678 1687.5,682 1688,666 1688.5,679 1689,678 1689.5,674 1690,678 1690.5,666 1691,671 1691.5,674 1692,682 1692.5,677 1693,661 1693.5,680 1694,678 1694.5,695 1695,679 1695.5,677 1696,674 1696.5,663 1697,673 1697.5,681 1698,684 1698.5,664 1699,677 1699.5,667 1700,675 1700.5,668 1701,664 1701.5,675 1702,668 1702.5,670 1703,683 1703.5,676 1704,665 1704.5,666 1705,673 1705.5,660 1706,681 1706.5,679 1707,660 1707.5,661 1708,660 1708.5,672 1709,665 1709.5,671 1710,672 1710.5,681 1711,673 1711.5,660 1712,666 1712.5,679 1713,678 1713.5,679 1714,677 1714.5,664 1715,666 1715.5,668 1716,665 1716.5,673 1717,666 1717.5,676 1718,661 1718.5,675 1719,665 1719.5,678 1720,679 1720.5,672 1721,660 1721.5,661 1722,676 1722.5,665 1723,671 1723.5,677 1724,677 1724.5,681 1725,687 1725.5,667 1726,670 1726.5,669 1727,667 1727.5,681 1728,678 1728.5,667 1729,680 1729.5,681 1730,669 1730.5,671 1731,669 1731.5,690 1732,676 1732.5,675 1733,659 1733.5,657 1734,671 1734.5,664 1735,675 1735.5,658 1736,663 1736.5,684 1737,674 1737.5,666 1738,669 1738.5,665 1739,664 1739.5,666 1740,673 1740.5,671 1741,660 1741.5,670 1742,676 1742.5,666 1743,675 1743.5,673 1744,668 1744.5,660 1745,669 1745.5,664 1746,677 1746.5,674 1747,669 1747.5,672 1748,673 1748.5,676 1749,671 1749.5,666 1750,661 1750.5,674 1751,659 1751.5,658 1752,674 1752.5,673 1753,665 1753.5,675 1754,677 1754.5,665 1755,656 1755.5,659 1756,666 1756.5,661 1757,658 1757.5,665 1758,666 1758.5,672 1759,675 1759.5,670 1760,679 1760.5,661 1761,668 1761.5,664 1762,665 1762.5,658 1763,669 1763.5,671 1764,660 1764.5,659 1765,658 1765.5,667 1766,677 1766.5,657 1767,657 1767.5,675 1768,664 1768.5,668 1769,673 1769.5,663 1770,678 1770.5,665 1771,668 1771.5,678 1772,669 1772.5,662 1773,663 1773.5,675 1774,665 1774.5,649 1775,657 1775.5,657 1776,660 1776.5,663 1777,679 1777.5,668 1778,658 1778.5,668 1779,663 1779.5,676 1780,679 1780.5,669 1781,673 1781.5,665 1782,661 1782.5,671 1783,659 1783.5,668 1784,674 1784.5,662 1785,688 1785.5,663 1786,671 1786.5,663 1787,667 1787.5,666 1788,662 1788.5,670 1789,662 1789.5,670 1790,668 1790.5,673 1791,667 1791.5,663 1792,666 1792.5,671 1793,663 1793.5,664 1794,663 1794.5,672 1795,665 1795.5,664 1796,671 1796.5,665 1797,670 1797.5,688 1798,671 1798.5,674 1799,665 1799.5,673 1800,671 1800.5,667 1801,672 1801.5,672 1802,663 1802.5,665 1803,671 1803.5,664 1804,669 1804.5,668 1805,671 1805.5,664 1806,672 1806.5,675 1807,670 1807.5,667 1808,664 1808.5,678 1809,680 1809.5,676 1810,667 1810.5,677 1811,669 1811.5,665 1812,670 1812.5,660 1813,661 1813.5,672 1814,681 1814.5,682 1815,675 1815.5,665 1816,658 1816.5,679 1817,659 1817.5,678 1818,678 1818.5,660 1819,678 1819.5,671 1820,665 1820.5,680 1821,663 1821.5,675 1822,659 1822.5,684 1823,678 1823.5,669 1824,658 1824.5,687 1825,670 1825.5,685 1826,687 1826.5,674 1827,669 1827.5,663 1828,670 1828.5,668 1829,658 1829.5,653 1830,682 1830.5,684 1831,670 1831.5,687 1832,675 1832.5,664 1833,678 1833.5,677 1834,680 1834.5,687 1835,664 1835.5,660 1836,674 1836.5,665 1837,674 1837.5,681 1838,664 1838.5,691 1839,682 1839.5,680 1840,658 1840.5,666 1841,668 1841.5,674 1842,669 1842.5,666 1843,668 1843.5,675 1844,658 1844.5,670 1845,683 1845.5,674 1846,678 1846.5,679 1847,682 1847.5,659 1848,659 1848.5,662 1849,666 1849.5,659 1850,675 1850.5,678 1851,678 1851.5,670 1852,670 1852.5,666 1853,683 1853.5,679 1854,680 1854.5,672 1855,661 1855.5,662 1856,662 1856.5,683 1857,662 1857.5,673 1858,677 1858.5,680 1859,673 1859.5,676 1860,670 1860.5,681 1861,662 1861.5,664 1862,668 1862.5,676 1863,668 1863.5,662 1864,682 1864.5,662 1865,666 1865.5,685 1866,680 1866.5,676 1867,679 1867.5,667 1868,679 1868.5,669 1869,670 1869.5,677 1870,672 1870.5,685 1871,667 1871.5,665 1872,680 1872.5,659 1873,664 1873.5,681 1874,659 1874.5,661 1875,679 1875.5,670 1876,660 1876.5,663 1877,680 1877.5,669 1878,677 1878.5,685 1879,688 1879.5,680 1880,669 1880.5,678 1881,685 1881.5,683 1882,672 1882.5,685 1883,685 1883.5,670 1884,674 1884.5,670 1885,664 1885.5,685 1886,683 1886.5,662 1887,664 1887.5,681 1888,660 1888.5,666 1889,673 1889.5,676 1890,682 1890.5,667 1891,667 1891.5,663 1892,651 1892.5,677 1893,669 1893.5,675 1894,676 1894.5,675 1895,670 1895.5,672 1896,681 1896.5,669 1897,665 1897.5,666 1898,667 1898.5,664 1899,684 1899.5,663 1900,679 1900.5,674 1901,685 1901.5,666 1902,682 1902.5,662 1903,666 1903.5,671 1904,681 1904.5,675 1905,679 1905.5,672 1906,661 1906.5,663 1907,667 1907.5,663 1908,682 1908.5,673 1909,680 1909.5,682 1910,688 1910.5,664 1911,662 1911.5,676 1912,669 1912.5,671 1913,679 1913.5,674 1914,677 1914.5,676 1915,671 1915.5,669 1916,674 1916.5,679 1917,678 1917.5,678 1918,667 1918.5,665 1919,675 1919.5,671 1920,681 1920.5,665 1921,681 1921.5,680 1922,661 1922.5,665 1923,676 1923.5,672 1924,665 1924.5,678 1925,677 1925.5,671 1926,669 1926.5,679 1927,667 1927.5,674 1928,689 1928.5,664 1929,676 1929.5,667 1930,669 1930.5,666 1931,665 1931.5,676 1932,662" stroke="#808080" stroke-width="6"/>
</g>
<g stroke="#000" shape-rendering="crispEdges" stroke-dasharray="11.5 3.5 3.5 3.5">
<line x1="608.5" y1="390" x2="608.5" y2="1359" stroke-width="3" stroke-dashoffset="9"/>
<line x1="839" y1="558" x2="839" y2="1359" stroke-width="2" stroke-dashoffset="1"/>
<line x1="904.5" y1="477" x2="904.5" y2="1359" stroke-width="3" stroke-dashoffset="8"/>
<line x1="1017.5" y1="479" x2="1017.5" y2="1359" stroke-width="3" stroke-dashoffset="10"/>
</g>
<text x="279.4" y="1422.5" font-size="44" text-anchor="middle">10</text>
<text x="499.9" y="1422.5" font-size="44" text-anchor="middle">20</text>
<text x="720.5" y="1422.5" font-size="44" text-anchor="middle">30</text>
<text x="941" y="1422.5" font-size="44" text-anchor="middle">40</text>
<text x="1161.6" y="1422.5" font-size="44" text-anchor="middle">50</text>
<text x="1382.2" y="1422.5" font-size="44" text-anchor="middle">60</text>
<text x="1602.7" y="1422.5" font-size="44" text-anchor="middle">70</text>
<text x="1823.2" y="1422.5" font-size="44" text-anchor="middle">80</text>
<text x="974" y="1484.7" font-size="57" font-weight="bold">2</text>
<text font-size="56" font-weight="bold" transform="translate(1001.5 1485.5) scale(1.13 1.02)">θ</text>
<text x="1048.2" y="1484.9" font-size="50" font-weight="bold">(</text>
<text x="1064" y="1487" font-size="58" font-weight="bold">°</text>
<text x="1085.2" y="1484.9" font-size="50" font-weight="bold">)</text>
<text x="112.9" y="635" font-size="63" font-weight="bold" text-anchor="middle" transform="rotate(-90 112.9 635)">Intensity (arb. un.)</text>
<rect x="216" y="141" width="120" height="6" fill="#000080" rx="1.5"/>
<text x="346.5" y="161.3" font-size="50" font-weight="bold">5U5Cu <tspan font-weight="normal" font-size="50.6" dx="2">fresh</tspan></text>
<rect x="216" y="205" width="120" height="6" fill="#008080" rx="1.5"/>
<text x="346.5" y="225.3" font-size="50" font-weight="bold">5U5Cu <tspan font-weight="normal" font-size="50.6" dx="2">poisoned</tspan></text>
<rect x="216" y="269" width="120" height="6" fill="#808080" rx="1.5"/>
<text x="346.5" y="288.7" font-size="50" font-weight="bold">5U5Cu <tspan font-weight="normal" font-size="50.6" dx="2">regenerated</tspan></text>
<text font-size="81" font-weight="bold" transform="translate(1812 190) scale(1.07 1)">C</text>
<text x="586" y="498" font-size="50" transform="rotate(-90 586 498)">C (0 0 2)</text>
<text x="851" y="538.5" font-size="50" transform="rotate(-90 851 538.5)">CuO (1 1 1)</text>
<text x="932.7" y="468" font-size="50" transform="rotate(-90 932.7 468)">CuO (0 2 2)</text>
<text x="1029" y="463.5" font-size="50" transform="rotate(-90 1029 463.5)">C (1 0 0)</text>
</g>
<g id="chart-d">
<clipPath id="clip2"><rect x="162" y="1972" width="1777" height="1290"/></clipPath>
<g fill="#000" shape-rendering="crispEdges">
<rect x="160" y="1967" width="4" height="1300"/>
<rect x="1937" y="1967" width="4" height="1300"/>
<rect x="160" y="1967" width="1781" height="5"/>
<rect x="160" y="3262" width="1781" height="5"/>
<rect x="312" y="3237" width="5" height="25"/>
<rect x="312" y="1972" width="5" height="25"/>
<rect x="529" y="3237" width="4" height="25"/>
<rect x="529" y="1972" width="4" height="25"/>
<rect x="745" y="3237" width="5" height="25"/>
<rect x="745" y="1972" width="5" height="25"/>
<rect x="962" y="3237" width="5" height="25"/>
<rect x="962" y="1972" width="5" height="25"/>
<rect x="1179" y="3237" width="4" height="25"/>
<rect x="1179" y="1972" width="4" height="25"/>
<rect x="1395" y="3237" width="5" height="25"/>
<rect x="1395" y="1972" width="5" height="25"/>
<rect x="1612" y="3237" width="5" height="25"/>
<rect x="1612" y="1972" width="5" height="25"/>
<rect x="1829" y="3237" width="4" height="25"/>
<rect x="1829" y="1972" width="4" height="25"/>
<rect x="204" y="3251" width="4" height="11"/>
<rect x="204" y="1972" width="4" height="12"/>
<rect x="420" y="3251" width="5" height="11"/>
<rect x="420" y="1972" width="5" height="12"/>
<rect x="637" y="3251" width="5" height="11"/>
<rect x="637" y="1972" width="5" height="12"/>
<rect x="854" y="3251" width="4" height="11"/>
<rect x="854" y="1972" width="4" height="12"/>
<rect x="1070" y="3251" width="5" height="11"/>
<rect x="1070" y="1972" width="5" height="12"/>
<rect x="1287" y="3251" width="5" height="11"/>
<rect x="1287" y="1972" width="5" height="12"/>
<rect x="1504" y="3251" width="4" height="11"/>
<rect x="1504" y="1972" width="4" height="12"/>
<rect x="1720" y="3251" width="5" height="11"/>
<rect x="1720" y="1972" width="5" height="12"/>
<rect x="164" y="2029" width="12" height="4"/>
<rect x="1925" y="2029" width="12" height="4"/>
<rect x="164" y="2090" width="25" height="5"/>
<rect x="1912" y="2090" width="25" height="5"/>
<rect x="164" y="2152" width="12" height="5"/>
<rect x="1925" y="2152" width="12" height="5"/>
<rect x="164" y="2214" width="25" height="4"/>
<rect x="1912" y="2214" width="25" height="4"/>
<rect x="164" y="2275" width="12" height="5"/>
<rect x="1925" y="2275" width="12" height="5"/>
<rect x="164" y="2337" width="25" height="5"/>
<rect x="1912" y="2337" width="25" height="5"/>
<rect x="164" y="2399" width="12" height="5"/>
<rect x="1925" y="2399" width="12" height="5"/>
<rect x="164" y="2460" width="25" height="5"/>
<rect x="1912" y="2460" width="25" height="5"/>
<rect x="164" y="2522" width="12" height="5"/>
<rect x="1925" y="2522" width="12" height="5"/>
<rect x="164" y="2584" width="25" height="5"/>
<rect x="1912" y="2584" width="25" height="5"/>
<rect x="164" y="2646" width="12" height="4"/>
<rect x="1925" y="2646" width="12" height="4"/>
<rect x="164" y="2707" width="25" height="5"/>
<rect x="1912" y="2707" width="25" height="5"/>
<rect x="164" y="2769" width="12" height="5"/>
<rect x="1925" y="2769" width="12" height="5"/>
<rect x="164" y="2831" width="25" height="4"/>
<rect x="1912" y="2831" width="25" height="4"/>
<rect x="164" y="2892" width="12" height="5"/>
<rect x="1925" y="2892" width="12" height="5"/>
<rect x="164" y="2954" width="25" height="5"/>
<rect x="1912" y="2954" width="25" height="5"/>
<rect x="164" y="3016" width="12" height="4"/>
<rect x="1925" y="3016" width="12" height="4"/>
<rect x="164" y="3077" width="25" height="5"/>
<rect x="1912" y="3077" width="25" height="5"/>
<rect x="164" y="3139" width="12" height="5"/>
<rect x="1925" y="3139" width="12" height="5"/>
<rect x="164" y="3201" width="25" height="5"/>
<rect x="1912" y="3201" width="25" height="5"/>
</g>
<g clip-path="url(#clip2)" fill="none" stroke-linejoin="round" shape-rendering="crispEdges">
<path d="M162,3204 162.5,3208 163,3210 163.5,3203 164,3204 164.5,3213 165,3203 165.5,3204 166,3213 166.5,3210 167,3207 167.5,3208 168,3210 168.5,3206 169,3204 169.5,3211 170,3210 170.5,3208 171,3212 171.5,3220 172,3213 172.5,3197 173,3209 173.5,3208 174,3206 174.5,3209 175,3205 175.5,3211 176,3211 176.5,3204 177,3208 177.5,3206 178,3204 178.5,3211 179,3207 179.5,3205 180,3209 180.5,3205 181,3211 181.5,3205 182,3203 182.5,3205 183,3206 183.5,3207 184,3211 184.5,3209 185,3206 185.5,3202 186,3203 186.5,3212 187,3206 187.5,3209 188,3202 188.5,3201 189,3211 189.5,3208 190,3204 190.5,3204 191,3201 191.5,3202 192,3200 192.5,3211 193,3206 193.5,3201 194,3210 194.5,3194 195,3199 195.5,3207 196,3212 196.5,3198 197,3211 197.5,3201 198,3199 198.5,3198 199,3202 199.5,3210 200,3206 200.5,3212 201,3201 201.5,3203 202,3202 202.5,3214 203,3213 203.5,3203 204,3205 204.5,3203 205,3210 205.5,3199 206,3200 206.5,3205 207,3202 207.5,3211 208,3209 208.5,3207 209,3208 209.5,3208 210,3209 210.5,3211 211,3202 211.5,3207 212,3202 212.5,3205 213,3209 213.5,3210 214,3208 214.5,3202 215,3205 215.5,3203 216,3210 216.5,3203 217,3204 217.5,3205 218,3202 218.5,3209 219,3207 219.5,3203 220,3206 220.5,3202 221,3207 221.5,3203 222,3201 222.5,3202 223,3207 223.5,3208 224,3204 224.5,3208 225,3195 225.5,3201 226,3204 226.5,3205 227,3212 227.5,3201 228,3200 228.5,3207 229,3213 229.5,3212 230,3209 230.5,3200 231,3211 231.5,3209 232,3201 232.5,3206 233,3200 233.5,3211 234,3217 234.5,3211 235,3210 235.5,3203 236,3211 236.5,3203 237,3202 237.5,3205 238,3206 238.5,3204 239,3208 239.5,3208 240,3203 240.5,3208 241,3204 241.5,3209 242,3204 242.5,3217 243,3205 243.5,3207 244,3208 244.5,3206 245,3203 245.5,3211 246,3201 246.5,3204 247,3206 247.5,3200 248,3202 248.5,3209 249,3208 249.5,3207 250,3210 250.5,3208 251,3203 251.5,3207 252,3203 252.5,3208 253,3203 253.5,3201 254,3209 254.5,3207 255,3208 255.5,3205 256,3208 256.5,3204 257,3206 257.5,3199 258,3205 258.5,3209 259,3207 259.5,3209 260,3205 260.5,3210 261,3200 261.5,3210 262,3203 262.5,3199 263,3207 263.5,3204 264,3204 264.5,3210 265,3200 265.5,3207 266,3204 266.5,3206 267,3205 267.5,3200 268,3205 268.5,3211 269,3200 269.5,3198 270,3199 270.5,3205 271,3213 271.5,3198 272,3213 272.5,3206 273,3194 273.5,3204 274,3201 274.5,3208 275,3206 275.5,3202 276,3196 276.5,3210 277,3208 277.5,3204 278,3204 278.5,3208 279,3211 279.5,3199 280,3200 280.5,3203 281,3204 281.5,3199 282,3199 282.5,3201 283,3203 283.5,3207 284,3205 284.5,3198 285,3198 285.5,3203 286,3209 286.5,3209 287,3201 287.5,3209 288,3210 288.5,3202 289,3207 289.5,3201 290,3197 290.5,3204 291,3196 291.5,3205 292,3208 292.5,3210 293,3201 293.5,3195 294,3209 294.5,3209 295,3210 295.5,3204 296,3205 296.5,3200 297,3196 297.5,3198 298,3205 298.5,3199 299,3204 299.5,3201 300,3201 300.5,3208 301,3197 301.5,3201 302,3197 302.5,3206 303,3201 303.5,3199 304,3198 304.5,3202 305,3200 305.5,3198 306,3197 306.5,3200 307,3202 307.5,3202 308,3205 308.5,3205 309,3206 309.5,3204 310,3201 310.5,3202 311,3201 311.5,3201 312,3197 312.5,3205 313,3199 313.5,3197 314,3202 314.5,3204 315,3201 315.5,3200 316,3204 316.5,3198 317,3196 317.5,3203 318,3203 318.5,3207 319,3201 319.5,3206 320,3195 320.5,3195 321,3204 321.5,3198 322,3195 322.5,3196 323,3200 323.5,3199 324,3203 324.5,3207 325,3200 325.5,3197 326,3203 326.5,3195 327,3200 327.5,3199 328,3200 328.5,3196 329,3202 329.5,3202 330,3204 330.5,3206 331,3199 331.5,3202 332,3200 332.5,3198 333,3205 333.5,3203 334,3205 334.5,3204 335,3205 335.5,3197 336,3195 336.5,3197 337,3200 337.5,3203 338,3200 338.5,3201 339,3204 339.5,3195 340,3203 340.5,3194 341,3197 341.5,3204 342,3204 342.5,3199 343,3197 343.5,3207 344,3197 344.5,3192 345,3196 345.5,3192 346,3207 346.5,3193 347,3210 347.5,3195 348,3197 348.5,3203 349,3197 349.5,3198 350,3193 350.5,3199 351,3191 351.5,3195 352,3209 352.5,3196 353,3196 353.5,3204 354,3209 354.5,3197 355,3198 355.5,3205 356,3206 356.5,3203 357,3195 357.5,3195 358,3205 358.5,3204 359,3208 359.5,3205 360,3199 360.5,3194 361,3207 361.5,3204 362,3202 362.5,3204 363,3199 363.5,3198 364,3202 364.5,3200 365,3204 365.5,3208 366,3206 366.5,3199 367,3199 367.5,3207 368,3199 368.5,3205 369,3194 369.5,3200 370,3201 370.5,3206 371,3207 371.5,3196 372,3203 372.5,3203 373,3196 373.5,3206 374,3202 374.5,3209 375,3196 375.5,3202 376,3199 376.5,3204 377,3203 377.5,3202 378,3199 378.5,3202 379,3199 379.5,3208 380,3201 380.5,3201 381,3198 381.5,3198 382,3209 382.5,3199 383,3208 383.5,3203 384,3209 384.5,3196 385,3208 385.5,3206 386,3203 386.5,3205 387,3205 387.5,3201 388,3203 388.5,3198 389,3195 389.5,3204 390,3201 390.5,3207 391,3198 391.5,3206 392,3208 392.5,3207 393,3208 393.5,3197 394,3197 394.5,3198 395,3199 395.5,3196 396,3197 396.5,3195 397,3207 397.5,3199 398,3203 398.5,3201 399,3205 399.5,3206 400,3200 400.5,3202 401,3196 401.5,3199 402,3198 402.5,3199 403,3199 403.5,3203 404,3199 404.5,3199 405,3206 405.5,3195 406,3194 406.5,3195 407,3207 407.5,3203 408,3205 408.5,3208 409,3197 409.5,3208 410,3197 410.5,3202 411,3204 411.5,3206 412,3197 412.5,3201 413,3194 413.5,3198 414,3208 414.5,3207 415,3202 415.5,3205 416,3207 416.5,3198 417,3208 417.5,3200 418,3195 418.5,3201 419,3202 419.5,3203 420,3203 420.5,3194 421,3202 421.5,3206 422,3202 422.5,3206 423,3215 423.5,3204 424,3195 424.5,3205 425,3199 425.5,3205 426,3198 426.5,3202 427,3205 427.5,3203 428,3202 428.5,3207 429,3194 429.5,3195 430,3201 430.5,3207 431,3203 431.5,3197 432,3194 432.5,3199 433,3200 433.5,3200 434,3202 434.5,3197 435,3206 435.5,3197 436,3195 436.5,3198 437,3207 437.5,3195 438,3197 438.5,3207 439,3198 439.5,3205 440,3194 440.5,3206 441,3197 441.5,3196 442,3204 442.5,3208 443,3207 443.5,3204 444,3207 444.5,3208 445,3201 445.5,3195 446,3206 446.5,3199 447,3198 447.5,3201 448,3193 448.5,3193 449,3197 449.5,3202 450,3205 450.5,3208 451,3206 451.5,3208 452,3203 452.5,3204 453,3202 453.5,3193 454,3193 454.5,3205 455,3195 455.5,3205 456,3186 456.5,3192 457,3201 457.5,3199 458,3193 458.5,3196 459,3197 459.5,3187 460,3203 460.5,3185 461,3199 461.5,3202 462,3207 462.5,3193 463,3193 463.5,3195 464,3195 464.5,3194 465,3192 465.5,3195 466,3195 466.5,3200 467,3203 467.5,3198 468,3194 468.5,3192 469,3196 469.5,3194 470,3200 470.5,3208 471,3205 471.5,3195 472,3191 472.5,3192 473,3200 473.5,3198 474,3205 474.5,3193 475,3196 475.5,3205 476,3203 476.5,3202 477,3210 477.5,3193 478,3195 478.5,3203 479,3203 479.5,3212 480,3212 480.5,3203 481,3207 481.5,3206 482,3193 482.5,3204 483,3197 483.5,3198 484,3193 484.5,3190 485,3210 485.5,3206 486,3207 486.5,3196 487,3199 487.5,3194 488,3204 488.5,3209 489,3208 489.5,3212 490,3196 490.5,3206 491,3193 491.5,3202 492,3192 492.5,3203 493,3203 493.5,3198 494,3198 494.5,3207 495,3201 495.5,3200 496,3193 496.5,3197 497,3209 497.5,3212 498,3199 498.5,3209 499,3209 499.5,3197 500,3198 500.5,3206 501,3199 501.5,3210 502,3200 502.5,3206 503,3206 503.5,3198 504,3208 504.5,3200 505,3196 505.5,3195 506,3202 506.5,3205 507,3199 507.5,3208 508,3199 508.5,3208 509,3195 509.5,3198 510,3197 510.5,3202 511,3200 511.5,3201 512,3209 512.5,3204 513,3205 513.5,3201 514,3209 514.5,3203 515,3208 515.5,3211 516,3205 516.5,3201 517,3198 517.5,3211 518,3208 518.5,3209 519,3197 519.5,3202 520,3211 520.5,3198 521,3210 521.5,3204 522,3197 522.5,3201 523,3194 523.5,3207 524,3208 524.5,3194 525,3200 525.5,3209 526,3198 526.5,3204 527,3209 527.5,3205 528,3197 528.5,3211 529,3208 529.5,3205 530,3201 530.5,3205 531,3202 531.5,3197 532,3197 532.5,3195 533,3197 533.5,3199 534,3207 534.5,3206 535,3206 535.5,3211 536,3195 536.5,3201 537,3194 537.5,3202 538,3194 538.5,3193 539,3194 539.5,3201 540,3210 540.5,3198 541,3210 541.5,3197 542,3198 542.5,3203 543,3193 543.5,3202 544,3205 544.5,3211 545,3193 545.5,3210 546,3204 546.5,3204 547,3193 547.5,3211 548,3198 548.5,3203 549,3203 549.5,3210 550,3204 550.5,3211 551,3196 551.5,3204 552,3203 552.5,3201 553,3203 553.5,3202 554,3198 554.5,3203 555,3193 555.5,3200 556,3180 556.5,3195 557,3201 557.5,3202 558,3193 558.5,3196 559,3192 559.5,3200 560,3192 560.5,3194 561,3197 561.5,3197 562,3190 562.5,3204 563,3193 563.5,3198 564,3192 564.5,3197 565,3193 565.5,3192 566,3194 566.5,3195 567,3195 567.5,3196 568,3190 568.5,3187 569,3189 569.5,3189 570,3193 570.5,3190 571,3188 571.5,3184 572,3191 572.5,3183 573,3189 573.5,3192 574,3190 574.5,3181 575,3184 575.5,3195 576,3178 576.5,3190 577,3184 577.5,3188 578,3183 578.5,3176 579,3185 579.5,3173 580,3191 580.5,3189 581,3180 581.5,3183 582,3197 582.5,3191 583,3172 583.5,3177 584,3179 584.5,3185 585,3184 585.5,3178 586,3170 586.5,3181 587,3176 587.5,3171 588,3179 588.5,3176 589,3173 589.5,3172 590,3175 590.5,3170 591,3172 591.5,3181 592,3173 592.5,3168 593,3172 593.5,3178 594,3177 594.5,3173 595,3177 595.5,3174 596,3172 596.5,3166 597,3160 597.5,3171 598,3169 598.5,3175 599,3161 599.5,3172 600,3157 600.5,3173 601,3173 601.5,3151 602,3157 602.5,3171 603,3170 603.5,3162 604,3150 604.5,3147 605,3152 605.5,3165 606,3161 606.5,3153 607,3159 607.5,3161 608,3149 608.5,3159 609,3147 609.5,3147 610,3141 610.5,3143 611,3149 611.5,3138 612,3148 612.5,3139 613,3151 613.5,3137 614,3137 614.5,3138 615,3145 615.5,3149 616,3148 616.5,3147 617,3144 617.5,3140 618,3134 618.5,3129 619,3147 619.5,3134 620,3139 620.5,3123 621,3130 621.5,3123 622,3129 622.5,3138 623,3127 623.5,3135 624,3121 624.5,3127 625,3127 625.5,3128 626,3121 626.5,3131 627,3134 627.5,3132 628,3115 628.5,3124 629,3121 629.5,3125 630,3114 630.5,3127 631,3120 631.5,3131 632,3111 632.5,3119 633,3120 633.5,3127 634,3125 634.5,3113 635,3115 635.5,3123 636,3117 636.5,3114 637,3137 637.5,3124 638,3115 638.5,3118 639,3125 639.5,3112 640,3124 640.5,3137 641,3121 641.5,3120 642,3120 642.5,3117 643,3117 643.5,3109 644,3134 644.5,3119 645,3115 645.5,3119 646,3114 646.5,3122 647,3120 647.5,3104 648,3121 648.5,3109 649,3104 649.5,3105 650,3109 650.5,3114 651,3110 651.5,3106 652,3120 652.5,3110 653,3122 653.5,3108 654,3118 654.5,3110 655,3121 655.5,3116 656,3117 656.5,3105 657,3119 657.5,3110 658,3119 658.5,3121 659,3106 659.5,3103 660,3120 660.5,3125 661,3123 661.5,3113 662,3122 662.5,3103 663,3104 663.5,3117 664,3116 664.5,3123 665,3108 665.5,3114 666,3128 666.5,3110 667,3113 667.5,3119 668,3129 668.5,3108 669,3121 669.5,3115 670,3114 670.5,3111 671,3117 671.5,3139 672,3116 672.5,3119 673,3122 673.5,3128 674,3121 674.5,3118 675,3132 675.5,3114 676,3111 676.5,3132 677,3118 677.5,3116 678,3122 678.5,3121 679,3122 679.5,3135 680,3122 680.5,3119 681,3121 681.5,3140 682,3128 682.5,3127 683,3138 683.5,3143 684,3133 684.5,3141 685,3128 685.5,3131 686,3137 686.5,3130 687,3131 687.5,3130 688,3132 688.5,3148 689,3147 689.5,3130 690,3137 690.5,3147 691,3152 691.5,3145 692,3150 692.5,3137 693,3153 693.5,3155 694,3144 694.5,3139 695,3134 695.5,3152 696,3153 696.5,3135 697,3151 697.5,3164 698,3137 698.5,3141 699,3139 699.5,3151 700,3150 700.5,3165 701,3143 701.5,3147 702,3168 702.5,3144 703,3151 703.5,3155 704,3146 704.5,3154 705,3162 705.5,3162 706,3163 706.5,3164 707,3164 707.5,3152 708,3166 708.5,3165 709,3158 709.5,3163 710,3160 710.5,3172 711,3162 711.5,3160 712,3172 712.5,3172 713,3174 713.5,3171 714,3167 714.5,3169 715,3171 715.5,3172 716,3178 716.5,3167 717,3176 717.5,3163 718,3167 718.5,3180 719,3168 719.5,3174 720,3181 720.5,3177 721,3174 721.5,3179 722,3185 722.5,3185 723,3169 723.5,3169 724,3172 724.5,3156 725,3183 725.5,3184 726,3168 726.5,3165 727,3170 727.5,3178 728,3179 728.5,3170 729,3173 729.5,3189 730,3176 730.5,3155 731,3168 731.5,3168 732,3170 732.5,3156 733,3150 733.5,3158 734,3156 734.5,3157 735,3168 735.5,3166 736,3168 736.5,3169 737,3158 737.5,3158 738,3167 738.5,3179 739,3177 739.5,3182 740,3180 740.5,3185 741,3192 741.5,3187 742,3191 742.5,3195 743,3191 743.5,3193 744,3178 744.5,3178 745,3199 745.5,3184 746,3186 746.5,3183 747,3195 747.5,3182 748,3200 748.5,3190 749,3200 749.5,3205 750,3200 750.5,3195 751,3200 751.5,3206 752,3203 752.5,3194 753,3189 753.5,3208 754,3203 754.5,3191 755,3202 755.5,3203 756,3197 756.5,3211 757,3196 757.5,3194 758,3198 758.5,3199 759,3213 759.5,3208 760,3194 760.5,3201 761,3194 761.5,3210 762,3215 762.5,3194 763,3206 763.5,3199 764,3200 764.5,3213 765,3220 765.5,3201 766,3208 766.5,3202 767,3195 767.5,3210 768,3198 768.5,3213 769,3214 769.5,3199 770,3210 770.5,3191 771,3215 771.5,3203 772,3213 772.5,3212 773,3210 773.5,3187 774,3216 774.5,3205 775,3215 775.5,3208 776,3207 776.5,3213 777,3205 777.5,3214 778,3207 778.5,3213 779,3212 779.5,3217 780,3206 780.5,3205 781,3218 781.5,3208 782,3206 782.5,3212 783,3203 783.5,3216 784,3212 784.5,3211 785,3204 785.5,3213 786,3215 786.5,3213 787,3215 787.5,3200 788,3212 788.5,3214 789,3207 789.5,3199 790,3208 790.5,3202 791,3198 791.5,3216 792,3214 792.5,3210 793,3212 793.5,3211 794,3207 794.5,3199 795,3203 795.5,3207 796,3209 796.5,3203 797,3200 797.5,3204 798,3201 798.5,3216 799,3201 799.5,3205 800,3208 800.5,3202 801,3207 801.5,3208 802,3198 802.5,3217 803,3208 803.5,3200 804,3217 804.5,3200 805,3212 805.5,3207 806,3202 806.5,3205 807,3207 807.5,3204 808,3202 808.5,3205 809,3206 809.5,3211 810,3201 810.5,3197 811,3215 811.5,3198 812,3210 812.5,3208 813,3218 813.5,3200 814,3216 814.5,3198 815,3199 815.5,3211 816,3199 816.5,3209 817,3211 817.5,3198 818,3214 818.5,3205 819,3218 819.5,3195 820,3197 820.5,3210 821,3201 821.5,3204 822,3216 822.5,3203 823,3196 823.5,3198 824,3207 824.5,3211 825,3211 825.5,3204 826,3199 826.5,3196 827,3198 827.5,3197 828,3211 828.5,3201 829,3194 829.5,3205 830,3201 830.5,3191 831,3211 831.5,3209 832,3195 832.5,3206 833,3198 833.5,3202 834,3201 834.5,3203 835,3196 835.5,3189 836,3202 836.5,3194 837,3193 837.5,3199 838,3197 838.5,3202 839,3189 839.5,3193 840,3180 840.5,3179 841,3181 841.5,3180 842,3181 842.5,3175 843,3188 843.5,3176 844,3173 844.5,3183 845,3179 845.5,3176 846,3178 846.5,3172 847,3161 847.5,3173 848,3150 848.5,3167 849,3153 849.5,3147 850,3130 850.5,3141 851,3149 851.5,3143 852,3138 852.5,3121 853,3123 853.5,3109 854,3123 854.5,3100 855,3086 855.5,3094 856,3109 856.5,3106 857,3085 857.5,3096 858,3072 858.5,3082 859,3065 859.5,3065 860,3065 860.5,3053 861,3045 861.5,3051 862,3053 862.5,3055 863,3034 863.5,3030 864,3023 864.5,3024 865,3018 865.5,3022 866,3032 866.5,3016 867,3027 867.5,3018 868,3015 868.5,3019 869,3017 869.5,3015 870,3006 870.5,3014 871,3018 871.5,2994 872,2988 872.5,2990 873,2975 873.5,2964 874,2967 874.5,2939 875,2938 875.5,2916 876,2887 876.5,2873 877,2851 877.5,2841 878,2827 878.5,2791 879,2771 879.5,2751 880,2735 880.5,2713 881,2707 881.5,2684 882,2667 882.5,2644 883,2634 883.5,2621 884,2605 884.5,2607 885,2605 885.5,2617 886,2634 886.5,2644 887,2674 887.5,2722 888,2748 888.5,2773 889,2807 889.5,2836 890,2877 890.5,2893 891,2926 891.5,2937 892,2969 892.5,2989 893,2998 893.5,3021 894,3022 894.5,3031 895,3058 895.5,3053 896,3075 896.5,3088 897,3099 897.5,3109 898,3094 898.5,3119 899,3113 899.5,3120 900,3119 900.5,3134 901,3121 901.5,3116 902,3142 902.5,3139 903,3143 903.5,3130 904,3134 904.5,3147 905,3152 905.5,3152 906,3152 906.5,3155 907,3145 907.5,3154 908,3153 908.5,3163 909,3160 909.5,3165 910,3166 910.5,3171 911,3171 911.5,3154 912,3169 912.5,3163 913,3158 913.5,3167 914,3175 914.5,3174 915,3160 915.5,3162 916,3172 916.5,3177 917,3158 917.5,3158 918,3169 918.5,3167 919,3170 919.5,3157 920,3162 920.5,3167 921,3157 921.5,3155 922,3145 922.5,3159 923,3149 923.5,3145 924,3148 924.5,3150 925,3147 925.5,3134 926,3136 926.5,3129 927,3135 927.5,3131 928,3126 928.5,3127 929,3118 929.5,3117 930,3107 930.5,3116 931,3106 931.5,3110 932,3097 932.5,3105 933,3109 933.5,3110 934,3109 934.5,3104 935,3114 935.5,3117 936,3117 936.5,3114 937,3111 937.5,3123 938,3115 938.5,3139 939,3129 939.5,3131 940,3139 940.5,3134 941,3163 941.5,3163 942,3162 942.5,3158 943,3171 943.5,3158 944,3164 944.5,3159 945,3168 945.5,3183 946,3179 946.5,3178 947,3180 947.5,3185 948,3187 948.5,3185 949,3188 949.5,3179 950,3190 950.5,3196 951,3186 951.5,3188 952,3201 952.5,3185 953,3187 953.5,3203 954,3186 954.5,3191 955,3206 955.5,3194 956,3204 956.5,3203 957,3186 957.5,3191 958,3207 958.5,3193 959,3196 959.5,3208 960,3189 960.5,3210 961,3202 961.5,3202 962,3188 962.5,3202 963,3207 963.5,3197 964,3190 964.5,3191 965,3190 965.5,3198 966,3207 966.5,3190 967,3198 967.5,3179 968,3178 968.5,3200 969,3201 969.5,3193 970,3207 970.5,3200 971,3196 971.5,3223 972,3205 972.5,3191 973,3211 973.5,3202 974,3196 974.5,3182 975,3188 975.5,3193 976,3194 976.5,3195 977,3213 977.5,3202 978,3190 978.5,3195 979,3197 979.5,3186 980,3198 980.5,3199 981,3211 981.5,3197 982,3204 982.5,3204 983,3188 983.5,3200 984,3196 984.5,3187 985,3183 985.5,3211 986,3184 986.5,3206 987,3191 987.5,3182 988,3206 988.5,3197 989,3189 989.5,3199 990,3195 990.5,3186 991,3192 991.5,3191 992,3176 992.5,3187 993,3190 993.5,3182 994,3183 994.5,3184 995,3178 995.5,3168 996,3168 996.5,3170 997,3164 997.5,3149 998,3146 998.5,3146 999,3154 999.5,3138 1000,3136 1000.5,3143 1001,3124 1001.5,3122 1002,3117 1002.5,3108 1003,3118 1003.5,3103 1004,3100 1004.5,3093 1005,3081 1005.5,3094 1006,3071 1006.5,3069 1007,3073 1007.5,3058 1008,3056 1008.5,3047 1009,3048 1009.5,3037 1010,3035 1010.5,3020 1011,3016 1011.5,3025 1012,3031 1012.5,3037 1013,3035 1013.5,3032 1014,3039 1014.5,3045 1015,3051 1015.5,3063 1016,3054 1016.5,3063 1017,3079 1017.5,3071 1018,3072 1018.5,3096 1019,3075 1019.5,3101 1020,3104 1020.5,3085 1021,3103 1021.5,3091 1022,3092 1022.5,3115 1023,3122 1023.5,3109 1024,3098 1024.5,3114 1025,3097 1025.5,3108 1026,3095 1026.5,3067 1027,3086 1027.5,3080 1028,3073 1028.5,3054 1029,3023 1029.5,3040 1030,3010 1030.5,2988 1031,2977 1031.5,2967 1032,2980 1032.5,2945 1033,2969 1033.5,2936 1034,2963 1034.5,2954 1035,2974 1035.5,2976 1036,3012 1036.5,3004 1037,3034 1037.5,3059 1038,3072 1038.5,3080 1039,3096 1039.5,3126 1040,3114 1040.5,3120 1041,3152 1041.5,3159 1042,3160 1042.5,3160 1043,3176 1043.5,3165 1044,3149 1044.5,3171 1045,3175 1045.5,3177 1046,3187 1046.5,3168 1047,3189 1047.5,3182 1048,3188 1048.5,3181 1049,3179 1049.5,3180 1050,3179 1050.5,3185 1051,3190 1051.5,3197 1052,3179 1052.5,3187 1053,3190 1053.5,3199 1054,3197 1054.5,3212 1055,3196 1055.5,3190 1056,3201 1056.5,3202 1057,3194 1057.5,3182 1058,3191 1058.5,3187 1059,3185 1059.5,3189 1060,3202 1060.5,3191 1061,3193 1061.5,3192 1062,3188 1062.5,3197 1063,3173 1063.5,3205 1064,3199 1064.5,3206 1065,3204 1065.5,3197 1066,3187 1066.5,3191 1067,3189 1067.5,3203 1068,3178 1068.5,3201 1069,3194 1069.5,3198 1070,3204 1070.5,3194 1071,3191 1071.5,3194 1072,3210 1072.5,3201 1073,3180 1073.5,3191 1074,3189 1074.5,3196 1075,3203 1075.5,3199 1076,3208 1076.5,3213 1077,3202 1077.5,3197 1078,3208 1078.5,3192 1079,3207 1079.5,3210 1080,3208 1080.5,3193 1081,3204 1081.5,3209 1082,3200 1082.5,3210 1083,3195 1083.5,3203 1084,3204 1084.5,3209 1085,3201 1085.5,3198 1086,3208 1086.5,3196 1087,3201 1087.5,3203 1088,3210 1088.5,3203 1089,3206 1089.5,3208 1090,3208 1090.5,3214 1091,3204 1091.5,3206 1092,3194 1092.5,3198 1093,3199 1093.5,3199 1094,3206 1094.5,3198 1095,3207 1095.5,3214 1096,3195 1096.5,3199 1097,3206 1097.5,3194 1098,3197 1098.5,3208 1099,3203 1099.5,3217 1100,3208 1100.5,3213 1101,3202 1101.5,3203 1102,3216 1102.5,3209 1103,3218 1103.5,3199 1104,3195 1104.5,3211 1105,3195 1105.5,3194 1106,3203 1106.5,3211 1107,3202 1107.5,3213 1108,3205 1108.5,3200 1109,3207 1109.5,3209 1110,3196 1110.5,3209 1111,3196 1111.5,3220 1112,3228 1112.5,3197 1113,3192 1113.5,3197 1114,3200 1114.5,3208 1115,3211 1115.5,3212 1116,3204 1116.5,3210 1117,3207 1117.5,3200 1118,3198 1118.5,3203 1119,3211 1119.5,3196 1120,3209 1120.5,3193 1121,3198 1121.5,3210 1122,3213 1122.5,3212 1123,3210 1123.5,3200 1124,3216 1124.5,3208 1125,3214 1125.5,3215 1126,3200 1126.5,3215 1127,3197 1127.5,3208 1128,3200 1128.5,3197 1129,3206 1129.5,3199 1130,3210 1130.5,3203 1131,3182 1131.5,3194 1132,3207 1132.5,3205 1133,3208 1133.5,3199 1134,3210 1134.5,3191 1135,3210 1135.5,3206 1136,3191 1136.5,3211 1137,3190 1137.5,3205 1138,3193 1138.5,3203 1139,3206 1139.5,3189 1140,3193 1140.5,3206 1141,3196 1141.5,3188 1142,3186 1142.5,3186 1143,3185 1143.5,3191 1144,3200 1144.5,3192 1145,3183 1145.5,3189 1146,3192 1146.5,3190 1147,3195 1147.5,3195 1148,3197 1148.5,3191 1149,3177 1149.5,3197 1150,3197 1150.5,3195 1151,3186 1151.5,3200 1152,3175 1152.5,3195 1153,3190 1153.5,3193 1154,3172 1154.5,3203 1155,3170 1155.5,3175 1156,3188 1156.5,3190 1157,3176 1157.5,3181 1158,3205 1158.5,3184 1159,3190 1159.5,3179 1160,3196 1160.5,3201 1161,3204 1161.5,3188 1162,3193 1162.5,3203 1163,3213 1163.5,3207 1164,3192 1164.5,3189 1165,3197 1165.5,3203 1166,3197 1166.5,3210 1167,3198 1167.5,3195 1168,3207 1168.5,3210 1169,3198 1169.5,3201 1170,3199 1170.5,3194 1171,3208 1171.5,3195 1172,3206 1172.5,3219 1173,3204 1173.5,3193 1174,3193 1174.5,3202 1175,3201 1175.5,3190 1176,3189 1176.5,3204 1177,3193 1177.5,3200 1178,3187 1178.5,3187 1179,3213 1179.5,3181 1180,3183 1180.5,3183 1181,3184 1181.5,3171 1182,3175 1182.5,3160 1183,3167 1183.5,3147 1184,3147 1184.5,3140 1185,3137 1185.5,3149 1186,3138 1186.5,3143 1187,3145 1187.5,3123 1188,3137 1188.5,3143 1189,3129 1189.5,3126 1190,3140 1190.5,3146 1191,3155 1191.5,3157 1192,3155 1192.5,3156 1193,3164 1193.5,3172 1194,3171 1194.5,3177 1195,3193 1195.5,3187 1196,3184 1196.5,3196 1197,3191 1197.5,3196 1198,3195 1198.5,3190 1199,3203 1199.5,3201 1200,3210 1200.5,3191 1201,3203 1201.5,3200 1202,3200 1202.5,3207 1203,3196 1203.5,3200 1204,3194 1204.5,3205 1205,3202 1205.5,3192 1206,3196 1206.5,3201 1207,3205 1207.5,3193 1208,3207 1208.5,3213 1209,3199 1209.5,3192 1210,3194 1210.5,3212 1211,3205 1211.5,3193 1212,3194 1212.5,3214 1213,3209 1213.5,3210 1214,3193 1214.5,3227 1215,3196 1215.5,3199 1216,3196 1216.5,3217 1217,3207 1217.5,3205 1218,3201 1218.5,3210 1219,3202 1219.5,3202 1220,3192 1220.5,3213 1221,3190 1221.5,3215 1222,3215 1222.5,3203 1223,3192 1223.5,3194 1224,3191 1224.5,3208 1225,3198 1225.5,3217 1226,3197 1226.5,3197 1227,3207 1227.5,3213 1228,3202 1228.5,3190 1229,3192 1229.5,3208 1230,3210 1230.5,3216 1231,3218 1231.5,3210 1232,3207 1232.5,3203 1233,3211 1233.5,3192 1234,3191 1234.5,3196 1235,3198 1235.5,3214 1236,3211 1236.5,3208 1237,3212 1237.5,3198 1238,3214 1238.5,3212 1239,3193 1239.5,3198 1240,3196 1240.5,3193 1241,3212 1241.5,3198 1242,3210 1242.5,3203 1243,3191 1243.5,3200 1244,3207 1244.5,3197 1245,3197 1245.5,3193 1246,3200 1246.5,3209 1247,3192 1247.5,3208 1248,3203 1248.5,3197 1249,3208 1249.5,3208 1250,3209 1250.5,3200 1251,3199 1251.5,3204 1252,3208 1252.5,3198 1253,3198 1253.5,3199 1254,3192 1254.5,3208 1255,3200 1255.5,3200 1256,3204 1256.5,3208 1257,3206 1257.5,3197 1258,3196 1258.5,3196 1259,3202 1259.5,3209 1260,3187 1260.5,3204 1261,3211 1261.5,3202 1262,3197 1262.5,3200 1263,3201 1263.5,3204 1264,3187 1264.5,3209 1265,3202 1265.5,3193 1266,3213 1266.5,3197 1267,3209 1267.5,3194 1268,3202 1268.5,3191 1269,3194 1269.5,3195 1270,3190 1270.5,3207 1271,3199 1271.5,3196 1272,3202 1272.5,3193 1273,3199 1273.5,3202 1274,3203 1274.5,3198 1275,3206 1275.5,3209 1276,3211 1276.5,3202 1277,3210 1277.5,3210 1278,3204 1278.5,3193 1279,3203 1279.5,3201 1280,3204 1280.5,3196 1281,3210 1281.5,3198 1282,3209 1282.5,3196 1283,3200 1283.5,3203 1284,3196 1284.5,3199 1285,3203 1285.5,3204 1286,3207 1286.5,3201 1287,3207 1287.5,3197 1288,3202 1288.5,3204 1289,3194 1289.5,3204 1290,3204 1290.5,3201 1291,3206 1291.5,3203 1292,3198 1292.5,3204 1293,3200 1293.5,3202 1294,3207 1294.5,3203 1295,3222 1295.5,3205 1296,3193 1296.5,3190 1297,3191 1297.5,3198 1298,3208 1298.5,3198 1299,3208 1299.5,3194 1300,3191 1300.5,3196 1301,3206 1301.5,3209 1302,3199 1302.5,3195 1303,3205 1303.5,3196 1304,3193 1304.5,3204 1305,3188 1305.5,3204 1306,3209 1306.5,3189 1307,3204 1307.5,3187 1308,3189 1308.5,3193 1309,3209 1309.5,3187 1310,3197 1310.5,3196 1311,3190 1311.5,3208 1312,3192 1312.5,3206 1313,3198 1313.5,3202 1314,3202 1314.5,3201 1315,3203 1315.5,3205 1316,3190 1316.5,3189 1317,3196 1317.5,3189 1318,3198 1318.5,3205 1319,3197 1319.5,3191 1320,3190 1320.5,3197 1321,3201 1321.5,3202 1322,3201 1322.5,3196 1323,3202 1323.5,3197 1324,3199 1324.5,3188 1325,3196 1325.5,3189 1326,3191 1326.5,3192 1327,3197 1327.5,3188 1328,3200 1328.5,3193 1329,3190 1329.5,3205 1330,3199 1330.5,3192 1331,3187 1331.5,3195 1332,3201 1332.5,3195 1333,3191 1333.5,3186 1334,3188 1334.5,3202 1335,3187 1335.5,3207 1336,3200 1336.5,3192 1337,3187 1337.5,3194 1338,3206 1338.5,3185 1339,3188 1339.5,3184 1340,3200 1340.5,3206 1341,3196 1341.5,3189 1342,3207 1342.5,3213 1343,3206 1343.5,3191 1344,3185 1344.5,3183 1345,3188 1345.5,3192 1346,3200 1346.5,3193 1347,3188 1347.5,3203 1348,3195 1348.5,3196 1349,3200 1349.5,3197 1350,3187 1350.5,3203 1351,3185 1351.5,3185 1352,3196 1352.5,3194 1353,3187 1353.5,3197 1354,3184 1354.5,3192 1355,3202 1355.5,3201 1356,3195 1356.5,3199 1357,3196 1357.5,3187 1358,3200 1358.5,3195 1359,3210 1359.5,3202 1360,3194 1360.5,3189 1361,3191 1361.5,3194 1362,3201 1362.5,3200 1363,3191 1363.5,3193 1364,3184 1364.5,3196 1365,3200 1365.5,3188 1366,3197 1366.5,3171 1367,3201 1367.5,3199 1368,3203 1368.5,3191 1369,3189 1369.5,3196 1370,3187 1370.5,3201 1371,3190 1371.5,3188 1372,3189 1372.5,3199 1373,3187 1373.5,3194 1374,3189 1374.5,3202 1375,3187 1375.5,3190 1376,3202 1376.5,3197 1377,3188 1377.5,3207 1378,3194 1378.5,3195 1379,3202 1379.5,3176 1380,3204 1380.5,3197 1381,3191 1381.5,3197 1382,3205 1382.5,3191 1383,3200 1383.5,3198 1384,3201 1384.5,3193 1385,3190 1385.5,3200 1386,3204 1386.5,3196 1387,3188 1387.5,3203 1388,3216 1388.5,3200 1389,3187 1389.5,3202 1390,3193 1390.5,3205 1391,3190 1391.5,3185 1392,3192 1392.5,3201 1393,3201 1393.5,3204 1394,3189 1394.5,3198 1395,3186 1395.5,3189 1396,3185 1396.5,3213 1397,3203 1397.5,3196 1398,3195 1398.5,3201 1399,3188 1399.5,3192 1400,3197 1400.5,3166 1401,3192 1401.5,3177 1402,3183 1402.5,3178 1403,3182 1403.5,3176 1404,3172 1404.5,3180 1405,3177 1405.5,3184 1406,3166 1406.5,3180 1407,3164 1407.5,3173 1408,3160 1408.5,3182 1409,3169 1409.5,3167 1410,3154 1410.5,3171 1411,3154 1411.5,3158 1412,3162 1412.5,3161 1413,3147 1413.5,3136 1414,3158 1414.5,3136 1415,3127 1415.5,3139 1416,3143 1416.5,3120 1417,3116 1417.5,3129 1418,3123 1418.5,3112 1419,3109 1419.5,3118 1420,3097 1420.5,3098 1421,3097 1421.5,3103 1422,3089 1422.5,3080 1423,3094 1423.5,3091 1424,3075 1424.5,3088 1425,3084 1425.5,3076 1426,3081 1426.5,3080 1427,3089 1427.5,3095 1428,3082 1428.5,3078 1429,3088 1429.5,3098 1430,3092 1430.5,3094 1431,3099 1431.5,3121 1432,3122 1432.5,3111 1433,3120 1433.5,3123 1434,3123 1434.5,3145 1435,3135 1435.5,3146 1436,3145 1436.5,3141 1437,3143 1437.5,3162 1438,3163 1438.5,3163 1439,3158 1439.5,3164 1440,3170 1440.5,3166 1441,3175 1441.5,3183 1442,3171 1442.5,3188 1443,3181 1443.5,3191 1444,3192 1444.5,3176 1445,3189 1445.5,3181 1446,3189 1446.5,3195 1447,3188 1447.5,3192 1448,3193 1448.5,3185 1449,3190 1449.5,3188 1450,3192 1450.5,3198 1451,3187 1451.5,3195 1452,3194 1452.5,3192 1453,3201 1453.5,3192 1454,3200 1454.5,3188 1455,3194 1455.5,3189 1456,3202 1456.5,3199 1457,3192 1457.5,3194 1458,3191 1458.5,3203 1459,3203 1459.5,3204 1460,3199 1460.5,3177 1461,3197 1461.5,3201 1462,3197 1462.5,3191 1463,3199 1463.5,3191 1464,3194 1464.5,3205 1465,3201 1465.5,3205 1466,3203 1466.5,3202 1467,3193 1467.5,3204 1468,3190 1468.5,3188 1469,3195 1469.5,3191 1470,3205 1470.5,3194 1471,3187 1471.5,3207 1472,3211 1472.5,3205 1473,3212 1473.5,3208 1474,3211 1474.5,3205 1475,3208 1475.5,3208 1476,3191 1476.5,3196 1477,3204 1477.5,3197 1478,3210 1478.5,3190 1479,3192 1479.5,3197 1480,3198 1480.5,3210 1481,3190 1481.5,3221 1482,3214 1482.5,3191 1483,3214 1483.5,3206 1484,3183 1484.5,3211 1485,3193 1485.5,3200 1486,3196 1486.5,3200 1487,3194 1487.5,3200 1488,3205 1488.5,3202 1489,3204 1489.5,3214 1490,3213 1490.5,3193 1491,3209 1491.5,3211 1492,3214 1492.5,3200 1493,3214 1493.5,3205 1494,3202 1494.5,3203 1495,3201 1495.5,3208 1496,3204 1496.5,3212 1497,3202 1497.5,3192 1498,3195 1498.5,3200 1499,3202 1499.5,3209 1500,3204 1500.5,3195 1501,3198 1501.5,3202 1502,3208 1502.5,3206 1503,3204 1503.5,3196 1504,3202 1504.5,3195 1505,3191 1505.5,3206 1506,3204 1506.5,3211 1507,3205 1507.5,3194 1508,3189 1508.5,3198 1509,3195 1509.5,3199 1510,3196 1510.5,3188 1511,3188 1511.5,3195 1512,3200 1512.5,3190 1513,3190 1513.5,3191 1514,3203 1514.5,3203 1515,3197 1515.5,3187 1516,3206 1516.5,3204 1517,3192 1517.5,3185 1518,3196 1518.5,3188 1519,3193 1519.5,3193 1520,3191 1520.5,3204 1521,3192 1521.5,3186 1522,3196 1522.5,3203 1523,3188 1523.5,3194 1524,3191 1524.5,3197 1525,3178 1525.5,3187 1526,3204 1526.5,3201 1527,3198 1527.5,3196 1528,3203 1528.5,3181 1529,3191 1529.5,3195 1530,3183 1530.5,3210 1531,3197 1531.5,3199 1532,3204 1532.5,3194 1533,3202 1533.5,3189 1534,3202 1534.5,3192 1535,3199 1535.5,3187 1536,3192 1536.5,3214 1537,3193 1537.5,3202 1538,3192 1538.5,3200 1539,3185 1539.5,3187 1540,3186 1540.5,3187 1541,3195 1541.5,3186 1542,3196 1542.5,3200 1543,3200 1543.5,3186 1544,3189 1544.5,3193 1545,3186 1545.5,3197 1546,3193 1546.5,3193 1547,3189 1547.5,3187 1548,3201 1548.5,3196 1549,3192 1549.5,3201 1550,3188 1550.5,3193 1551,3187 1551.5,3201 1552,3203 1552.5,3191 1553,3202 1553.5,3204 1554,3190 1554.5,3205 1555,3193 1555.5,3200 1556,3197 1556.5,3193 1557,3198 1557.5,3186 1558,3197 1558.5,3197 1559,3200 1559.5,3202 1560,3205 1560.5,3203 1561,3205 1561.5,3195 1562,3190 1562.5,3201 1563,3189 1563.5,3207 1564,3198 1564.5,3194 1565,3189 1565.5,3205 1566,3205 1566.5,3192 1567,3205 1567.5,3191 1568,3203 1568.5,3200 1569,3203 1569.5,3192 1570,3207 1570.5,3207 1571,3208 1571.5,3198 1572,3195 1572.5,3202 1573,3206 1573.5,3208 1574,3200 1574.5,3204 1575,3206 1575.5,3204 1576,3208 1576.5,3197 1577,3195 1577.5,3197 1578,3210 1578.5,3215 1579,3198 1579.5,3207 1580,3205 1580.5,3213 1581,3191 1581.5,3207 1582,3213 1582.5,3215 1583,3202 1583.5,3189 1584,3212 1584.5,3214 1585,3198 1585.5,3213 1586,3196 1586.5,3194 1587,3194 1587.5,3195 1588,3195 1588.5,3198 1589,3200 1589.5,3216 1590,3212 1590.5,3195 1591,3197 1591.5,3210 1592,3207 1592.5,3203 1593,3203 1593.5,3212 1594,3205 1594.5,3211 1595,3191 1595.5,3193 1596,3196 1596.5,3208 1597,3207 1597.5,3216 1598,3216 1598.5,3214 1599,3200 1599.5,3192 1600,3216 1600.5,3218 1601,3191 1601.5,3191 1602,3196 1602.5,3185 1603,3211 1603.5,3204 1604,3210 1604.5,3214 1605,3189 1605.5,3200 1606,3217 1606.5,3206 1607,3205 1607.5,3206 1608,3206 1608.5,3211 1609,3214 1609.5,3208 1610,3208 1610.5,3207 1611,3198 1611.5,3212 1612,3197 1612.5,3199 1613,3201 1613.5,3205 1614,3213 1614.5,3201 1615,3207 1615.5,3203 1616,3203 1616.5,3217 1617,3208 1617.5,3191 1618,3214 1618.5,3204 1619,3217 1619.5,3193 1620,3217 1620.5,3208 1621,3207 1621.5,3203 1622,3216 1622.5,3212 1623,3204 1623.5,3200 1624,3200 1624.5,3202 1625,3194 1625.5,3196 1626,3207 1626.5,3210 1627,3213 1627.5,3193 1628,3197 1628.5,3194 1629,3205 1629.5,3197 1630,3197 1630.5,3191 1631,3208 1631.5,3212 1632,3192 1632.5,3201 1633,3208 1633.5,3210 1634,3197 1634.5,3190 1635,3207 1635.5,3206 1636,3198 1636.5,3212 1637,3205 1637.5,3202 1638,3202 1638.5,3191 1639,3211 1639.5,3211 1640,3193 1640.5,3206 1641,3202 1641.5,3198 1642,3202 1642.5,3192 1643,3197 1643.5,3196 1644,3204 1644.5,3200 1645,3189 1645.5,3195 1646,3197 1646.5,3197 1647,3206 1647.5,3207 1648,3210 1648.5,3209 1649,3199 1649.5,3201 1650,3202 1650.5,3199 1651,3189 1651.5,3191 1652,3205 1652.5,3204 1653,3195 1653.5,3192 1654,3200 1654.5,3206 1655,3188 1655.5,3201 1656,3191 1656.5,3192 1657,3195 1657.5,3189 1658,3201 1658.5,3187 1659,3195 1659.5,3198 1660,3200 1660.5,3195 1661,3186 1661.5,3198 1662,3200 1662.5,3183 1663,3198 1663.5,3193 1664,3192 1664.5,3188 1665,3184 1665.5,3190 1666,3194 1666.5,3180 1667,3188 1667.5,3188 1668,3193 1668.5,3176 1669,3182 1669.5,3176 1670,3179 1670.5,3190 1671,3174 1671.5,3177 1672,3186 1672.5,3184 1673,3187 1673.5,3167 1674,3164 1674.5,3167 1675,3173 1675.5,3176 1676,3160 1676.5,3173 1677,3160 1677.5,3180 1678,3168 1678.5,3154 1679,3174 1679.5,3162 1680,3170 1680.5,3162 1681,3171 1681.5,3151 1682,3171 1682.5,3140 1683,3150 1683.5,3142 1684,3167 1684.5,3136 1685,3143 1685.5,3145 1686,3135 1686.5,3158 1687,3153 1687.5,3145 1688,3141 1688.5,3135 1689,3134 1689.5,3140 1690,3144 1690.5,3150 1691,3134 1691.5,3149 1692,3144 1692.5,3131 1693,3128 1693.5,3128 1694,3150 1694.5,3133 1695,3129 1695.5,3144 1696,3135 1696.5,3151 1697,3145 1697.5,3151 1698,3146 1698.5,3149 1699,3143 1699.5,3143 1700,3153 1700.5,3139 1701,3138 1701.5,3160 1702,3149 1702.5,3155 1703,3153 1703.5,3163 1704,3166 1704.5,3153 1705,3169 1705.5,3159 1706,3167 1706.5,3166 1707,3177 1707.5,3168 1708,3180 1708.5,3185 1709,3176 1709.5,3184 1710,3188 1710.5,3170 1711,3178 1711.5,3192 1712,3189 1712.5,3192 1713,3186 1713.5,3181 1714,3193 1714.5,3182 1715,3189 1715.5,3180 1716,3186 1716.5,3188 1717,3180 1717.5,3181 1718,3201 1718.5,3203 1719,3185 1719.5,3190 1720,3197 1720.5,3187 1721,3186 1721.5,3203 1722,3191 1722.5,3217 1723,3197 1723.5,3198 1724,3198 1724.5,3198 1725,3194 1725.5,3201 1726,3198 1726.5,3205 1727,3195 1727.5,3194 1728,3206 1728.5,3223 1729,3195 1729.5,3205 1730,3197 1730.5,3204 1731,3203 1731.5,3197 1732,3203 1732.5,3201 1733,3193 1733.5,3209 1734,3197 1734.5,3199 1735,3207 1735.5,3204 1736,3196 1736.5,3203 1737,3193 1737.5,3205 1738,3203 1738.5,3204 1739,3202 1739.5,3199 1740,3204 1740.5,3200 1741,3205 1741.5,3193 1742,3197 1742.5,3195 1743,3201 1743.5,3203 1744,3195 1744.5,3209 1745,3198 1745.5,3182 1746,3204 1746.5,3192 1747,3190 1747.5,3195 1748,3199 1748.5,3194 1749,3195 1749.5,3190 1750,3195 1750.5,3204 1751,3193 1751.5,3199 1752,3190 1752.5,3187 1753,3191 1753.5,3184 1754,3194 1754.5,3199 1755,3192 1755.5,3187 1756,3189 1756.5,3201 1757,3186 1757.5,3188 1758,3196 1758.5,3185 1759,3201 1759.5,3182 1760,3178 1760.5,3188 1761,3190 1761.5,3190 1762,3184 1762.5,3195 1763,3196 1763.5,3187 1764,3194 1764.5,3194 1765,3180 1765.5,3179 1766,3179 1766.5,3178 1767,3192 1767.5,3184 1768,3180 1768.5,3187 1769,3183 1769.5,3178 1770,3185 1770.5,3193 1771,3191 1771.5,3196 1772,3187 1772.5,3196 1773,3185 1773.5,3188 1774,3193 1774.5,3188 1775,3182 1775.5,3193 1776,3198 1776.5,3186 1777,3188 1777.5,3186 1778,3195 1778.5,3191 1779,3169 1779.5,3201 1780,3180 1780.5,3200 1781,3201 1781.5,3182 1782,3180 1782.5,3197 1783,3196 1783.5,3185 1784,3192 1784.5,3183 1785,3192 1785.5,3195 1786,3205 1786.5,3191 1787,3185 1787.5,3207 1788,3199 1788.5,3185 1789,3183 1789.5,3192 1790,3188 1790.5,3192 1791,3189 1791.5,3207 1792,3204 1792.5,3200 1793,3185 1793.5,3203 1794,3194 1794.5,3205 1795,3185 1795.5,3188 1796,3187 1796.5,3204 1797,3208 1797.5,3203 1798,3192 1798.5,3186 1799,3208 1799.5,3189 1800,3205 1800.5,3196 1801,3193 1801.5,3195 1802,3186 1802.5,3187 1803,3207 1803.5,3196 1804,3202 1804.5,3193 1805,3197 1805.5,3206 1806,3202 1806.5,3195 1807,3197 1807.5,3212 1808,3185 1808.5,3195 1809,3188 1809.5,3187 1810,3186 1810.5,3205 1811,3197 1811.5,3199 1812,3193 1812.5,3196 1813,3197 1813.5,3206 1814,3189 1814.5,3191 1815,3191 1815.5,3197 1816,3198 1816.5,3202 1817,3209 1817.5,3207 1818,3192 1818.5,3196 1819,3199 1819.5,3204 1820,3198 1820.5,3190 1821,3188 1821.5,3194 1822,3200 1822.5,3190 1823,3196 1823.5,3195 1824,3208 1824.5,3202 1825,3208 1825.5,3198 1826,3197 1826.5,3208 1827,3195 1827.5,3198 1828,3186 1828.5,3189 1829,3192 1829.5,3191 1830,3195 1830.5,3206 1831,3189 1831.5,3185 1832,3198 1832.5,3193 1833,3185 1833.5,3203 1834,3208 1834.5,3203 1835,3204 1835.5,3203 1836,3209 1836.5,3188 1837,3206 1837.5,3202 1838,3208 1838.5,3205 1839,3198 1839.5,3201 1840,3191 1840.5,3193 1841,3189 1841.5,3195 1842,3204 1842.5,3193 1843,3205 1843.5,3190 1844,3200 1844.5,3191 1845,3200 1845.5,3203 1846,3205 1846.5,3203 1847,3190 1847.5,3201 1848,3193 1848.5,3198 1849,3190 1849.5,3196 1850,3201 1850.5,3190 1851,3200 1851.5,3206 1852,3198 1852.5,3195 1853,3192 1853.5,3197 1854,3196 1854.5,3202 1855,3203 1855.5,3202 1856,3204 1856.5,3204 1857,3203 1857.5,3194 1858,3200 1858.5,3197 1859,3191 1859.5,3202 1860,3192 1860.5,3203 1861,3200 1861.5,3190 1862,3198 1862.5,3201 1863,3194 1863.5,3210 1864,3210 1864.5,3190 1865,3205 1865.5,3198 1866,3222 1866.5,3211 1867,3200 1867.5,3203 1868,3196 1868.5,3204 1869,3212 1869.5,3196 1870,3188 1870.5,3212 1871,3188 1871.5,3205 1872,3202 1872.5,3197 1873,3211 1873.5,3190 1874,3193 1874.5,3208 1875,3187 1875.5,3194 1876,3191 1876.5,3198 1877,3206 1877.5,3211 1878,3193 1878.5,3187 1879,3206 1879.5,3210 1880,3186 1880.5,3202 1881,3202 1881.5,3201 1882,3203 1882.5,3193 1883,3210 1883.5,3191 1884,3211 1884.5,3211 1885,3207 1885.5,3196 1886,3210 1886.5,3192 1887,3198 1887.5,3199 1888,3190 1888.5,3210 1889,3182 1889.5,3198 1890,3190 1890.5,3194 1891,3205 1891.5,3202 1892,3196 1892.5,3202 1893,3192 1893.5,3202 1894,3207 1894.5,3189 1895,3195 1895.5,3194 1896,3190 1896.5,3208 1897,3203 1897.5,3201 1898,3201 1898.5,3203 1899,3194 1899.5,3192 1900,3190 1900.5,3191 1901,3192 1901.5,3206 1902,3195 1902.5,3197 1903,3205 1903.5,3210 1904,3190 1904.5,3201 1905,3197 1905.5,3192 1906,3196 1906.5,3206 1907,3194 1907.5,3201 1908,3198 1908.5,3189 1909,3207 1909.5,3207 1910,3206 1910.5,3198 1911,3198 1911.5,3203 1912,3208 1912.5,3199 1913,3196 1913.5,3199 1914,3201 1914.5,3202 1915,3207 1915.5,3201 1916,3205 1916.5,3199 1917,3198 1917.5,3207 1918,3195 1918.5,3196 1919,3200 1919.5,3192 1920,3192 1920.5,3200 1921,3202 1921.5,3210 1922,3191 1922.5,3189 1923,3203 1923.5,3208 1924,3189 1924.5,3194 1925,3203 1925.5,3202 1926,3208 1926.5,3203 1927,3210 1927.5,3193 1928,3205 1928.5,3201 1929,3196 1929.5,3204 1930,3207 1930.5,3200 1931,3204 1931.5,3196 1932,3207 1932.5,3195 1933,3201 1933.5,3200 1934,3198 1934.5,3208 1935,3203 1935.5,3200 1936,3203 1936.5,3203 1937,3194 1937.5,3194 1938,3200 1938.5,3190 1939,3205" stroke="#000080" stroke-width="6"/>
<path d="M162,2721 162.5,2726 163,2721 163.5,2720 164,2722 164.5,2721 165,2724 165.5,2720 166,2726 166.5,2726 167,2719 167.5,2723 168,2720 168.5,2721 169,2722 169.5,2723 170,2723 170.5,2727 171,2721 171.5,2720 172,2725 172.5,2727 173,2727 173.5,2727 174,2719 174.5,2727 175,2724 175.5,2727 176,2722 176.5,2720 177,2726 177.5,2724 178,2726 178.5,2720 179,2720 179.5,2730 180,2719 180.5,2727 181,2720 181.5,2724 182,2722 182.5,2721 183,2720 183.5,2725 184,2726 184.5,2725 185,2724 185.5,2725 186,2723 186.5,2723 187,2726 187.5,2721 188,2721 188.5,2726 189,2726 189.5,2723 190,2725 190.5,2725 191,2726 191.5,2720 192,2726 192.5,2723 193,2723 193.5,2724 194,2724 194.5,2722 195,2721 195.5,2726 196,2725 196.5,2720 197,2715 197.5,2725 198,2726 198.5,2726 199,2721 199.5,2726 200,2724 200.5,2719 201,2720 201.5,2720 202,2719 202.5,2724 203,2721 203.5,2724 204,2718 204.5,2726 205,2724 205.5,2725 206,2723 206.5,2722 207,2719 207.5,2726 208,2718 208.5,2722 209,2718 209.5,2718 210,2724 210.5,2726 211,2721 211.5,2725 212,2725 212.5,2722 213,2724 213.5,2720 214,2718 214.5,2719 215,2717 215.5,2717 216,2724 216.5,2726 217,2717 217.5,2724 218,2725 218.5,2724 219,2721 219.5,2721 220,2724 220.5,2719 221,2724 221.5,2718 222,2716 222.5,2726 223,2717 223.5,2718 224,2716 224.5,2716 225,2717 225.5,2725 226,2723 226.5,2720 227,2715 227.5,2724 228,2720 228.5,2724 229,2720 229.5,2716 230,2716 230.5,2723 231,2718 231.5,2717 232,2719 232.5,2718 233,2718 233.5,2723 234,2720 234.5,2724 235,2716 235.5,2718 236,2723 236.5,2719 237,2722 237.5,2719 238,2719 238.5,2723 239,2718 239.5,2720 240,2720 240.5,2715 241,2716 241.5,2717 242,2712 242.5,2721 243,2720 243.5,2718 244,2719 244.5,2716 245,2719 245.5,2723 246,2716 246.5,2721 247,2722 247.5,2718 248,2718 248.5,2718 249,2721 249.5,2719 250,2718 250.5,2719 251,2719 251.5,2724 252,2721 252.5,2720 253,2720 253.5,2721 254,2724 254.5,2720 255,2718 255.5,2719 256,2718 256.5,2719 257,2722 257.5,2720 258,2723 258.5,2724 259,2719 259.5,2724 260,2723 260.5,2725 261,2719 261.5,2724 262,2721 262.5,2720 263,2715 263.5,2725 264,2722 264.5,2722 265,2725 265.5,2725 266,2726 266.5,2718 267,2727 267.5,2724 268,2726 268.5,2726 269,2727 269.5,2727 270,2724 270.5,2719 271,2725 271.5,2719 272,2722 272.5,2721 273,2721 273.5,2726 274,2727 274.5,2728 275,2725 275.5,2726 276,2720 276.5,2722 277,2727 277.5,2723 278,2724 278.5,2727 279,2721 279.5,2728 280,2726 280.5,2719 281,2723 281.5,2728 282,2721 282.5,2718 283,2720 283.5,2724 284,2719 284.5,2719 285,2720 285.5,2727 286,2729 286.5,2720 287,2724 287.5,2725 288,2719 288.5,2727 289,2726 289.5,2725 290,2723 290.5,2726 291,2726 291.5,2721 292,2720 292.5,2728 293,2723 293.5,2722 294,2727 294.5,2725 295,2725 295.5,2725 296,2726 296.5,2724 297,2727 297.5,2725 298,2725 298.5,2725 299,2720 299.5,2726 300,2725 300.5,2720 301,2724 301.5,2724 302,2723 302.5,2722 303,2723 303.5,2721 304,2722 304.5,2724 305,2724 305.5,2731 306,2725 306.5,2725 307,2726 307.5,2724 308,2721 308.5,2720 309,2724 309.5,2723 310,2719 310.5,2720 311,2727 311.5,2725 312,2726 312.5,2722 313,2723 313.5,2724 314,2722 314.5,2719 315,2723 315.5,2725 316,2722 316.5,2727 317,2727 317.5,2719 318,2722 318.5,2724 319,2722 319.5,2727 320,2721 320.5,2726 321,2721 321.5,2726 322,2719 322.5,2726 323,2726 323.5,2723 324,2721 324.5,2721 325,2719 325.5,2720 326,2722 326.5,2722 327,2722 327.5,2725 328,2719 328.5,2724 329,2730 329.5,2720 330,2718 330.5,2724 331,2724 331.5,2721 332,2725 332.5,2719 333,2723 333.5,2723 334,2720 334.5,2724 335,2718 335.5,2720 336,2721 336.5,2725 337,2723 337.5,2718 338,2722 338.5,2718 339,2720 339.5,2724 340,2719 340.5,2718 341,2724 341.5,2719 342,2721 342.5,2719 343,2724 343.5,2722 344,2723 344.5,2718 345,2720 345.5,2723 346,2720 346.5,2719 347,2723 347.5,2720 348,2721 348.5,2719 349,2719 349.5,2721 350,2722 350.5,2722 351,2723 351.5,2721 352,2722 352.5,2720 353,2723 353.5,2720 354,2718 354.5,2719 355,2718 355.5,2722 356,2718 356.5,2720 357,2719 357.5,2723 358,2719 358.5,2719 359,2719 359.5,2718 360,2722 360.5,2721 361,2723 361.5,2718 362,2724 362.5,2721 363,2725 363.5,2725 364,2717 364.5,2722 365,2719 365.5,2723 366,2718 366.5,2722 367,2724 367.5,2722 368,2720 368.5,2724 369,2726 369.5,2720 370,2718 370.5,2721 371,2721 371.5,2721 372,2727 372.5,2720 373,2719 373.5,2718 374,2714 374.5,2721 375,2723 375.5,2724 376,2721 376.5,2720 377,2726 377.5,2720 378,2721 378.5,2719 379,2724 379.5,2721 380,2725 380.5,2722 381,2725 381.5,2721 382,2725 382.5,2719 383,2714 383.5,2721 384,2721 384.5,2720 385,2720 385.5,2726 386,2718 386.5,2722 387,2726 387.5,2722 388,2721 388.5,2722 389,2718 389.5,2719 390,2724 390.5,2723 391,2719 391.5,2721 392,2727 392.5,2718 393,2725 393.5,2726 394,2722 394.5,2718 395,2721 395.5,2725 396,2723 396.5,2726 397,2722 397.5,2716 398,2716 398.5,2725 399,2722 399.5,2727 400,2726 400.5,2724 401,2723 401.5,2725 402,2718 402.5,2720 403,2724 403.5,2722 404,2718 404.5,2720 405,2714 405.5,2726 406,2718 406.5,2724 407,2718 407.5,2718 408,2717 408.5,2721 409,2726 409.5,2727 410,2723 410.5,2727 411,2725 411.5,2728 412,2720 412.5,2721 413,2721 413.5,2727 414,2728 414.5,2726 415,2728 415.5,2718 416,2720 416.5,2720 417,2722 417.5,2722 418,2723 418.5,2720 419,2724 419.5,2726 420,2728 420.5,2715 421,2730 421.5,2721 422,2723 422.5,2729 423,2720 423.5,2723 424,2722 424.5,2719 425,2718 425.5,2720 426,2724 426.5,2718 427,2720 427.5,2730 428,2723 428.5,2720 429,2730 429.5,2726 430,2721 430.5,2728 431,2717 431.5,2720 432,2729 432.5,2723 433,2717 433.5,2717 434,2729 434.5,2721 435,2728 435.5,2719 436,2723 436.5,2718 437,2727 437.5,2726 438,2729 438.5,2722 439,2725 439.5,2716 440,2723 440.5,2725 441,2725 441.5,2718 442,2714 442.5,2723 443,2724 443.5,2721 444,2716 444.5,2719 445,2717 445.5,2725 446,2723 446.5,2722 447,2723 447.5,2726 448,2726 448.5,2714 449,2715 449.5,2726 450,2718 450.5,2722 451,2718 451.5,2723 452,2722 452.5,2717 453,2722 453.5,2715 454,2715 454.5,2720 455,2724 455.5,2724 456,2715 456.5,2718 457,2716 457.5,2724 458,2719 458.5,2718 459,2719 459.5,2719 460,2720 460.5,2715 461,2715 461.5,2717 462,2716 462.5,2728 463,2716 463.5,2725 464,2718 464.5,2726 465,2716 465.5,2721 466,2723 466.5,2715 467,2721 467.5,2721 468,2724 468.5,2719 469,2721 469.5,2716 470,2723 470.5,2726 471,2724 471.5,2724 472,2724 472.5,2718 473,2726 473.5,2717 474,2721 474.5,2725 475,2724 475.5,2719 476,2719 476.5,2722 477,2720 477.5,2718 478,2719 478.5,2724 479,2721 479.5,2722 480,2717 480.5,2716 481,2727 481.5,2726 482,2722 482.5,2724 483,2724 483.5,2721 484,2717 484.5,2716 485,2725 485.5,2726 486,2716 486.5,2726 487,2715 487.5,2727 488,2722 488.5,2722 489,2729 489.5,2725 490,2722 490.5,2726 491,2721 491.5,2719 492,2726 492.5,2726 493,2723 493.5,2719 494,2728 494.5,2726 495,2718 495.5,2724 496,2732 496.5,2717 497,2724 497.5,2717 498,2724 498.5,2724 499,2726 499.5,2720 500,2723 500.5,2724 501,2717 501.5,2719 502,2723 502.5,2725 503,2721 503.5,2726 504,2726 504.5,2721 505,2720 505.5,2723 506,2723 506.5,2725 507,2719 507.5,2725 508,2721 508.5,2719 509,2720 509.5,2718 510,2709 510.5,2723 511,2719 511.5,2725 512,2722 512.5,2719 513,2719 513.5,2721 514,2721 514.5,2718 515,2714 515.5,2721 516,2717 516.5,2723 517,2724 517.5,2717 518,2717 518.5,2725 519,2723 519.5,2722 520,2707 520.5,2724 521,2720 521.5,2718 522,2715 522.5,2720 523,2721 523.5,2717 524,2720 524.5,2719 525,2715 525.5,2719 526,2713 526.5,2729 527,2717 527.5,2719 528,2719 528.5,2729 529,2712 529.5,2713 530,2717 530.5,2719 531,2712 531.5,2718 532,2715 532.5,2717 533,2711 533.5,2714 534,2718 534.5,2711 535,2712 535.5,2713 536,2714 536.5,2709 537,2709 537.5,2715 538,2708 538.5,2710 539,2710 539.5,2710 540,2718 540.5,2709 541,2714 541.5,2708 542,2718 542.5,2715 543,2708 543.5,2713 544,2712 544.5,2705 545,2716 545.5,2708 546,2713 546.5,2706 547,2710 547.5,2709 548,2713 548.5,2708 549,2705 549.5,2707 550,2705 550.5,2715 551,2708 551.5,2713 552,2709 552.5,2713 553,2709 553.5,2706 554,2707 554.5,2708 555,2705 555.5,2710 556,2705 556.5,2708 557,2708 557.5,2711 558,2707 558.5,2710 559,2708 559.5,2708 560,2710 560.5,2707 561,2711 561.5,2710 562,2706 562.5,2709 563,2703 563.5,2703 564,2710 564.5,2703 565,2711 565.5,2701 566,2705 566.5,2700 567,2708 567.5,2707 568,2701 568.5,2699 569,2712 569.5,2707 570,2705 570.5,2707 571,2694 571.5,2696 572,2709 572.5,2700 573,2707 573.5,2710 574,2710 574.5,2711 575,2709 575.5,2697 576,2706 576.5,2705 577,2699 577.5,2706 578,2699 578.5,2694 579,2701 579.5,2693 580,2707 580.5,2692 581,2695 581.5,2696 582,2692 582.5,2696 583,2697 583.5,2690 584,2691 584.5,2697 585,2694 585.5,2702 586,2689 586.5,2703 587,2690 587.5,2689 588,2696 588.5,2702 589,2697 589.5,2690 590,2696 590.5,2695 591,2687 591.5,2695 592,2699 592.5,2698 593,2691 593.5,2690 594,2692 594.5,2694 595,2686 595.5,2687 596,2686 596.5,2695 597,2694 597.5,2703 598,2688 598.5,2689 599,2699 599.5,2688 600,2693 600.5,2685 601,2695 601.5,2684 602,2695 602.5,2687 603,2692 603.5,2693 604,2685 604.5,2685 605,2681 605.5,2687 606,2687 606.5,2689 607,2682 607.5,2684 608,2685 608.5,2690 609,2684 609.5,2691 610,2687 610.5,2690 611,2690 611.5,2682 612,2690 612.5,2684 613,2690 613.5,2685 614,2689 614.5,2685 615,2677 615.5,2683 616,2676 616.5,2688 617,2689 617.5,2676 618,2687 618.5,2672 619,2685 619.5,2684 620,2678 620.5,2686 621,2673 621.5,2688 622,2680 622.5,2687 623,2675 623.5,2685 624,2676 624.5,2685 625,2683 625.5,2685 626,2681 626.5,2672 627,2671 627.5,2681 628,2682 628.5,2683 629,2680 629.5,2685 630,2673 630.5,2673 631,2668 631.5,2683 632,2671 632.5,2680 633,2678 633.5,2680 634,2675 634.5,2667 635,2682 635.5,2684 636,2667 636.5,2683 637,2677 637.5,2680 638,2681 638.5,2679 639,2673 639.5,2677 640,2666 640.5,2671 641,2672 641.5,2666 642,2684 642.5,2677 643,2672 643.5,2670 644,2667 644.5,2679 645,2667 645.5,2667 646,2671 646.5,2679 647,2667 647.5,2667 648,2670 648.5,2663 649,2676 649.5,2670 650,2672 650.5,2677 651,2670 651.5,2670 652,2678 652.5,2677 653,2680 653.5,2678 654,2677 654.5,2669 655,2670 655.5,2672 656,2679 656.5,2673 657,2669 657.5,2682 658,2674 658.5,2669 659,2680 659.5,2679 660,2673 660.5,2670 661,2680 661.5,2669 662,2680 662.5,2677 663,2684 663.5,2674 664,2684 664.5,2688 665,2674 665.5,2680 666,2675 666.5,2675 667,2672 667.5,2679 668,2677 668.5,2676 669,2669 669.5,2686 670,2674 670.5,2688 671,2673 671.5,2669 672,2689 672.5,2683 673,2685 673.5,2678 674,2670 674.5,2695 675,2689 675.5,2680 676,2673 676.5,2678 677,2690 677.5,2673 678,2680 678.5,2677 679,2688 679.5,2697 680,2684 680.5,2688 681,2692 681.5,2682 682,2686 682.5,2691 683,2680 683.5,2691 684,2684 684.5,2684 685,2683 685.5,2688 686,2691 686.5,2686 687,2690 687.5,2685 688,2693 688.5,2691 689,2685 689.5,2693 690,2695 690.5,2691 691,2694 691.5,2695 692,2694 692.5,2689 693,2688 693.5,2694 694,2700 694.5,2703 695,2698 695.5,2698 696,2702 696.5,2697 697,2707 697.5,2700 698,2698 698.5,2708 699,2699 699.5,2704 700,2701 700.5,2710 701,2706 701.5,2697 702,2708 702.5,2700 703,2706 703.5,2708 704,2709 704.5,2711 705,2708 705.5,2711 706,2701 706.5,2709 707,2710 707.5,2715 708,2708 708.5,2704 709,2711 709.5,2709 710,2711 710.5,2705 711,2705 711.5,2712 712,2714 712.5,2713 713,2709 713.5,2713 714,2716 714.5,2716 715,2716 715.5,2712 716,2717 716.5,2711 717,2717 717.5,2709 718,2708 718.5,2710 719,2714 719.5,2716 720,2710 720.5,2713 721,2709 721.5,2712 722,2716 722.5,2716 723,2716 723.5,2714 724,2709 724.5,2715 725,2716 725.5,2712 726,2718 726.5,2715 727,2723 727.5,2707 728,2706 728.5,2711 729,2711 729.5,2712 730,2712 730.5,2713 731,2711 731.5,2704 732,2705 732.5,2705 733,2703 733.5,2711 734,2700 734.5,2700 735,2705 735.5,2701 736,2702 736.5,2705 737,2710 737.5,2711 738,2707 738.5,2713 739,2707 739.5,2705 740,2711 740.5,2715 741,2705 741.5,2712 742,2707 742.5,2715 743,2719 743.5,2717 744,2717 744.5,2716 745,2720 745.5,2718 746,2716 746.5,2714 747,2713 747.5,2721 748,2711 748.5,2717 749,2715 749.5,2718 750,2717 750.5,2715 751,2714 751.5,2725 752,2713 752.5,2716 753,2713 753.5,2714 754,2720 754.5,2715 755,2714 755.5,2725 756,2719 756.5,2722 757,2721 757.5,2717 758,2726 758.5,2709 759,2719 759.5,2712 760,2725 760.5,2722 761,2724 761.5,2727 762,2728 762.5,2727 763,2724 763.5,2727 764,2726 764.5,2724 765,2718 765.5,2721 766,2719 766.5,2724 767,2725 767.5,2717 768,2719 768.5,2721 769,2713 769.5,2724 770,2715 770.5,2716 771,2721 771.5,2724 772,2718 772.5,2721 773,2716 773.5,2714 774,2720 774.5,2718 775,2723 775.5,2714 776,2715 776.5,2715 777,2721 777.5,2721 778,2727 778.5,2717 779,2724 779.5,2724 780,2723 780.5,2717 781,2731 781.5,2723 782,2723 782.5,2719 783,2721 783.5,2720 784,2724 784.5,2726 785,2717 785.5,2724 786,2715 786.5,2714 787,2722 787.5,2716 788,2714 788.5,2716 789,2724 789.5,2715 790,2718 790.5,2724 791,2714 791.5,2723 792,2715 792.5,2721 793,2713 793.5,2713 794,2717 794.5,2716 795,2718 795.5,2719 796,2714 796.5,2720 797,2724 797.5,2722 798,2721 798.5,2720 799,2715 799.5,2717 800,2721 800.5,2717 801,2718 801.5,2718 802,2722 802.5,2721 803,2715 803.5,2723 804,2719 804.5,2716 805,2720 805.5,2724 806,2721 806.5,2719 807,2715 807.5,2719 808,2725 808.5,2715 809,2725 809.5,2717 810,2723 810.5,2725 811,2725 811.5,2722 812,2721 812.5,2719 813,2723 813.5,2722 814,2722 814.5,2717 815,2714 815.5,2714 816,2714 816.5,2718 817,2721 817.5,2724 818,2717 818.5,2726 819,2716 819.5,2726 820,2723 820.5,2716 821,2716 821.5,2717 822,2716 822.5,2726 823,2715 823.5,2719 824,2716 824.5,2721 825,2722 825.5,2720 826,2718 826.5,2714 827,2717 827.5,2713 828,2718 828.5,2718 829,2718 829.5,2715 830,2717 830.5,2711 831,2712 831.5,2722 832,2710 832.5,2708 833,2716 833.5,2716 834,2709 834.5,2714 835,2720 835.5,2718 836,2708 836.5,2714 837,2712 837.5,2708 838,2713 838.5,2704 839,2704 839.5,2705 840,2712 840.5,2703 841,2700 841.5,2709 842,2698 842.5,2699 843,2708 843.5,2702 844,2693 844.5,2700 845,2696 845.5,2694 846,2692 846.5,2697 847,2688 847.5,2697 848,2692 848.5,2681 849,2691 849.5,2694 850,2681 850.5,2679 851,2687 851.5,2678 852,2673 852.5,2680 853,2674 853.5,2670 854,2672 854.5,2658 855,2654 855.5,2661 856,2665 856.5,2651 857,2647 857.5,2646 858,2640 858.5,2641 859,2650 859.5,2649 860,2638 860.5,2630 861,2632 861.5,2640 862,2637 862.5,2633 863,2623 863.5,2628 864,2621 864.5,2622 865,2623 865.5,2630 866,2620 866.5,2625 867,2629 867.5,2619 868,2625 868.5,2619 869,2631 869.5,2619 870,2632 870.5,2640 871,2626 871.5,2626 872,2636 872.5,2630 873,2626 873.5,2625 874,2629 874.5,2620 875,2624 875.5,2612 876,2605 876.5,2594 877,2592 877.5,2580 878,2581 878.5,2567 879,2569 879.5,2549 880,2538 880.5,2544 881,2527 881.5,2522 882,2510 882.5,2513 883,2502 883.5,2487 884,2486 884.5,2493 885,2497 885.5,2495 886,2498 886.5,2498 887,2507 887.5,2516 888,2533 888.5,2545 889,2554 889.5,2573 890,2590 890.5,2597 891,2611 891.5,2623 892,2642 892.5,2650 893,2646 893.5,2665 894,2668 894.5,2664 895,2674 895.5,2673 896,2669 896.5,2677 897,2679 897.5,2680 898,2686 898.5,2687 899,2688 899.5,2691 900,2692 900.5,2684 901,2699 901.5,2694 902,2687 902.5,2687 903,2701 903.5,2700 904,2695 904.5,2701 905,2691 905.5,2705 906,2694 906.5,2700 907,2697 907.5,2701 908,2694 908.5,2692 909,2691 909.5,2695 910,2695 910.5,2693 911,2698 911.5,2702 912,2690 912.5,2689 913,2697 913.5,2701 914,2698 914.5,2688 915,2688 915.5,2693 916,2685 916.5,2689 917,2689 917.5,2694 918,2690 918.5,2692 919,2687 919.5,2687 920,2682 920.5,2692 921,2683 921.5,2681 922,2689 922.5,2683 923,2686 923.5,2674 924,2681 924.5,2669 925,2679 925.5,2668 926,2673 926.5,2674 927,2670 927.5,2674 928,2671 928.5,2669 929,2673 929.5,2667 930,2672 930.5,2672 931,2667 931.5,2663 932,2669 932.5,2668 933,2670 933.5,2667 934,2672 934.5,2668 935,2674 935.5,2669 936,2667 936.5,2675 937,2666 937.5,2670 938,2679 938.5,2682 939,2677 939.5,2683 940,2681 940.5,2682 941,2689 941.5,2683 942,2690 942.5,2694 943,2690 943.5,2698 944,2693 944.5,2695 945,2693 945.5,2697 946,2704 946.5,2701 947,2702 947.5,2705 948,2703 948.5,2707 949,2709 949.5,2704 950,2708 950.5,2706 951,2704 951.5,2714 952,2718 952.5,2717 953,2714 953.5,2711 954,2721 954.5,2717 955,2722 955.5,2715 956,2720 956.5,2722 957,2722 957.5,2717 958,2726 958.5,2723 959,2717 959.5,2716 960,2725 960.5,2717 961,2718 961.5,2722 962,2718 962.5,2709 963,2721 963.5,2720 964,2721 964.5,2728 965,2717 965.5,2723 966,2728 966.5,2725 967,2717 967.5,2717 968,2728 968.5,2726 969,2725 969.5,2721 970,2721 970.5,2722 971,2722 971.5,2727 972,2720 972.5,2722 973,2726 973.5,2724 974,2720 974.5,2718 975,2726 975.5,2731 976,2727 976.5,2731 977,2727 977.5,2728 978,2730 978.5,2730 979,2727 979.5,2730 980,2724 980.5,2716 981,2716 981.5,2723 982,2715 982.5,2714 983,2722 983.5,2718 984,2714 984.5,2730 985,2723 985.5,2732 986,2731 986.5,2722 987,2718 987.5,2720 988,2731 988.5,2728 989,2722 989.5,2727 990,2727 990.5,2722 991,2716 991.5,2729 992,2722 992.5,2725 993,2716 993.5,2720 994,2717 994.5,2714 995,2726 995.5,2712 996,2721 996.5,2714 997,2721 997.5,2717 998,2709 998.5,2709 999,2709 999.5,2714 1000,2707 1000.5,2712 1001,2702 1001.5,2707 1002,2696 1002.5,2703 1003,2699 1003.5,2704 1004,2690 1004.5,2690 1005,2694 1005.5,2680 1006,2680 1006.5,2688 1007,2683 1007.5,2677 1008,2688 1008.5,2670 1009,2666 1009.5,2660 1010,2674 1010.5,2661 1011,2665 1011.5,2665 1012,2675 1012.5,2656 1013,2667 1013.5,2660 1014,2664 1014.5,2670 1015,2678 1015.5,2669 1016,2669 1016.5,2680 1017,2668 1017.5,2679 1018,2693 1018.5,2687 1019,2682 1019.5,2688 1020,2688 1020.5,2700 1021,2705 1021.5,2696 1022,2710 1022.5,2701 1023,2697 1023.5,2710 1024,2701 1024.5,2715 1025,2714 1025.5,2713 1026,2715 1026.5,2710 1027,2719 1027.5,2717 1028,2713 1028.5,2710 1029,2709 1029.5,2717 1030,2721 1030.5,2713 1031,2714 1031.5,2712 1032,2711 1032.5,2714 1033,2721 1033.5,2716 1034,2716 1034.5,2722 1035,2719 1035.5,2722 1036,2725 1036.5,2721 1037,2718 1037.5,2711 1038,2712 1038.5,2723 1039,2712 1039.5,2720 1040,2713 1040.5,2725 1041,2723 1041.5,2716 1042,2724 1042.5,2720 1043,2717 1043.5,2720 1044,2727 1044.5,2715 1045,2725 1045.5,2713 1046,2714 1046.5,2714 1047,2720 1047.5,2727 1048,2715 1048.5,2716 1049,2721 1049.5,2716 1050,2721 1050.5,2717 1051,2713 1051.5,2717 1052,2714 1052.5,2725 1053,2717 1053.5,2709 1054,2714 1054.5,2721 1055,2714 1055.5,2722 1056,2725 1056.5,2724 1057,2726 1057.5,2722 1058,2717 1058.5,2727 1059,2722 1059.5,2729 1060,2727 1060.5,2719 1061,2728 1061.5,2727 1062,2726 1062.5,2728 1063,2727 1063.5,2724 1064,2725 1064.5,2720 1065,2726 1065.5,2725 1066,2721 1066.5,2721 1067,2724 1067.5,2721 1068,2725 1068.5,2719 1069,2717 1069.5,2717 1070,2722 1070.5,2710 1071,2725 1071.5,2718 1072,2726 1072.5,2720 1073,2726 1073.5,2727 1074,2723 1074.5,2726 1075,2723 1075.5,2725 1076,2727 1076.5,2715 1077,2724 1077.5,2723 1078,2724 1078.5,2716 1079,2714 1079.5,2718 1080,2720 1080.5,2719 1081,2718 1081.5,2717 1082,2721 1082.5,2716 1083,2726 1083.5,2726 1084,2726 1084.5,2720 1085,2716 1085.5,2722 1086,2728 1086.5,2719 1087,2725 1087.5,2715 1088,2713 1088.5,2719 1089,2722 1089.5,2724 1090,2718 1090.5,2714 1091,2726 1091.5,2724 1092,2719 1092.5,2723 1093,2719 1093.5,2728 1094,2722 1094.5,2725 1095,2729 1095.5,2727 1096,2723 1096.5,2721 1097,2724 1097.5,2716 1098,2719 1098.5,2724 1099,2718 1099.5,2720 1100,2725 1100.5,2723 1101,2723 1101.5,2715 1102,2722 1102.5,2715 1103,2715 1103.5,2724 1104,2723 1104.5,2720 1105,2721 1105.5,2725 1106,2716 1106.5,2722 1107,2721 1107.5,2718 1108,2724 1108.5,2726 1109,2721 1109.5,2725 1110,2727 1110.5,2727 1111,2728 1111.5,2724 1112,2725 1112.5,2723 1113,2716 1113.5,2727 1114,2729 1114.5,2729 1115,2730 1115.5,2730 1116,2720 1116.5,2715 1117,2716 1117.5,2714 1118,2718 1118.5,2718 1119,2717 1119.5,2725 1120,2726 1120.5,2726 1121,2730 1121.5,2726 1122,2712 1122.5,2719 1123,2720 1123.5,2725 1124,2716 1124.5,2729 1125,2715 1125.5,2724 1126,2724 1126.5,2722 1127,2726 1127.5,2723 1128,2725 1128.5,2729 1129,2717 1129.5,2722 1130,2718 1130.5,2714 1131,2719 1131.5,2724 1132,2718 1132.5,2718 1133,2722 1133.5,2714 1134,2718 1134.5,2715 1135,2713 1135.5,2722 1136,2720 1136.5,2714 1137,2715 1137.5,2717 1138,2722 1138.5,2718 1139,2712 1139.5,2725 1140,2723 1140.5,2715 1141,2727 1141.5,2720 1142,2712 1142.5,2718 1143,2714 1143.5,2723 1144,2722 1144.5,2717 1145,2713 1145.5,2724 1146,2716 1146.5,2713 1147,2722 1147.5,2722 1148,2712 1148.5,2714 1149,2710 1149.5,2709 1150,2718 1150.5,2717 1151,2717 1151.5,2711 1152,2710 1152.5,2717 1153,2710 1153.5,2717 1154,2714 1154.5,2713 1155,2708 1155.5,2712 1156,2711 1156.5,2717 1157,2717 1157.5,2716 1158,2717 1158.5,2719 1159,2721 1159.5,2719 1160,2712 1160.5,2713 1161,2722 1161.5,2717 1162,2717 1162.5,2716 1163,2718 1163.5,2718 1164,2715 1164.5,2725 1165,2717 1165.5,2716 1166,2724 1166.5,2711 1167,2712 1167.5,2726 1168,2722 1168.5,2717 1169,2725 1169.5,2716 1170,2725 1170.5,2732 1171,2720 1171.5,2725 1172,2717 1172.5,2715 1173,2726 1173.5,2720 1174,2725 1174.5,2729 1175,2718 1175.5,2714 1176,2711 1176.5,2714 1177,2711 1177.5,2713 1178,2722 1178.5,2718 1179,2713 1179.5,2716 1180,2712 1180.5,2724 1181,2727 1181.5,2720 1182,2725 1182.5,2728 1183,2716 1183.5,2716 1184,2716 1184.5,2719 1185,2715 1185.5,2714 1186,2727 1186.5,2722 1187,2716 1187.5,2724 1188,2716 1188.5,2722 1189,2726 1189.5,2715 1190,2715 1190.5,2716 1191,2721 1191.5,2725 1192,2720 1192.5,2718 1193,2718 1193.5,2715 1194,2714 1194.5,2722 1195,2721 1195.5,2717 1196,2716 1196.5,2718 1197,2725 1197.5,2716 1198,2721 1198.5,2719 1199,2723 1199.5,2716 1200,2719 1200.5,2714 1201,2724 1201.5,2717 1202,2717 1202.5,2724 1203,2725 1203.5,2724 1204,2720 1204.5,2725 1205,2715 1205.5,2716 1206,2715 1206.5,2719 1207,2719 1207.5,2717 1208,2719 1208.5,2714 1209,2716 1209.5,2718 1210,2715 1210.5,2718 1211,2712 1211.5,2718 1212,2723 1212.5,2712 1213,2725 1213.5,2712 1214,2718 1214.5,2717 1215,2711 1215.5,2717 1216,2712 1216.5,2720 1217,2723 1217.5,2715 1218,2710 1218.5,2719 1219,2717 1219.5,2717 1220,2717 1220.5,2725 1221,2722 1221.5,2709 1222,2713 1222.5,2724 1223,2711 1223.5,2720 1224,2710 1224.5,2726 1225,2724 1225.5,2724 1226,2717 1226.5,2727 1227,2720 1227.5,2717 1228,2727 1228.5,2710 1229,2726 1229.5,2718 1230,2722 1230.5,2721 1231,2711 1231.5,2720 1232,2714 1232.5,2713 1233,2720 1233.5,2722 1234,2714 1234.5,2723 1235,2719 1235.5,2724 1236,2723 1236.5,2721 1237,2725 1237.5,2720 1238,2714 1238.5,2721 1239,2725 1239.5,2719 1240,2713 1240.5,2722 1241,2719 1241.5,2721 1242,2719 1242.5,2723 1243,2717 1243.5,2718 1244,2714 1244.5,2723 1245,2725 1245.5,2725 1246,2724 1246.5,2712 1247,2724 1247.5,2715 1248,2721 1248.5,2717 1249,2724 1249.5,2725 1250,2717 1250.5,2723 1251,2720 1251.5,2718 1252,2713 1252.5,2715 1253,2716 1253.5,2713 1254,2722 1254.5,2717 1255,2724 1255.5,2725 1256,2722 1256.5,2717 1257,2724 1257.5,2724 1258,2722 1258.5,2718 1259,2717 1259.5,2714 1260,2721 1260.5,2724 1261,2724 1261.5,2717 1262,2718 1262.5,2716 1263,2713 1263.5,2723 1264,2726 1264.5,2719 1265,2716 1265.5,2721 1266,2707 1266.5,2720 1267,2719 1267.5,2720 1268,2724 1268.5,2719 1269,2722 1269.5,2718 1270,2715 1270.5,2717 1271,2717 1271.5,2717 1272,2714 1272.5,2722 1273,2714 1273.5,2714 1274,2714 1274.5,2715 1275,2715 1275.5,2720 1276,2717 1276.5,2719 1277,2720 1277.5,2720 1278,2724 1278.5,2721 1279,2724 1279.5,2719 1280,2720 1280.5,2719 1281,2720 1281.5,2720 1282,2715 1282.5,2725 1283,2726 1283.5,2720 1284,2725 1284.5,2727 1285,2719 1285.5,2717 1286,2715 1286.5,2721 1287,2725 1287.5,2717 1288,2722 1288.5,2722 1289,2725 1289.5,2722 1290,2716 1290.5,2717 1291,2725 1291.5,2722 1292,2724 1292.5,2715 1293,2723 1293.5,2719 1294,2726 1294.5,2722 1295,2721 1295.5,2716 1296,2718 1296.5,2717 1297,2715 1297.5,2719 1298,2725 1298.5,2725 1299,2718 1299.5,2727 1300,2714 1300.5,2728 1301,2719 1301.5,2719 1302,2722 1302.5,2728 1303,2715 1303.5,2723 1304,2727 1304.5,2724 1305,2716 1305.5,2734 1306,2723 1306.5,2727 1307,2722 1307.5,2724 1308,2724 1308.5,2714 1309,2721 1309.5,2724 1310,2725 1310.5,2715 1311,2721 1311.5,2720 1312,2717 1312.5,2724 1313,2715 1313.5,2723 1314,2718 1314.5,2716 1315,2715 1315.5,2717 1316,2720 1316.5,2717 1317,2716 1317.5,2718 1318,2716 1318.5,2718 1319,2714 1319.5,2719 1320,2721 1320.5,2717 1321,2715 1321.5,2716 1322,2720 1322.5,2721 1323,2721 1323.5,2716 1324,2715 1324.5,2718 1325,2724 1325.5,2723 1326,2719 1326.5,2718 1327,2723 1327.5,2719 1328,2721 1328.5,2721 1329,2724 1329.5,2722 1330,2714 1330.5,2723 1331,2717 1331.5,2724 1332,2722 1332.5,2715 1333,2715 1333.5,2719 1334,2720 1334.5,2717 1335,2721 1335.5,2731 1336,2720 1336.5,2712 1337,2714 1337.5,2717 1338,2712 1338.5,2713 1339,2725 1339.5,2714 1340,2726 1340.5,2725 1341,2716 1341.5,2722 1342,2713 1342.5,2718 1343,2720 1343.5,2714 1344,2714 1344.5,2722 1345,2711 1345.5,2723 1346,2721 1346.5,2719 1347,2718 1347.5,2712 1348,2715 1348.5,2714 1349,2718 1349.5,2717 1350,2723 1350.5,2712 1351,2718 1351.5,2717 1352,2717 1352.5,2713 1353,2717 1353.5,2717 1354,2718 1354.5,2720 1355,2728 1355.5,2718 1356,2716 1356.5,2721 1357,2712 1357.5,2717 1358,2714 1358.5,2717 1359,2716 1359.5,2720 1360,2720 1360.5,2712 1361,2730 1361.5,2719 1362,2718 1362.5,2714 1363,2712 1363.5,2716 1364,2716 1364.5,2723 1365,2719 1365.5,2717 1366,2711 1366.5,2728 1367,2721 1367.5,2718 1368,2712 1368.5,2720 1369,2727 1369.5,2728 1370,2710 1370.5,2725 1371,2719 1371.5,2720 1372,2728 1372.5,2729 1373,2712 1373.5,2716 1374,2715 1374.5,2717 1375,2719 1375.5,2727 1376,2721 1376.5,2716 1377,2719 1377.5,2718 1378,2718 1378.5,2719 1379,2722 1379.5,2711 1380,2715 1380.5,2716 1381,2721 1381.5,2711 1382,2715 1382.5,2723 1383,2717 1383.5,2726 1384,2720 1384.5,2723 1385,2720 1385.5,2713 1386,2722 1386.5,2718 1387,2720 1387.5,2716 1388,2710 1388.5,2716 1389,2717 1389.5,2717 1390,2714 1390.5,2716 1391,2715 1391.5,2722 1392,2714 1392.5,2715 1393,2724 1393.5,2726 1394,2725 1394.5,2725 1395,2716 1395.5,2721 1396,2718 1396.5,2720 1397,2716 1397.5,2717 1398,2713 1398.5,2715 1399,2716 1399.5,2714 1400,2715 1400.5,2716 1401,2721 1401.5,2717 1402,2711 1402.5,2721 1403,2717 1403.5,2715 1404,2708 1404.5,2709 1405,2718 1405.5,2717 1406,2713 1406.5,2718 1407,2717 1407.5,2715 1408,2703 1408.5,2704 1409,2707 1409.5,2712 1410,2699 1410.5,2699 1411,2705 1411.5,2699 1412,2695 1412.5,2699 1413,2696 1413.5,2703 1414,2701 1414.5,2690 1415,2687 1415.5,2696 1416,2683 1416.5,2693 1417,2681 1417.5,2693 1418,2683 1418.5,2687 1419,2685 1419.5,2674 1420,2676 1420.5,2676 1421,2675 1421.5,2678 1422,2679 1422.5,2671 1423,2668 1423.5,2666 1424,2675 1424.5,2678 1425,2668 1425.5,2680 1426,2674 1426.5,2672 1427,2686 1427.5,2675 1428,2675 1428.5,2688 1429,2689 1429.5,2678 1430,2693 1430.5,2692 1431,2698 1431.5,2691 1432,2691 1432.5,2696 1433,2696 1433.5,2696 1434,2690 1434.5,2695 1435,2693 1435.5,2698 1436,2705 1436.5,2717 1437,2716 1437.5,2706 1438,2711 1438.5,2710 1439,2705 1439.5,2711 1440,2710 1440.5,2707 1441,2713 1441.5,2711 1442,2714 1442.5,2714 1443,2714 1443.5,2709 1444,2713 1444.5,2719 1445,2714 1445.5,2713 1446,2713 1446.5,2715 1447,2716 1447.5,2711 1448,2713 1448.5,2716 1449,2713 1449.5,2717 1450,2723 1450.5,2716 1451,2713 1451.5,2722 1452,2718 1452.5,2714 1453,2712 1453.5,2716 1454,2718 1454.5,2718 1455,2719 1455.5,2718 1456,2724 1456.5,2718 1457,2713 1457.5,2722 1458,2721 1458.5,2720 1459,2708 1459.5,2722 1460,2715 1460.5,2714 1461,2717 1461.5,2718 1462,2723 1462.5,2714 1463,2711 1463.5,2715 1464,2717 1464.5,2713 1465,2732 1465.5,2718 1466,2710 1466.5,2719 1467,2714 1467.5,2721 1468,2711 1468.5,2715 1469,2721 1469.5,2724 1470,2713 1470.5,2724 1471,2725 1471.5,2717 1472,2711 1472.5,2715 1473,2720 1473.5,2719 1474,2719 1474.5,2710 1475,2722 1475.5,2711 1476,2720 1476.5,2709 1477,2722 1477.5,2726 1478,2711 1478.5,2712 1479,2714 1479.5,2724 1480,2719 1480.5,2711 1481,2709 1481.5,2726 1482,2713 1482.5,2718 1483,2718 1483.5,2721 1484,2724 1484.5,2715 1485,2710 1485.5,2724 1486,2712 1486.5,2717 1487,2717 1487.5,2718 1488,2719 1488.5,2723 1489,2720 1489.5,2715 1490,2714 1490.5,2713 1491,2717 1491.5,2724 1492,2724 1492.5,2720 1493,2716 1493.5,2720 1494,2713 1494.5,2720 1495,2723 1495.5,2723 1496,2723 1496.5,2713 1497,2717 1497.5,2714 1498,2724 1498.5,2724 1499,2724 1499.5,2720 1500,2723 1500.5,2716 1501,2718 1501.5,2704 1502,2722 1502.5,2714 1503,2711 1503.5,2713 1504,2717 1504.5,2723 1505,2715 1505.5,2711 1506,2717 1506.5,2717 1507,2721 1507.5,2718 1508,2712 1508.5,2706 1509,2710 1509.5,2717 1510,2722 1510.5,2721 1511,2716 1511.5,2718 1512,2719 1512.5,2718 1513,2715 1513.5,2711 1514,2709 1514.5,2709 1515,2721 1515.5,2720 1516,2711 1516.5,2715 1517,2717 1517.5,2713 1518,2717 1518.5,2713 1519,2716 1519.5,2713 1520,2718 1520.5,2707 1521,2707 1521.5,2717 1522,2718 1522.5,2708 1523,2718 1523.5,2716 1524,2707 1524.5,2712 1525,2719 1525.5,2711 1526,2717 1526.5,2715 1527,2715 1527.5,2717 1528,2717 1528.5,2711 1529,2709 1529.5,2715 1530,2717 1530.5,2716 1531,2712 1531.5,2708 1532,2716 1532.5,2717 1533,2710 1533.5,2705 1534,2708 1534.5,2710 1535,2711 1535.5,2706 1536,2714 1536.5,2708 1537,2711 1537.5,2715 1538,2705 1538.5,2717 1539,2705 1539.5,2714 1540,2707 1540.5,2706 1541,2704 1541.5,2714 1542,2715 1542.5,2712 1543,2710 1543.5,2707 1544,2709 1544.5,2715 1545,2716 1545.5,2725 1546,2709 1546.5,2705 1547,2709 1547.5,2705 1548,2711 1548.5,2712 1549,2712 1549.5,2716 1550,2707 1550.5,2709 1551,2713 1551.5,2707 1552,2707 1552.5,2706 1553,2706 1553.5,2704 1554,2716 1554.5,2704 1555,2706 1555.5,2709 1556,2706 1556.5,2714 1557,2711 1557.5,2720 1558,2714 1558.5,2717 1559,2711 1559.5,2720 1560,2712 1560.5,2703 1561,2719 1561.5,2711 1562,2705 1562.5,2716 1563,2714 1563.5,2706 1564,2715 1564.5,2712 1565,2705 1565.5,2711 1566,2720 1566.5,2709 1567,2709 1567.5,2717 1568,2710 1568.5,2711 1569,2720 1569.5,2716 1570,2710 1570.5,2710 1571,2710 1571.5,2714 1572,2706 1572.5,2710 1573,2712 1573.5,2712 1574,2714 1574.5,2710 1575,2711 1575.5,2709 1576,2710 1576.5,2714 1577,2719 1577.5,2717 1578,2710 1578.5,2718 1579,2719 1579.5,2713 1580,2716 1580.5,2719 1581,2720 1581.5,2713 1582,2721 1582.5,2716 1583,2718 1583.5,2720 1584,2720 1584.5,2721 1585,2716 1585.5,2716 1586,2714 1586.5,2713 1587,2717 1587.5,2718 1588,2716 1588.5,2721 1589,2725 1589.5,2722 1590,2713 1590.5,2714 1591,2724 1591.5,2720 1592,2713 1592.5,2725 1593,2722 1593.5,2718 1594,2723 1594.5,2716 1595,2726 1595.5,2723 1596,2721 1596.5,2716 1597,2721 1597.5,2724 1598,2721 1598.5,2717 1599,2722 1599.5,2713 1600,2717 1600.5,2713 1601,2713 1601.5,2720 1602,2721 1602.5,2720 1603,2721 1603.5,2723 1604,2715 1604.5,2713 1605,2714 1605.5,2717 1606,2718 1606.5,2717 1607,2713 1607.5,2723 1608,2713 1608.5,2723 1609,2722 1609.5,2721 1610,2714 1610.5,2722 1611,2717 1611.5,2722 1612,2724 1612.5,2721 1613,2719 1613.5,2724 1614,2717 1614.5,2721 1615,2713 1615.5,2718 1616,2721 1616.5,2720 1617,2721 1617.5,2722 1618,2723 1618.5,2715 1619,2712 1619.5,2716 1620,2714 1620.5,2724 1621,2715 1621.5,2717 1622,2713 1622.5,2724 1623,2715 1623.5,2721 1624,2724 1624.5,2722 1625,2712 1625.5,2717 1626,2716 1626.5,2718 1627,2723 1627.5,2717 1628,2723 1628.5,2718 1629,2712 1629.5,2713 1630,2725 1630.5,2713 1631,2721 1631.5,2725 1632,2713 1632.5,2715 1633,2719 1633.5,2723 1634,2722 1634.5,2721 1635,2715 1635.5,2722 1636,2723 1636.5,2717 1637,2726 1637.5,2714 1638,2723 1638.5,2723 1639,2717 1639.5,2722 1640,2715 1640.5,2720 1641,2722 1641.5,2715 1642,2717 1642.5,2715 1643,2724 1643.5,2716 1644,2723 1644.5,2727 1645,2713 1645.5,2726 1646,2726 1646.5,2714 1647,2724 1647.5,2713 1648,2720 1648.5,2715 1649,2715 1649.5,2720 1650,2720 1650.5,2714 1651,2712 1651.5,2722 1652,2725 1652.5,2727 1653,2716 1653.5,2725 1654,2715 1654.5,2711 1655,2726 1655.5,2714 1656,2722 1656.5,2721 1657,2715 1657.5,2722 1658,2713 1658.5,2714 1659,2710 1659.5,2718 1660,2711 1660.5,2712 1661,2712 1661.5,2718 1662,2714 1662.5,2716 1663,2713 1663.5,2717 1664,2716 1664.5,2711 1665,2715 1665.5,2719 1666,2716 1666.5,2716 1667,2715 1667.5,2716 1668,2717 1668.5,2708 1669,2718 1669.5,2712 1670,2709 1670.5,2712 1671,2712 1671.5,2711 1672,2724 1672.5,2711 1673,2710 1673.5,2709 1674,2717 1674.5,2706 1675,2705 1675.5,2713 1676,2713 1676.5,2711 1677,2712 1677.5,2711 1678,2705 1678.5,2713 1679,2701 1679.5,2706 1680,2703 1680.5,2708 1681,2701 1681.5,2711 1682,2709 1682.5,2701 1683,2709 1683.5,2707 1684,2704 1684.5,2701 1685,2710 1685.5,2707 1686,2698 1686.5,2700 1687,2709 1687.5,2697 1688,2696 1688.5,2693 1689,2693 1689.5,2701 1690,2701 1690.5,2694 1691,2702 1691.5,2701 1692,2694 1692.5,2704 1693,2707 1693.5,2702 1694,2711 1694.5,2708 1695,2703 1695.5,2713 1696,2709 1696.5,2703 1697,2707 1697.5,2701 1698,2702 1698.5,2710 1699,2712 1699.5,2705 1700,2715 1700.5,2706 1701,2715 1701.5,2711 1702,2714 1702.5,2717 1703,2721 1703.5,2711 1704,2711 1704.5,2709 1705,2709 1705.5,2720 1706,2710 1706.5,2713 1707,2710 1707.5,2711 1708,2718 1708.5,2717 1709,2719 1709.5,2717 1710,2714 1710.5,2720 1711,2714 1711.5,2720 1712,2717 1712.5,2723 1713,2720 1713.5,2719 1714,2714 1714.5,2715 1715,2719 1715.5,2724 1716,2717 1716.5,2720 1717,2721 1717.5,2724 1718,2723 1718.5,2719 1719,2716 1719.5,2720 1720,2716 1720.5,2721 1721,2723 1721.5,2723 1722,2713 1722.5,2717 1723,2716 1723.5,2721 1724,2723 1724.5,2715 1725,2721 1725.5,2721 1726,2720 1726.5,2712 1727,2715 1727.5,2719 1728,2715 1728.5,2712 1729,2715 1729.5,2716 1730,2712 1730.5,2712 1731,2718 1731.5,2712 1732,2719 1732.5,2725 1733,2715 1733.5,2722 1734,2715 1734.5,2712 1735,2720 1735.5,2722 1736,2711 1736.5,2711 1737,2724 1737.5,2717 1738,2722 1738.5,2713 1739,2711 1739.5,2715 1740,2714 1740.5,2720 1741,2721 1741.5,2718 1742,2714 1742.5,2717 1743,2713 1743.5,2711 1744,2722 1744.5,2720 1745,2721 1745.5,2708 1746,2717 1746.5,2712 1747,2718 1747.5,2710 1748,2721 1748.5,2722 1749,2730 1749.5,2711 1750,2716 1750.5,2720 1751,2718 1751.5,2713 1752,2713 1752.5,2717 1753,2717 1753.5,2724 1754,2713 1754.5,2719 1755,2715 1755.5,2725 1756,2712 1756.5,2720 1757,2723 1757.5,2725 1758,2712 1758.5,2722 1759,2721 1759.5,2712 1760,2712 1760.5,2725 1761,2732 1761.5,2712 1762,2716 1762.5,2720 1763,2712 1763.5,2719 1764,2724 1764.5,2721 1765,2714 1765.5,2722 1766,2724 1766.5,2719 1767,2722 1767.5,2725 1768,2717 1768.5,2716 1769,2723 1769.5,2714 1770,2715 1770.5,2722 1771,2719 1771.5,2713 1772,2713 1772.5,2723 1773,2714 1773.5,2715 1774,2714 1774.5,2720 1775,2722 1775.5,2718 1776,2717 1776.5,2715 1777,2716 1777.5,2722 1778,2720 1778.5,2717 1779,2716 1779.5,2719 1780,2716 1780.5,2717 1781,2716 1781.5,2715 1782,2719 1782.5,2715 1783,2716 1783.5,2717 1784,2719 1784.5,2716 1785,2718 1785.5,2721 1786,2719 1786.5,2718 1787,2715 1787.5,2715 1788,2721 1788.5,2720 1789,2721 1789.5,2719 1790,2718 1790.5,2722 1791,2716 1791.5,2722 1792,2719 1792.5,2714 1793,2721 1793.5,2715 1794,2716 1794.5,2723 1795,2714 1795.5,2720 1796,2715 1796.5,2717 1797,2719 1797.5,2722 1798,2713 1798.5,2720 1799,2718 1799.5,2720 1800,2719 1800.5,2714 1801,2725 1801.5,2724 1802,2712 1802.5,2720 1803,2718 1803.5,2720 1804,2717 1804.5,2712 1805,2725 1805.5,2723 1806,2718 1806.5,2721 1807,2713 1807.5,2721 1808,2715 1808.5,2713 1809,2727 1809.5,2722 1810,2715 1810.5,2713 1811,2721 1811.5,2713 1812,2722 1812.5,2714 1813,2728 1813.5,2730 1814,2734 1814.5,2722 1815,2716 1815.5,2725 1816,2712 1816.5,2715 1817,2725 1817.5,2724 1818,2726 1818.5,2721 1819,2727 1819.5,2718 1820,2718 1820.5,2726 1821,2724 1821.5,2713 1822,2719 1822.5,2727 1823,2716 1823.5,2726 1824,2719 1824.5,2721 1825,2718 1825.5,2723 1826,2726 1826.5,2728 1827,2725 1827.5,2717 1828,2725 1828.5,2718 1829,2714 1829.5,2718 1830,2726 1830.5,2717 1831,2727 1831.5,2734 1832,2725 1832.5,2718 1833,2715 1833.5,2718 1834,2719 1834.5,2724 1835,2721 1835.5,2719 1836,2720 1836.5,2717 1837,2718 1837.5,2725 1838,2725 1838.5,2717 1839,2724 1839.5,2727 1840,2724 1840.5,2722 1841,2718 1841.5,2724 1842,2720 1842.5,2719 1843,2723 1843.5,2723 1844,2724 1844.5,2727 1845,2723 1845.5,2722 1846,2723 1846.5,2721 1847,2721 1847.5,2723 1848,2724 1848.5,2724 1849,2725 1849.5,2716 1850,2715 1850.5,2715 1851,2717 1851.5,2718 1852,2726 1852.5,2719 1853,2718 1853.5,2712 1854,2718 1854.5,2725 1855,2721 1855.5,2732 1856,2712 1856.5,2720 1857,2713 1857.5,2712 1858,2721 1858.5,2714 1859,2715 1859.5,2716 1860,2725 1860.5,2713 1861,2721 1861.5,2713 1862,2718 1862.5,2715 1863,2715 1863.5,2725 1864,2720 1864.5,2720 1865,2721 1865.5,2727 1866,2718 1866.5,2716 1867,2726 1867.5,2713 1868,2717 1868.5,2720 1869,2718 1869.5,2723 1870,2724 1870.5,2723 1871,2724 1871.5,2723 1872,2715 1872.5,2720 1873,2723 1873.5,2720 1874,2723 1874.5,2718 1875,2717 1875.5,2722 1876,2722 1876.5,2723 1877,2721 1877.5,2722 1878,2719 1878.5,2719 1879,2720 1879.5,2725 1880,2723 1880.5,2721 1881,2725 1881.5,2725 1882,2720 1882.5,2728 1883,2721 1883.5,2726 1884,2720 1884.5,2722 1885,2720 1885.5,2725 1886,2724 1886.5,2718 1887,2725 1887.5,2723 1888,2722 1888.5,2717 1889,2717 1889.5,2726 1890,2735 1890.5,2723 1891,2719 1891.5,2716 1892,2725 1892.5,2716 1893,2726 1893.5,2719 1894,2715 1894.5,2717 1895,2721 1895.5,2719 1896,2725 1896.5,2724 1897,2726 1897.5,2724 1898,2719 1898.5,2724 1899,2721 1899.5,2724 1900,2725 1900.5,2726 1901,2714 1901.5,2721 1902,2729 1902.5,2726 1903,2718 1903.5,2721 1904,2708 1904.5,2720 1905,2731 1905.5,2725 1906,2720 1906.5,2726 1907,2719 1907.5,2720 1908,2724 1908.5,2723 1909,2719 1909.5,2727 1910,2731 1910.5,2721 1911,2717 1911.5,2713 1912,2730 1912.5,2724 1913,2722 1913.5,2730 1914,2725 1914.5,2723 1915,2728 1915.5,2714 1916,2715 1916.5,2713 1917,2728 1917.5,2725 1918,2729 1918.5,2719 1919,2715 1919.5,2710 1920,2725 1920.5,2721 1921,2726 1921.5,2729 1922,2714 1922.5,2725 1923,2724 1923.5,2719 1924,2728 1924.5,2725 1925,2728 1925.5,2718 1926,2721 1926.5,2716 1927,2718 1927.5,2717 1928,2725 1928.5,2720 1929,2718 1929.5,2718 1930,2726 1930.5,2728 1931,2727 1931.5,2729 1932,2714 1932.5,2715 1933,2719 1933.5,2717 1934,2720 1934.5,2729 1935,2728 1935.5,2719 1936,2717 1936.5,2714 1937,2721 1937.5,2723 1938,2714 1938.5,2717 1939,2728" stroke="#008080" stroke-width="6"/>
<path d="M162,2530 162.5,2530 163,2530 163.5,2524 164,2522 164.5,2531 165,2528 165.5,2520 166,2531 166.5,2532 167,2524 167.5,2530 168,2521 168.5,2525 169,2530 169.5,2525 170,2526 170.5,2521 171,2530 171.5,2526 172,2523 172.5,2530 173,2533 173.5,2527 174,2529 174.5,2533 175,2520 175.5,2528 176,2532 176.5,2521 177,2523 177.5,2527 178,2529 178.5,2527 179,2527 179.5,2521 180,2529 180.5,2524 181,2521 181.5,2532 182,2528 182.5,2526 183,2529 183.5,2526 184,2522 184.5,2527 185,2529 185.5,2529 186,2527 186.5,2530 187,2531 187.5,2535 188,2525 188.5,2524 189,2526 189.5,2528 190,2523 190.5,2527 191,2525 191.5,2521 192,2525 192.5,2525 193,2530 193.5,2522 194,2530 194.5,2530 195,2527 195.5,2523 196,2529 196.5,2523 197,2524 197.5,2528 198,2525 198.5,2526 199,2524 199.5,2522 200,2525 200.5,2529 201,2529 201.5,2522 202,2527 202.5,2525 203,2525 203.5,2531 204,2529 204.5,2526 205,2526 205.5,2530 206,2525 206.5,2529 207,2528 207.5,2528 208,2525 208.5,2528 209,2529 209.5,2524 210,2529 210.5,2526 211,2526 211.5,2525 212,2524 212.5,2528 213,2525 213.5,2522 214,2529 214.5,2525 215,2527 215.5,2536 216,2527 216.5,2526 217,2524 217.5,2528 218,2530 218.5,2528 219,2529 219.5,2524 220,2524 220.5,2525 221,2526 221.5,2530 222,2526 222.5,2523 223,2527 223.5,2524 224,2528 224.5,2525 225,2530 225.5,2526 226,2527 226.5,2527 227,2526 227.5,2531 228,2523 228.5,2529 229,2524 229.5,2523 230,2524 230.5,2529 231,2530 231.5,2534 232,2524 232.5,2526 233,2522 233.5,2525 234,2523 234.5,2521 235,2523 235.5,2531 236,2526 236.5,2523 237,2521 237.5,2530 238,2515 238.5,2519 239,2520 239.5,2528 240,2530 240.5,2519 241,2526 241.5,2526 242,2525 242.5,2518 243,2527 243.5,2523 244,2530 244.5,2531 245,2526 245.5,2519 246,2521 246.5,2525 247,2529 247.5,2523 248,2522 248.5,2525 249,2528 249.5,2520 250,2525 250.5,2525 251,2523 251.5,2522 252,2528 252.5,2531 253,2520 253.5,2518 254,2521 254.5,2523 255,2520 255.5,2522 256,2531 256.5,2525 257,2526 257.5,2526 258,2522 258.5,2523 259,2525 259.5,2524 260,2524 260.5,2532 261,2526 261.5,2526 262,2521 262.5,2520 263,2521 263.5,2525 264,2522 264.5,2524 265,2523 265.5,2526 266,2520 266.5,2525 267,2520 267.5,2523 268,2523 268.5,2521 269,2521 269.5,2522 270,2522 270.5,2520 271,2522 271.5,2519 272,2522 272.5,2523 273,2521 273.5,2522 274,2523 274.5,2523 275,2514 275.5,2520 276,2520 276.5,2528 277,2522 277.5,2525 278,2519 278.5,2523 279,2522 279.5,2519 280,2514 280.5,2520 281,2525 281.5,2525 282,2526 282.5,2521 283,2523 283.5,2525 284,2523 284.5,2526 285,2518 285.5,2525 286,2519 286.5,2523 287,2522 287.5,2522 288,2526 288.5,2518 289,2518 289.5,2528 290,2523 290.5,2522 291,2519 291.5,2523 292,2525 292.5,2528 293,2522 293.5,2518 294,2527 294.5,2520 295,2526 295.5,2527 296,2530 296.5,2519 297,2520 297.5,2522 298,2528 298.5,2522 299,2522 299.5,2528 300,2518 300.5,2518 301,2518 301.5,2523 302,2520 302.5,2521 303,2512 303.5,2524 304,2522 304.5,2519 305,2527 305.5,2528 306,2524 306.5,2521 307,2529 307.5,2519 308,2528 308.5,2525 309,2521 309.5,2525 310,2524 310.5,2518 311,2523 311.5,2527 312,2525 312.5,2520 313,2521 313.5,2526 314,2519 314.5,2526 315,2524 315.5,2523 316,2523 316.5,2524 317,2520 317.5,2528 318,2524 318.5,2526 319,2521 319.5,2528 320,2526 320.5,2522 321,2528 321.5,2528 322,2524 322.5,2523 323,2527 323.5,2521 324,2528 324.5,2528 325,2521 325.5,2528 326,2523 326.5,2527 327,2527 327.5,2522 328,2523 328.5,2528 329,2527 329.5,2526 330,2522 330.5,2526 331,2519 331.5,2521 332,2521 332.5,2518 333,2523 333.5,2517 334,2530 334.5,2523 335,2527 335.5,2524 336,2517 336.5,2522 337,2515 337.5,2519 338,2525 338.5,2517 339,2530 339.5,2525 340,2514 340.5,2521 341,2530 341.5,2518 342,2515 342.5,2518 343,2522 343.5,2520 344,2518 344.5,2522 345,2522 345.5,2525 346,2530 346.5,2524 347,2515 347.5,2517 348,2519 348.5,2529 349,2515 349.5,2524 350,2521 350.5,2518 351,2524 351.5,2526 352,2526 352.5,2518 353,2518 353.5,2518 354,2518 354.5,2518 355,2522 355.5,2519 356,2523 356.5,2528 357,2526 357.5,2516 358,2527 358.5,2520 359,2517 359.5,2518 360,2516 360.5,2519 361,2521 361.5,2517 362,2527 362.5,2521 363,2522 363.5,2519 364,2526 364.5,2525 365,2521 365.5,2516 366,2523 366.5,2520 367,2518 367.5,2521 368,2524 368.5,2523 369,2518 369.5,2525 370,2521 370.5,2525 371,2521 371.5,2525 372,2525 372.5,2517 373,2526 373.5,2524 374,2522 374.5,2516 375,2523 375.5,2523 376,2527 376.5,2520 377,2515 377.5,2525 378,2520 378.5,2519 379,2525 379.5,2514 380,2514 380.5,2530 381,2528 381.5,2527 382,2522 382.5,2513 383,2516 383.5,2514 384,2527 384.5,2518 385,2527 385.5,2514 386,2518 386.5,2521 387,2520 387.5,2517 388,2527 388.5,2515 389,2525 389.5,2524 390,2523 390.5,2517 391,2525 391.5,2526 392,2524 392.5,2524 393,2524 393.5,2522 394,2524 394.5,2523 395,2520 395.5,2528 396,2521 396.5,2518 397,2525 397.5,2528 398,2519 398.5,2518 399,2521 399.5,2521 400,2519 400.5,2521 401,2523 401.5,2520 402,2524 402.5,2522 403,2522 403.5,2518 404,2527 404.5,2525 405,2524 405.5,2521 406,2531 406.5,2527 407,2528 407.5,2524 408,2525 408.5,2526 409,2519 409.5,2519 410,2527 410.5,2520 411,2515 411.5,2522 412,2528 412.5,2521 413,2523 413.5,2528 414,2517 414.5,2518 415,2515 415.5,2520 416,2517 416.5,2523 417,2519 417.5,2516 418,2525 418.5,2525 419,2527 419.5,2520 420,2522 420.5,2524 421,2527 421.5,2528 422,2519 422.5,2517 423,2518 423.5,2518 424,2526 424.5,2524 425,2516 425.5,2524 426,2524 426.5,2522 427,2526 427.5,2512 428,2525 428.5,2514 429,2528 429.5,2523 430,2528 430.5,2516 431,2510 431.5,2528 432,2515 432.5,2519 433,2527 433.5,2529 434,2516 434.5,2515 435,2525 435.5,2518 436,2519 436.5,2515 437,2520 437.5,2528 438,2524 438.5,2516 439,2516 439.5,2529 440,2525 440.5,2518 441,2525 441.5,2527 442,2527 442.5,2525 443,2519 443.5,2527 444,2525 444.5,2527 445,2523 445.5,2527 446,2527 446.5,2521 447,2519 447.5,2525 448,2520 448.5,2521 449,2520 449.5,2522 450,2522 450.5,2526 451,2525 451.5,2520 452,2525 452.5,2526 453,2523 453.5,2518 454,2527 454.5,2526 455,2518 455.5,2521 456,2527 456.5,2525 457,2519 457.5,2522 458,2518 458.5,2528 459,2527 459.5,2521 460,2523 460.5,2527 461,2524 461.5,2518 462,2528 462.5,2527 463,2517 463.5,2530 464,2524 464.5,2525 465,2527 465.5,2531 466,2524 466.5,2520 467,2522 467.5,2531 468,2527 468.5,2525 469,2525 469.5,2524 470,2533 470.5,2533 471,2522 471.5,2515 472,2518 472.5,2520 473,2523 473.5,2528 474,2527 474.5,2524 475,2531 475.5,2519 476,2523 476.5,2529 477,2527 477.5,2525 478,2527 478.5,2518 479,2527 479.5,2525 480,2529 480.5,2520 481,2523 481.5,2531 482,2522 482.5,2527 483,2530 483.5,2525 484,2525 484.5,2525 485,2521 485.5,2524 486,2527 486.5,2524 487,2521 487.5,2522 488,2518 488.5,2516 489,2531 489.5,2522 490,2527 490.5,2526 491,2520 491.5,2520 492,2526 492.5,2523 493,2526 493.5,2524 494,2522 494.5,2525 495,2522 495.5,2515 496,2523 496.5,2530 497,2526 497.5,2518 498,2522 498.5,2515 499,2525 499.5,2520 500,2523 500.5,2529 501,2523 501.5,2526 502,2514 502.5,2519 503,2523 503.5,2517 504,2522 504.5,2519 505,2521 505.5,2515 506,2524 506.5,2517 507,2518 507.5,2516 508,2517 508.5,2516 509,2528 509.5,2525 510,2524 510.5,2515 511,2517 511.5,2526 512,2526 512.5,2516 513,2522 513.5,2523 514,2519 514.5,2518 515,2517 515.5,2523 516,2518 516.5,2523 517,2514 517.5,2521 518,2525 518.5,2515 519,2514 519.5,2523 520,2516 520.5,2521 521,2514 521.5,2520 522,2519 522.5,2514 523,2518 523.5,2520 524,2520 524.5,2518 525,2522 525.5,2523 526,2516 526.5,2524 527,2519 527.5,2532 528,2524 528.5,2522 529,2519 529.5,2522 530,2519 530.5,2516 531,2521 531.5,2519 532,2523 532.5,2517 533,2522 533.5,2520 534,2517 534.5,2519 535,2523 535.5,2523 536,2521 536.5,2522 537,2524 537.5,2524 538,2521 538.5,2516 539,2522 539.5,2516 540,2516 540.5,2521 541,2522 541.5,2516 542,2523 542.5,2524 543,2527 543.5,2520 544,2527 544.5,2517 545,2522 545.5,2518 546,2520 546.5,2518 547,2528 547.5,2528 548,2523 548.5,2516 549,2518 549.5,2517 550,2519 550.5,2521 551,2521 551.5,2521 552,2526 552.5,2521 553,2522 553.5,2522 554,2519 554.5,2523 555,2518 555.5,2518 556,2523 556.5,2524 557,2517 557.5,2522 558,2517 558.5,2520 559,2524 559.5,2524 560,2520 560.5,2525 561,2526 561.5,2517 562,2527 562.5,2518 563,2526 563.5,2522 564,2527 564.5,2518 565,2525 565.5,2518 566,2523 566.5,2524 567,2525 567.5,2522 568,2518 568.5,2511 569,2523 569.5,2520 570,2512 570.5,2522 571,2516 571.5,2522 572,2517 572.5,2524 573,2523 573.5,2526 574,2526 574.5,2508 575,2520 575.5,2527 576,2508 576.5,2522 577,2513 577.5,2518 578,2508 578.5,2520 579,2523 579.5,2521 580,2520 580.5,2523 581,2517 581.5,2511 582,2516 582.5,2521 583,2512 583.5,2513 584,2520 584.5,2507 585,2502 585.5,2512 586,2520 586.5,2501 587,2514 587.5,2516 588,2505 588.5,2519 589,2518 589.5,2504 590,2501 590.5,2511 591,2516 591.5,2497 592,2509 592.5,2504 593,2512 593.5,2504 594,2516 594.5,2508 595,2503 595.5,2507 596,2511 596.5,2506 597,2505 597.5,2514 598,2511 598.5,2503 599,2512 599.5,2504 600,2513 600.5,2513 601,2497 601.5,2503 602,2509 602.5,2510 603,2507 603.5,2507 604,2503 604.5,2514 605,2504 605.5,2508 606,2505 606.5,2509 607,2504 607.5,2502 608,2508 608.5,2504 609,2510 609.5,2504 610,2513 610.5,2508 611,2507 611.5,2506 612,2508 612.5,2507 613,2507 613.5,2501 614,2511 614.5,2504 615,2501 615.5,2508 616,2508 616.5,2503 617,2509 617.5,2499 618,2496 618.5,2499 619,2510 619.5,2497 620,2507 620.5,2506 621,2506 621.5,2501 622,2502 622.5,2510 623,2502 623.5,2495 624,2503 624.5,2495 625,2496 625.5,2498 626,2503 626.5,2503 627,2501 627.5,2494 628,2495 628.5,2503 629,2492 629.5,2507 630,2503 630.5,2502 631,2509 631.5,2494 632,2503 632.5,2499 633,2506 633.5,2503 634,2502 634.5,2499 635,2508 635.5,2502 636,2495 636.5,2493 637,2509 637.5,2508 638,2503 638.5,2506 639,2509 639.5,2505 640,2497 640.5,2505 641,2502 641.5,2495 642,2501 642.5,2508 643,2508 643.5,2497 644,2507 644.5,2495 645,2497 645.5,2495 646,2497 646.5,2506 647,2495 647.5,2495 648,2497 648.5,2504 649,2496 649.5,2498 650,2499 650.5,2504 651,2497 651.5,2502 652,2504 652.5,2493 653,2505 653.5,2497 654,2500 654.5,2493 655,2506 655.5,2494 656,2506 656.5,2500 657,2503 657.5,2503 658,2492 658.5,2503 659,2495 659.5,2493 660,2508 660.5,2496 661,2507 661.5,2496 662,2505 662.5,2507 663,2498 663.5,2501 664,2509 664.5,2496 665,2492 665.5,2508 666,2510 666.5,2500 667,2496 667.5,2497 668,2516 668.5,2513 669,2509 669.5,2510 670,2501 670.5,2500 671,2520 671.5,2513 672,2508 672.5,2515 673,2505 673.5,2503 674,2498 674.5,2502 675,2511 675.5,2512 676,2502 676.5,2505 677,2501 677.5,2507 678,2506 678.5,2517 679,2515 679.5,2517 680,2503 680.5,2507 681,2517 681.5,2499 682,2508 682.5,2504 683,2503 683.5,2514 684,2510 684.5,2510 685,2511 685.5,2519 686,2506 686.5,2505 687,2506 687.5,2505 688,2518 688.5,2515 689,2506 689.5,2512 690,2506 690.5,2517 691,2522 691.5,2508 692,2525 692.5,2524 693,2529 693.5,2517 694,2518 694.5,2506 695,2527 695.5,2525 696,2521 696.5,2525 697,2512 697.5,2526 698,2523 698.5,2513 699,2525 699.5,2520 700,2524 700.5,2513 701,2527 701.5,2518 702,2527 702.5,2530 703,2512 703.5,2524 704,2508 704.5,2517 705,2530 705.5,2524 706,2525 706.5,2520 707,2518 707.5,2513 708,2524 708.5,2531 709,2520 709.5,2520 710,2527 710.5,2512 711,2524 711.5,2530 712,2512 712.5,2532 713,2528 713.5,2533 714,2512 714.5,2521 715,2527 715.5,2538 716,2515 716.5,2531 717,2513 717.5,2525 718,2529 718.5,2527 719,2528 719.5,2520 720,2528 720.5,2528 721,2523 721.5,2523 722,2514 722.5,2503 723,2528 723.5,2523 724,2527 724.5,2524 725,2522 725.5,2517 726,2519 726.5,2514 727,2513 727.5,2517 728,2516 728.5,2520 729,2518 729.5,2512 730,2509 730.5,2515 731,2506 731.5,2506 732,2509 732.5,2513 733,2505 733.5,2503 734,2509 734.5,2510 735,2507 735.5,2511 736,2504 736.5,2516 737,2510 737.5,2502 738,2503 738.5,2514 739,2501 739.5,2512 740,2517 740.5,2512 741,2523 741.5,2522 742,2516 742.5,2515 743,2519 743.5,2521 744,2525 744.5,2514 745,2515 745.5,2520 746,2524 746.5,2523 747,2530 747.5,2521 748,2520 748.5,2525 749,2533 749.5,2526 750,2524 750.5,2524 751,2512 751.5,2512 752,2524 752.5,2517 753,2529 753.5,2525 754,2530 754.5,2529 755,2522 755.5,2531 756,2519 756.5,2531 757,2525 757.5,2533 758,2525 758.5,2519 759,2532 759.5,2530 760,2531 760.5,2525 761,2532 761.5,2516 762,2523 762.5,2515 763,2539 763.5,2519 764,2522 764.5,2523 765,2521 765.5,2522 766,2526 766.5,2520 767,2521 767.5,2517 768,2518 768.5,2517 769,2521 769.5,2517 770,2519 770.5,2530 771,2525 771.5,2527 772,2529 772.5,2518 773,2521 773.5,2523 774,2530 774.5,2526 775,2528 775.5,2524 776,2520 776.5,2524 777,2519 777.5,2528 778,2526 778.5,2520 779,2526 779.5,2517 780,2529 780.5,2516 781,2523 781.5,2521 782,2515 782.5,2523 783,2513 783.5,2513 784,2518 784.5,2530 785,2513 785.5,2516 786,2518 786.5,2526 787,2525 787.5,2530 788,2522 788.5,2520 789,2530 789.5,2521 790,2517 790.5,2516 791,2516 791.5,2523 792,2520 792.5,2513 793,2520 793.5,2513 794,2526 794.5,2525 795,2526 795.5,2529 796,2525 796.5,2515 797,2516 797.5,2536 798,2520 798.5,2528 799,2515 799.5,2526 800,2515 800.5,2525 801,2518 801.5,2524 802,2515 802.5,2517 803,2524 803.5,2518 804,2515 804.5,2520 805,2524 805.5,2520 806,2513 806.5,2529 807,2512 807.5,2522 808,2520 808.5,2522 809,2527 809.5,2520 810,2512 810.5,2524 811,2507 811.5,2520 812,2513 812.5,2513 813,2519 813.5,2516 814,2515 814.5,2529 815,2523 815.5,2513 816,2511 816.5,2511 817,2515 817.5,2525 818,2525 818.5,2521 819,2516 819.5,2526 820,2523 820.5,2519 821,2521 821.5,2527 822,2517 822.5,2525 823,2526 823.5,2508 824,2516 824.5,2523 825,2514 825.5,2509 826,2519 826.5,2524 827,2512 827.5,2520 828,2523 828.5,2516 829,2521 829.5,2515 830,2514 830.5,2516 831,2512 831.5,2519 832,2515 832.5,2515 833,2517 833.5,2509 834,2512 834.5,2515 835,2516 835.5,2513 836,2502 836.5,2508 837,2499 837.5,2502 838,2500 838.5,2498 839,2499 839.5,2497 840,2507 840.5,2501 841,2498 841.5,2495 842,2502 842.5,2495 843,2498 843.5,2491 844,2487 844.5,2495 845,2493 845.5,2492 846,2491 846.5,2484 847,2479 847.5,2487 848,2478 848.5,2482 849,2468 849.5,2464 850,2462 850.5,2472 851,2464 851.5,2459 852,2457 852.5,2454 853,2439 853.5,2427 854,2434 854.5,2430 855,2423 855.5,2407 856,2412 856.5,2403 857,2402 857.5,2394 858,2393 858.5,2372 859,2366 859.5,2351 860,2356 860.5,2344 861,2347 861.5,2327 862,2331 862.5,2332 863,2319 863.5,2318 864,2322 864.5,2318 865,2300 865.5,2308 866,2302 866.5,2303 867,2291 867.5,2312 868,2307 868.5,2304 869,2310 869.5,2303 870,2315 870.5,2318 871,2318 871.5,2314 872,2325 872.5,2317 873,2320 873.5,2324 874,2316 874.5,2317 875,2310 875.5,2299 876,2285 876.5,2290 877,2276 877.5,2267 878,2240 878.5,2226 879,2212 879.5,2207 880,2194 880.5,2167 881,2160 881.5,2139 882,2116 882.5,2112 883,2092 883.5,2074 884,2061 884.5,2055 885,2054 885.5,2066 886,2066 886.5,2075 887,2092 887.5,2094 888,2122 888.5,2132 889,2159 889.5,2183 890,2212 890.5,2227 891,2255 891.5,2260 892,2292 892.5,2296 893,2306 893.5,2325 894,2345 894.5,2345 895,2355 895.5,2377 896,2385 896.5,2388 897,2404 897.5,2408 898,2401 898.5,2410 899,2420 899.5,2420 900,2423 900.5,2429 901,2430 901.5,2446 902,2446 902.5,2444 903,2452 903.5,2445 904,2452 904.5,2452 905,2449 905.5,2453 906,2456 906.5,2453 907,2461 907.5,2458 908,2467 908.5,2460 909,2465 909.5,2451 910,2469 910.5,2463 911,2468 911.5,2460 912,2462 912.5,2459 913,2459 913.5,2462 914,2464 914.5,2454 915,2455 915.5,2460 916,2454 916.5,2448 917,2453 917.5,2449 918,2455 918.5,2442 919,2446 919.5,2442 920,2445 920.5,2442 921,2435 921.5,2427 922,2431 922.5,2419 923,2422 923.5,2421 924,2414 924.5,2415 925,2405 925.5,2407 926,2398 926.5,2405 927,2397 927.5,2390 928,2389 928.5,2382 929,2385 929.5,2377 930,2378 930.5,2379 931,2383 931.5,2372 932,2381 932.5,2373 933,2368 933.5,2378 934,2370 934.5,2372 935,2385 935.5,2379 936,2385 936.5,2385 937,2382 937.5,2385 938,2385 938.5,2387 939,2394 939.5,2395 940,2408 940.5,2414 941,2415 941.5,2416 942,2420 942.5,2425 943,2423 943.5,2429 944,2436 944.5,2437 945,2433 945.5,2442 946,2439 946.5,2447 947,2441 947.5,2455 948,2454 948.5,2457 949,2460 949.5,2458 950,2456 950.5,2469 951,2472 951.5,2467 952,2477 952.5,2473 953,2475 953.5,2478 954,2478 954.5,2481 955,2491 955.5,2479 956,2486 956.5,2492 957,2495 957.5,2489 958,2495 958.5,2494 959,2502 959.5,2502 960,2492 960.5,2498 961,2507 961.5,2505 962,2511 962.5,2508 963,2500 963.5,2500 964,2515 964.5,2500 965,2504 965.5,2510 966,2509 966.5,2505 967,2514 967.5,2517 968,2530 968.5,2523 969,2515 969.5,2505 970,2520 970.5,2517 971,2510 971.5,2516 972,2508 972.5,2516 973,2517 973.5,2525 974,2513 974.5,2513 975,2511 975.5,2526 976,2517 976.5,2522 977,2527 977.5,2524 978,2512 978.5,2517 979,2513 979.5,2511 980,2512 980.5,2517 981,2525 981.5,2514 982,2512 982.5,2520 983,2514 983.5,2518 984,2514 984.5,2517 985,2521 985.5,2526 986,2522 986.5,2513 987,2515 987.5,2515 988,2514 988.5,2518 989,2524 989.5,2519 990,2520 990.5,2507 991,2520 991.5,2508 992,2513 992.5,2510 993,2515 993.5,2513 994,2504 994.5,2496 995,2508 995.5,2503 996,2505 996.5,2494 997,2502 997.5,2496 998,2498 998.5,2485 999,2485 999.5,2486 1000,2482 1000.5,2481 1001,2472 1001.5,2465 1002,2464 1002.5,2475 1003,2458 1003.5,2469 1004,2467 1004.5,2448 1005,2449 1005.5,2451 1006,2454 1006.5,2446 1007,2436 1007.5,2432 1008,2432 1008.5,2431 1009,2439 1009.5,2425 1010,2427 1010.5,2430 1011,2415 1011.5,2411 1012,2406 1012.5,2420 1013,2424 1013.5,2421 1014,2423 1014.5,2418 1015,2430 1015.5,2440 1016,2433 1016.5,2450 1017,2432 1017.5,2445 1018,2451 1018.5,2439 1019,2458 1019.5,2452 1020,2453 1020.5,2444 1021,2469 1021.5,2466 1022,2467 1022.5,2478 1023,2467 1023.5,2474 1024,2473 1024.5,2477 1025,2485 1025.5,2474 1026,2490 1026.5,2488 1027,2478 1027.5,2481 1028,2483 1028.5,2478 1029,2478 1029.5,2479 1030,2469 1030.5,2464 1031,2462 1031.5,2460 1032,2450 1032.5,2435 1033,2435 1033.5,2423 1034,2420 1034.5,2408 1035,2413 1035.5,2413 1036,2413 1036.5,2412 1037,2426 1037.5,2428 1038,2424 1038.5,2442 1039,2442 1039.5,2453 1040,2478 1040.5,2479 1041,2483 1041.5,2489 1042,2498 1042.5,2504 1043,2506 1043.5,2511 1044,2511 1044.5,2514 1045,2506 1045.5,2511 1046,2503 1046.5,2508 1047,2494 1047.5,2518 1048,2520 1048.5,2515 1049,2513 1049.5,2517 1050,2518 1050.5,2512 1051,2522 1051.5,2516 1052,2521 1052.5,2513 1053,2519 1053.5,2515 1054,2519 1054.5,2522 1055,2508 1055.5,2509 1056,2512 1056.5,2522 1057,2516 1057.5,2526 1058,2514 1058.5,2512 1059,2516 1059.5,2519 1060,2525 1060.5,2527 1061,2515 1061.5,2513 1062,2522 1062.5,2522 1063,2527 1063.5,2514 1064,2527 1064.5,2524 1065,2521 1065.5,2526 1066,2523 1066.5,2526 1067,2521 1067.5,2517 1068,2522 1068.5,2517 1069,2525 1069.5,2527 1070,2526 1070.5,2519 1071,2527 1071.5,2519 1072,2522 1072.5,2524 1073,2528 1073.5,2525 1074,2522 1074.5,2517 1075,2517 1075.5,2528 1076,2528 1076.5,2525 1077,2526 1077.5,2522 1078,2524 1078.5,2528 1079,2518 1079.5,2522 1080,2529 1080.5,2526 1081,2526 1081.5,2517 1082,2522 1082.5,2521 1083,2519 1083.5,2525 1084,2518 1084.5,2530 1085,2522 1085.5,2526 1086,2519 1086.5,2517 1087,2532 1087.5,2521 1088,2528 1088.5,2521 1089,2529 1089.5,2534 1090,2526 1090.5,2523 1091,2519 1091.5,2513 1092,2527 1092.5,2518 1093,2514 1093.5,2535 1094,2536 1094.5,2516 1095,2530 1095.5,2532 1096,2519 1096.5,2529 1097,2512 1097.5,2515 1098,2525 1098.5,2522 1099,2514 1099.5,2523 1100,2528 1100.5,2517 1101,2515 1101.5,2512 1102,2529 1102.5,2517 1103,2523 1103.5,2519 1104,2523 1104.5,2534 1105,2531 1105.5,2527 1106,2522 1106.5,2521 1107,2533 1107.5,2512 1108,2527 1108.5,2531 1109,2521 1109.5,2516 1110,2514 1110.5,2531 1111,2522 1111.5,2522 1112,2530 1112.5,2527 1113,2514 1113.5,2515 1114,2531 1114.5,2527 1115,2525 1115.5,2528 1116,2529 1116.5,2513 1117,2516 1117.5,2530 1118,2518 1118.5,2526 1119,2516 1119.5,2517 1120,2518 1120.5,2531 1121,2528 1121.5,2521 1122,2524 1122.5,2517 1123,2515 1123.5,2521 1124,2522 1124.5,2531 1125,2519 1125.5,2537 1126,2525 1126.5,2517 1127,2520 1127.5,2518 1128,2524 1128.5,2513 1129,2523 1129.5,2529 1130,2524 1130.5,2518 1131,2524 1131.5,2519 1132,2523 1132.5,2529 1133,2519 1133.5,2527 1134,2517 1134.5,2527 1135,2515 1135.5,2528 1136,2511 1136.5,2512 1137,2519 1137.5,2515 1138,2508 1138.5,2512 1139,2509 1139.5,2506 1140,2508 1140.5,2521 1141,2513 1141.5,2515 1142,2503 1142.5,2508 1143,2510 1143.5,2510 1144,2514 1144.5,2509 1145,2513 1145.5,2507 1146,2501 1146.5,2498 1147,2509 1147.5,2496 1148,2499 1148.5,2500 1149,2501 1149.5,2503 1150,2498 1150.5,2503 1151,2496 1151.5,2496 1152,2502 1152.5,2500 1153,2493 1153.5,2494 1154,2497 1154.5,2490 1155,2495 1155.5,2489 1156,2498 1156.5,2501 1157,2493 1157.5,2489 1158,2498 1158.5,2506 1159,2508 1159.5,2504 1160,2509 1160.5,2506 1161,2500 1161.5,2509 1162,2494 1162.5,2518 1163,2518 1163.5,2520 1164,2518 1164.5,2518 1165,2513 1165.5,2514 1166,2525 1166.5,2524 1167,2514 1167.5,2513 1168,2519 1168.5,2514 1169,2526 1169.5,2528 1170,2516 1170.5,2526 1171,2523 1171.5,2520 1172,2511 1172.5,2520 1173,2515 1173.5,2512 1174,2517 1174.5,2511 1175,2529 1175.5,2503 1176,2521 1176.5,2528 1177,2512 1177.5,2517 1178,2522 1178.5,2515 1179,2524 1179.5,2514 1180,2516 1180.5,2528 1181,2530 1181.5,2516 1182,2525 1182.5,2515 1183,2511 1183.5,2508 1184,2520 1184.5,2509 1185,2510 1185.5,2516 1186,2512 1186.5,2511 1187,2509 1187.5,2496 1188,2500 1188.5,2503 1189,2492 1189.5,2500 1190,2491 1190.5,2498 1191,2502 1191.5,2498 1192,2503 1192.5,2508 1193,2510 1193.5,2510 1194,2513 1194.5,2514 1195,2507 1195.5,2515 1196,2512 1196.5,2512 1197,2516 1197.5,2525 1198,2512 1198.5,2521 1199,2513 1199.5,2526 1200,2521 1200.5,2528 1201,2523 1201.5,2514 1202,2526 1202.5,2512 1203,2514 1203.5,2519 1204,2515 1204.5,2521 1205,2537 1205.5,2519 1206,2517 1206.5,2513 1207,2516 1207.5,2524 1208,2514 1208.5,2514 1209,2518 1209.5,2514 1210,2514 1210.5,2522 1211,2525 1211.5,2515 1212,2527 1212.5,2515 1213,2515 1213.5,2527 1214,2519 1214.5,2526 1215,2520 1215.5,2516 1216,2523 1216.5,2526 1217,2523 1217.5,2519 1218,2526 1218.5,2528 1219,2525 1219.5,2529 1220,2523 1220.5,2524 1221,2527 1221.5,2517 1222,2525 1222.5,2523 1223,2520 1223.5,2527 1224,2521 1224.5,2529 1225,2524 1225.5,2530 1226,2507 1226.5,2518 1227,2523 1227.5,2519 1228,2518 1228.5,2528 1229,2520 1229.5,2521 1230,2531 1230.5,2516 1231,2522 1231.5,2530 1232,2525 1232.5,2519 1233,2519 1233.5,2524 1234,2528 1234.5,2529 1235,2520 1235.5,2527 1236,2517 1236.5,2525 1237,2517 1237.5,2525 1238,2526 1238.5,2517 1239,2526 1239.5,2520 1240,2526 1240.5,2523 1241,2519 1241.5,2518 1242,2518 1242.5,2525 1243,2522 1243.5,2523 1244,2520 1244.5,2518 1245,2521 1245.5,2527 1246,2521 1246.5,2520 1247,2526 1247.5,2520 1248,2521 1248.5,2521 1249,2528 1249.5,2519 1250,2518 1250.5,2520 1251,2523 1251.5,2521 1252,2540 1252.5,2529 1253,2518 1253.5,2527 1254,2519 1254.5,2526 1255,2522 1255.5,2519 1256,2525 1256.5,2524 1257,2530 1257.5,2516 1258,2529 1258.5,2530 1259,2528 1259.5,2525 1260,2515 1260.5,2519 1261,2527 1261.5,2523 1262,2526 1262.5,2522 1263,2526 1263.5,2527 1264,2524 1264.5,2526 1265,2531 1265.5,2530 1266,2528 1266.5,2525 1267,2518 1267.5,2524 1268,2525 1268.5,2525 1269,2525 1269.5,2522 1270,2517 1270.5,2525 1271,2531 1271.5,2526 1272,2518 1272.5,2519 1273,2521 1273.5,2518 1274,2520 1274.5,2521 1275,2523 1275.5,2520 1276,2539 1276.5,2531 1277,2529 1277.5,2519 1278,2520 1278.5,2522 1279,2524 1279.5,2531 1280,2531 1280.5,2524 1281,2521 1281.5,2524 1282,2524 1282.5,2522 1283,2530 1283.5,2525 1284,2527 1284.5,2529 1285,2519 1285.5,2524 1286,2527 1286.5,2524 1287,2529 1287.5,2522 1288,2527 1288.5,2530 1289,2528 1289.5,2523 1290,2527 1290.5,2525 1291,2525 1291.5,2529 1292,2529 1292.5,2527 1293,2522 1293.5,2525 1294,2528 1294.5,2519 1295,2521 1295.5,2524 1296,2519 1296.5,2520 1297,2523 1297.5,2527 1298,2525 1298.5,2525 1299,2524 1299.5,2527 1300,2520 1300.5,2520 1301,2529 1301.5,2521 1302,2522 1302.5,2526 1303,2521 1303.5,2519 1304,2532 1304.5,2520 1305,2530 1305.5,2531 1306,2527 1306.5,2533 1307,2518 1307.5,2534 1308,2528 1308.5,2519 1309,2519 1309.5,2538 1310,2520 1310.5,2518 1311,2528 1311.5,2529 1312,2518 1312.5,2534 1313,2528 1313.5,2520 1314,2518 1314.5,2525 1315,2525 1315.5,2528 1316,2532 1316.5,2532 1317,2525 1317.5,2529 1318,2527 1318.5,2521 1319,2522 1319.5,2533 1320,2529 1320.5,2532 1321,2523 1321.5,2525 1322,2529 1322.5,2532 1323,2518 1323.5,2523 1324,2522 1324.5,2533 1325,2521 1325.5,2528 1326,2533 1326.5,2531 1327,2527 1327.5,2518 1328,2527 1328.5,2520 1329,2528 1329.5,2524 1330,2519 1330.5,2521 1331,2533 1331.5,2531 1332,2531 1332.5,2525 1333,2523 1333.5,2527 1334,2533 1334.5,2520 1335,2521 1335.5,2521 1336,2517 1336.5,2518 1337,2528 1337.5,2526 1338,2529 1338.5,2525 1339,2533 1339.5,2523 1340,2522 1340.5,2529 1341,2524 1341.5,2518 1342,2527 1342.5,2526 1343,2516 1343.5,2521 1344,2518 1344.5,2523 1345,2534 1345.5,2528 1346,2520 1346.5,2528 1347,2522 1347.5,2519 1348,2529 1348.5,2524 1349,2526 1349.5,2516 1350,2515 1350.5,2533 1351,2516 1351.5,2519 1352,2518 1352.5,2520 1353,2527 1353.5,2522 1354,2518 1354.5,2519 1355,2530 1355.5,2519 1356,2530 1356.5,2522 1357,2524 1357.5,2516 1358,2521 1358.5,2523 1359,2515 1359.5,2525 1360,2523 1360.5,2530 1361,2528 1361.5,2525 1362,2533 1362.5,2520 1363,2527 1363.5,2530 1364,2525 1364.5,2529 1365,2526 1365.5,2525 1366,2525 1366.5,2533 1367,2516 1367.5,2530 1368,2524 1368.5,2518 1369,2522 1369.5,2531 1370,2522 1370.5,2521 1371,2521 1371.5,2532 1372,2536 1372.5,2526 1373,2517 1373.5,2520 1374,2525 1374.5,2517 1375,2518 1375.5,2529 1376,2524 1376.5,2527 1377,2527 1377.5,2523 1378,2521 1378.5,2528 1379,2524 1379.5,2527 1380,2526 1380.5,2526 1381,2524 1381.5,2531 1382,2519 1382.5,2523 1383,2527 1383.5,2520 1384,2524 1384.5,2524 1385,2526 1385.5,2528 1386,2521 1386.5,2530 1387,2519 1387.5,2531 1388,2525 1388.5,2522 1389,2517 1389.5,2527 1390,2516 1390.5,2528 1391,2522 1391.5,2527 1392,2525 1392.5,2529 1393,2521 1393.5,2519 1394,2517 1394.5,2519 1395,2530 1395.5,2530 1396,2519 1396.5,2527 1397,2527 1397.5,2523 1398,2521 1398.5,2521 1399,2511 1399.5,2517 1400,2514 1400.5,2506 1401,2523 1401.5,2512 1402,2505 1402.5,2509 1403,2510 1403.5,2504 1404,2505 1404.5,2507 1405,2499 1405.5,2516 1406,2494 1406.5,2500 1407,2494 1407.5,2512 1408,2508 1408.5,2494 1409,2488 1409.5,2488 1410,2489 1410.5,2493 1411,2482 1411.5,2490 1412,2482 1412.5,2488 1413,2491 1413.5,2475 1414,2472 1414.5,2476 1415,2473 1415.5,2465 1416,2463 1416.5,2462 1417,2470 1417.5,2459 1418,2456 1418.5,2467 1419,2453 1419.5,2462 1420,2449 1420.5,2457 1421,2464 1421.5,2451 1422,2451 1422.5,2441 1423,2450 1423.5,2448 1424,2445 1424.5,2436 1425,2442 1425.5,2443 1426,2441 1426.5,2436 1427,2433 1427.5,2435 1428,2449 1428.5,2438 1429,2448 1429.5,2453 1430,2457 1430.5,2451 1431,2457 1431.5,2462 1432,2460 1432.5,2454 1433,2461 1433.5,2463 1434,2465 1434.5,2463 1435,2470 1435.5,2470 1436,2477 1436.5,2482 1437,2477 1437.5,2495 1438,2481 1438.5,2491 1439,2487 1439.5,2489 1440,2496 1440.5,2499 1441,2493 1441.5,2502 1442,2503 1442.5,2502 1443,2505 1443.5,2504 1444,2501 1444.5,2508 1445,2504 1445.5,2513 1446,2507 1446.5,2513 1447,2508 1447.5,2517 1448,2518 1448.5,2517 1449,2510 1449.5,2511 1450,2512 1450.5,2522 1451,2513 1451.5,2513 1452,2514 1452.5,2517 1453,2512 1453.5,2517 1454,2524 1454.5,2520 1455,2514 1455.5,2516 1456,2520 1456.5,2525 1457,2524 1457.5,2514 1458,2523 1458.5,2517 1459,2520 1459.5,2518 1460,2514 1460.5,2524 1461,2519 1461.5,2520 1462,2515 1462.5,2522 1463,2522 1463.5,2523 1464,2512 1464.5,2522 1465,2510 1465.5,2519 1466,2521 1466.5,2521 1467,2515 1467.5,2529 1468,2529 1468.5,2529 1469,2516 1469.5,2513 1470,2512 1470.5,2516 1471,2514 1471.5,2519 1472,2526 1472.5,2536 1473,2526 1473.5,2527 1474,2529 1474.5,2527 1475,2516 1475.5,2510 1476,2520 1476.5,2520 1477,2517 1477.5,2519 1478,2513 1478.5,2514 1479,2522 1479.5,2521 1480,2513 1480.5,2516 1481,2522 1481.5,2525 1482,2510 1482.5,2514 1483,2513 1483.5,2521 1484,2522 1484.5,2510 1485,2525 1485.5,2525 1486,2510 1486.5,2523 1487,2513 1487.5,2517 1488,2509 1488.5,2518 1489,2519 1489.5,2512 1490,2514 1490.5,2509 1491,2521 1491.5,2517 1492,2527 1492.5,2512 1493,2526 1493.5,2519 1494,2526 1494.5,2525 1495,2516 1495.5,2511 1496,2525 1496.5,2513 1497,2520 1497.5,2523 1498,2506 1498.5,2516 1499,2515 1499.5,2509 1500,2518 1500.5,2515 1501,2511 1501.5,2519 1502,2513 1502.5,2512 1503,2515 1503.5,2516 1504,2513 1504.5,2521 1505,2506 1505.5,2514 1506,2507 1506.5,2515 1507,2507 1507.5,2516 1508,2518 1508.5,2514 1509,2514 1509.5,2508 1510,2511 1510.5,2514 1511,2508 1511.5,2512 1512,2515 1512.5,2513 1513,2508 1513.5,2509 1514,2515 1514.5,2508 1515,2504 1515.5,2495 1516,2507 1516.5,2506 1517,2514 1517.5,2506 1518,2509 1518.5,2520 1519,2509 1519.5,2509 1520,2507 1520.5,2508 1521,2511 1521.5,2501 1522,2513 1522.5,2498 1523,2505 1523.5,2503 1524,2506 1524.5,2505 1525,2510 1525.5,2504 1526,2496 1526.5,2496 1527,2513 1527.5,2509 1528,2498 1528.5,2504 1529,2496 1529.5,2500 1530,2502 1530.5,2507 1531,2497 1531.5,2498 1532,2507 1532.5,2501 1533,2497 1533.5,2498 1534,2496 1534.5,2508 1535,2506 1535.5,2511 1536,2504 1536.5,2503 1537,2507 1537.5,2495 1538,2497 1538.5,2504 1539,2521 1539.5,2498 1540,2511 1540.5,2507 1541,2505 1541.5,2506 1542,2504 1542.5,2502 1543,2506 1543.5,2504 1544,2509 1544.5,2508 1545,2504 1545.5,2507 1546,2514 1546.5,2513 1547,2512 1547.5,2515 1548,2513 1548.5,2509 1549,2505 1549.5,2512 1550,2513 1550.5,2506 1551,2514 1551.5,2515 1552,2511 1552.5,2511 1553,2516 1553.5,2503 1554,2504 1554.5,2520 1555,2513 1555.5,2518 1556,2502 1556.5,2519 1557,2519 1557.5,2515 1558,2508 1558.5,2509 1559,2506 1559.5,2505 1560,2520 1560.5,2519 1561,2519 1561.5,2501 1562,2511 1562.5,2508 1563,2510 1563.5,2517 1564,2518 1564.5,2501 1565,2514 1565.5,2517 1566,2514 1566.5,2516 1567,2506 1567.5,2500 1568,2515 1568.5,2512 1569,2515 1569.5,2515 1570,2502 1570.5,2516 1571,2514 1571.5,2501 1572,2511 1572.5,2515 1573,2507 1573.5,2503 1574,2502 1574.5,2506 1575,2511 1575.5,2505 1576,2501 1576.5,2505 1577,2517 1577.5,2518 1578,2518 1578.5,2514 1579,2506 1579.5,2522 1580,2521 1580.5,2516 1581,2512 1581.5,2514 1582,2512 1582.5,2523 1583,2519 1583.5,2517 1584,2520 1584.5,2523 1585,2520 1585.5,2518 1586,2525 1586.5,2526 1587,2519 1587.5,2524 1588,2515 1588.5,2519 1589,2523 1589.5,2520 1590,2521 1590.5,2529 1591,2526 1591.5,2528 1592,2522 1592.5,2525 1593,2525 1593.5,2527 1594,2520 1594.5,2523 1595,2524 1595.5,2519 1596,2521 1596.5,2523 1597,2521 1597.5,2521 1598,2524 1598.5,2529 1599,2526 1599.5,2528 1600,2522 1600.5,2528 1601,2518 1601.5,2530 1602,2519 1602.5,2516 1603,2530 1603.5,2515 1604,2515 1604.5,2515 1605,2530 1605.5,2514 1606,2518 1606.5,2531 1607,2521 1607.5,2528 1608,2522 1608.5,2520 1609,2530 1609.5,2516 1610,2530 1610.5,2530 1611,2528 1611.5,2515 1612,2531 1612.5,2520 1613,2531 1613.5,2528 1614,2529 1614.5,2524 1615,2517 1615.5,2517 1616,2527 1616.5,2510 1617,2527 1617.5,2524 1618,2514 1618.5,2524 1619,2516 1619.5,2529 1620,2521 1620.5,2516 1621,2525 1621.5,2517 1622,2514 1622.5,2527 1623,2524 1623.5,2520 1624,2526 1624.5,2516 1625,2514 1625.5,2536 1626,2520 1626.5,2522 1627,2515 1627.5,2517 1628,2515 1628.5,2532 1629,2524 1629.5,2515 1630,2530 1630.5,2531 1631,2519 1631.5,2534 1632,2530 1632.5,2518 1633,2529 1633.5,2531 1634,2520 1634.5,2517 1635,2541 1635.5,2518 1636,2523 1636.5,2519 1637,2524 1637.5,2532 1638,2513 1638.5,2514 1639,2530 1639.5,2532 1640,2519 1640.5,2524 1641,2531 1641.5,2518 1642,2529 1642.5,2526 1643,2522 1643.5,2526 1644,2529 1644.5,2503 1645,2512 1645.5,2514 1646,2532 1646.5,2521 1647,2518 1647.5,2517 1648,2528 1648.5,2519 1649,2520 1649.5,2511 1650,2515 1650.5,2520 1651,2515 1651.5,2515 1652,2512 1652.5,2521 1653,2530 1653.5,2514 1654,2521 1654.5,2525 1655,2522 1655.5,2523 1656,2517 1656.5,2518 1657,2509 1657.5,2516 1658,2521 1658.5,2520 1659,2511 1659.5,2520 1660,2512 1660.5,2520 1661,2505 1661.5,2511 1662,2508 1662.5,2513 1663,2507 1663.5,2512 1664,2507 1664.5,2510 1665,2505 1665.5,2510 1666,2506 1666.5,2509 1667,2516 1667.5,2509 1668,2512 1668.5,2513 1669,2499 1669.5,2513 1670,2509 1670.5,2506 1671,2510 1671.5,2503 1672,2497 1672.5,2494 1673,2499 1673.5,2500 1674,2489 1674.5,2507 1675,2482 1675.5,2513 1676,2499 1676.5,2497 1677,2502 1677.5,2505 1678,2496 1678.5,2492 1679,2494 1679.5,2500 1680,2501 1680.5,2498 1681,2502 1681.5,2489 1682,2501 1682.5,2498 1683,2497 1683.5,2488 1684,2476 1684.5,2485 1685,2494 1685.5,2484 1686,2497 1686.5,2495 1687,2496 1687.5,2489 1688,2491 1688.5,2487 1689,2483 1689.5,2493 1690,2494 1690.5,2495 1691,2479 1691.5,2487 1692,2489 1692.5,2482 1693,2486 1693.5,2480 1694,2497 1694.5,2489 1695,2484 1695.5,2496 1696,2501 1696.5,2500 1697,2492 1697.5,2492 1698,2502 1698.5,2490 1699,2495 1699.5,2492 1700,2494 1700.5,2497 1701,2490 1701.5,2506 1702,2498 1702.5,2498 1703,2502 1703.5,2505 1704,2507 1704.5,2502 1705,2502 1705.5,2507 1706,2511 1706.5,2505 1707,2501 1707.5,2512 1708,2507 1708.5,2512 1709,2510 1709.5,2501 1710,2516 1710.5,2513 1711,2508 1711.5,2511 1712,2505 1712.5,2514 1713,2508 1713.5,2506 1714,2514 1714.5,2508 1715,2514 1715.5,2513 1716,2516 1716.5,2518 1717,2515 1717.5,2514 1718,2514 1718.5,2523 1719,2524 1719.5,2514 1720,2517 1720.5,2518 1721,2516 1721.5,2526 1722,2515 1722.5,2514 1723,2514 1723.5,2514 1724,2521 1724.5,2526 1725,2520 1725.5,2525 1726,2516 1726.5,2519 1727,2516 1727.5,2528 1728,2525 1728.5,2522 1729,2533 1729.5,2525 1730,2527 1730.5,2525 1731,2525 1731.5,2527 1732,2524 1732.5,2521 1733,2525 1733.5,2528 1734,2525 1734.5,2525 1735,2517 1735.5,2532 1736,2519 1736.5,2521 1737,2528 1737.5,2523 1738,2523 1738.5,2528 1739,2528 1739.5,2529 1740,2521 1740.5,2532 1741,2520 1741.5,2527 1742,2529 1742.5,2517 1743,2522 1743.5,2522 1744,2521 1744.5,2528 1745,2526 1745.5,2518 1746,2527 1746.5,2518 1747,2517 1747.5,2525 1748,2519 1748.5,2521 1749,2514 1749.5,2530 1750,2514 1750.5,2519 1751,2514 1751.5,2527 1752,2524 1752.5,2513 1753,2529 1753.5,2516 1754,2520 1754.5,2521 1755,2518 1755.5,2514 1756,2521 1756.5,2522 1757,2523 1757.5,2514 1758,2515 1758.5,2522 1759,2525 1759.5,2522 1760,2519 1760.5,2523 1761,2517 1761.5,2520 1762,2523 1762.5,2526 1763,2527 1763.5,2523 1764,2522 1764.5,2521 1765,2519 1765.5,2529 1766,2513 1766.5,2529 1767,2525 1767.5,2515 1768,2513 1768.5,2530 1769,2524 1769.5,2518 1770,2529 1770.5,2512 1771,2514 1771.5,2528 1772,2521 1772.5,2527 1773,2518 1773.5,2524 1774,2517 1774.5,2522 1775,2527 1775.5,2512 1776,2528 1776.5,2521 1777,2526 1777.5,2523 1778,2518 1778.5,2519 1779,2518 1779.5,2524 1780,2514 1780.5,2515 1781,2519 1781.5,2531 1782,2537 1782.5,2524 1783,2527 1783.5,2530 1784,2524 1784.5,2532 1785,2526 1785.5,2532 1786,2520 1786.5,2528 1787,2532 1787.5,2528 1788,2530 1788.5,2524 1789,2525 1789.5,2529 1790,2519 1790.5,2519 1791,2531 1791.5,2518 1792,2524 1792.5,2532 1793,2532 1793.5,2532 1794,2525 1794.5,2532 1795,2521 1795.5,2523 1796,2522 1796.5,2532 1797,2530 1797.5,2529 1798,2515 1798.5,2530 1799,2516 1799.5,2518 1800,2524 1800.5,2524 1801,2520 1801.5,2517 1802,2521 1802.5,2519 1803,2526 1803.5,2517 1804,2529 1804.5,2522 1805,2515 1805.5,2527 1806,2526 1806.5,2524 1807,2521 1807.5,2519 1808,2524 1808.5,2522 1809,2524 1809.5,2529 1810,2523 1810.5,2524 1811,2527 1811.5,2514 1812,2512 1812.5,2523 1813,2523 1813.5,2523 1814,2519 1814.5,2525 1815,2524 1815.5,2528 1816,2524 1816.5,2529 1817,2518 1817.5,2512 1818,2522 1818.5,2527 1819,2518 1819.5,2513 1820,2529 1820.5,2527 1821,2521 1821.5,2514 1822,2524 1822.5,2524 1823,2518 1823.5,2518 1824,2516 1824.5,2527 1825,2525 1825.5,2524 1826,2525 1826.5,2528 1827,2516 1827.5,2526 1828,2519 1828.5,2518 1829,2527 1829.5,2524 1830,2526 1830.5,2527 1831,2519 1831.5,2519 1832,2524 1832.5,2516 1833,2517 1833.5,2522 1834,2522 1834.5,2523 1835,2514 1835.5,2525 1836,2516 1836.5,2523 1837,2518 1837.5,2512 1838,2522 1838.5,2528 1839,2518 1839.5,2513 1840,2521 1840.5,2520 1841,2526 1841.5,2517 1842,2525 1842.5,2519 1843,2525 1843.5,2518 1844,2525 1844.5,2531 1845,2521 1845.5,2511 1846,2530 1846.5,2521 1847,2529 1847.5,2512 1848,2511 1848.5,2529 1849,2530 1849.5,2525 1850,2522 1850.5,2517 1851,2529 1851.5,2528 1852,2522 1852.5,2524 1853,2538 1853.5,2521 1854,2527 1854.5,2522 1855,2529 1855.5,2528 1856,2525 1856.5,2529 1857,2518 1857.5,2528 1858,2523 1858.5,2514 1859,2521 1859.5,2527 1860,2525 1860.5,2532 1861,2523 1861.5,2518 1862,2526 1862.5,2518 1863,2526 1863.5,2527 1864,2513 1864.5,2526 1865,2523 1865.5,2517 1866,2520 1866.5,2528 1867,2518 1867.5,2516 1868,2529 1868.5,2512 1869,2520 1869.5,2518 1870,2517 1870.5,2525 1871,2517 1871.5,2527 1872,2520 1872.5,2523 1873,2519 1873.5,2516 1874,2529 1874.5,2517 1875,2523 1875.5,2520 1876,2519 1876.5,2524 1877,2525 1877.5,2515 1878,2524 1878.5,2514 1879,2524 1879.5,2529 1880,2528 1880.5,2529 1881,2517 1881.5,2520 1882,2529 1882.5,2525 1883,2510 1883.5,2517 1884,2520 1884.5,2523 1885,2528 1885.5,2527 1886,2529 1886.5,2528 1887,2530 1887.5,2521 1888,2524 1888.5,2530 1889,2529 1889.5,2530 1890,2525 1890.5,2525 1891,2531 1891.5,2525 1892,2518 1892.5,2527 1893,2520 1893.5,2520 1894,2527 1894.5,2531 1895,2526 1895.5,2523 1896,2529 1896.5,2530 1897,2528 1897.5,2528 1898,2519 1898.5,2519 1899,2525 1899.5,2523 1900,2524 1900.5,2529 1901,2530 1901.5,2522 1902,2515 1902.5,2519 1903,2522 1903.5,2526 1904,2527 1904.5,2529 1905,2519 1905.5,2518 1906,2523 1906.5,2525 1907,2523 1907.5,2518 1908,2527 1908.5,2528 1909,2525 1909.5,2526 1910,2536 1910.5,2520 1911,2531 1911.5,2515 1912,2520 1912.5,2531 1913,2522 1913.5,2517 1914,2528 1914.5,2529 1915,2520 1915.5,2517 1916,2529 1916.5,2530 1917,2524 1917.5,2515 1918,2516 1918.5,2526 1919,2527 1919.5,2530 1920,2531 1920.5,2533 1921,2526 1921.5,2514 1922,2519 1922.5,2519 1923,2533 1923.5,2531 1924,2534 1924.5,2525 1925,2532 1925.5,2522 1926,2518 1926.5,2525 1927,2535 1927.5,2519 1928,2534 1928.5,2518 1929,2530 1929.5,2525 1930,2535 1930.5,2525 1931,2521 1931.5,2529 1932,2519 1932.5,2535 1933,2530 1933.5,2516 1934,2519 1934.5,2521 1935,2533 1935.5,2523 1936,2514 1936.5,2522 1937,2531 1937.5,2515 1938,2507 1938.5,2520 1939,2517" stroke="#404040" stroke-width="6"/>
</g>
<g stroke="#000" shape-rendering="crispEdges" stroke-dasharray="11.5 3.5 3.5 3.5">
<line x1="638.5" y1="2443" x2="638.5" y2="3262" stroke-width="3"/>
<line x1="736" y1="2445" x2="736" y2="3260" stroke-width="2"/>
<line x1="866" y1="2290" x2="866" y2="3280" stroke-width="2"/>
<line x1="883.5" y1="2023" x2="883.5" y2="3258" stroke-width="3"/>
<line x1="932.5" y1="2372" x2="932.5" y2="3269" stroke-width="3"/>
<line x1="1012.5" y1="2358" x2="1012.5" y2="3257" stroke-width="3"/>
<line x1="1036.5" y1="2354" x2="1036.5" y2="3253" stroke-width="3"/>
<line x1="1155.5" y1="2368" x2="1155.5" y2="3262" stroke-width="3"/>
<line x1="1193" y1="2378" x2="1193" y2="3269" stroke-width="3"/>
<line x1="1426.5" y1="2394" x2="1426.5" y2="3258" stroke-width="3"/>
<line x1="1534.5" y1="2402" x2="1534.5" y2="3269" stroke-width="3"/>
<line x1="1574.5" y1="2388" x2="1574.5" y2="3254" stroke-width="3"/>
<line x1="1696.5" y1="2396" x2="1696.5" y2="3261" stroke-width="3"/>
</g>
<text x="315.3" y="3327" font-size="44" text-anchor="middle">10</text>
<text x="532" y="3327" font-size="44" text-anchor="middle">20</text>
<text x="748.6" y="3327" font-size="44" text-anchor="middle">30</text>
<text x="965.3" y="3327" font-size="44" text-anchor="middle">40</text>
<text x="1182" y="3327" font-size="44" text-anchor="middle">50</text>
<text x="1398.7" y="3327" font-size="44" text-anchor="middle">60</text>
<text x="1615.3" y="3327" font-size="44" text-anchor="middle">70</text>
<text x="1832" y="3327" font-size="44" text-anchor="middle">80</text>
<text x="980.1" y="3392.8" font-size="57" font-weight="bold">2</text>
<text font-size="56" font-weight="bold" transform="translate(1007.6 3393.6) scale(1.13 1.02)">θ</text>
<text x="1054.3" y="3393" font-size="50" font-weight="bold">(</text>
<text x="1070.1" y="3395.1" font-size="58" font-weight="bold">°</text>
<text x="1091.3" y="3393" font-size="50" font-weight="bold">)</text>
<text x="112.7" y="2605" font-size="63" font-weight="bold" text-anchor="middle" transform="rotate(-90 112.7 2605)">Intensity (arb. un.)</text>
<rect x="187" y="2028" width="122" height="6" fill="#000080" rx="1.5"/>
<text x="320" y="2047.8" font-size="50" font-weight="bold">5U10Cu <tspan font-weight="normal" font-size="50.6" dx="2">fresh</tspan></text>
<rect x="187" y="2092" width="122" height="6" fill="#008080" rx="1.5"/>
<text x="320" y="2111.7" font-size="50" font-weight="bold">5U10Cu <tspan font-weight="normal" font-size="50.6" dx="2">poisoned</tspan></text>
<rect x="187" y="2156" width="122" height="6" fill="#404040" rx="1.5"/>
<text x="320" y="2175.6" font-size="50" font-weight="bold">5U10Cu <tspan font-weight="normal" font-size="50.6" dx="2">regenerated</tspan></text>
<text font-size="81" font-weight="bold" transform="translate(1832.5 2093) scale(1.07 1)">D</text>
<text x="651.4" y="2439.5" font-size="50" transform="rotate(-90 651.4 2439.5)">C (0 0 2)</text>
<text x="754.6" y="2456" font-size="50" transform="rotate(-90 754.6 2456)">Cu<tspan font-size="35" dy="12.5">2</tspan><tspan dy="-12.5">O (1 1 0)</tspan></text>
<text x="859.7" y="2260" font-size="50" transform="rotate(-90 859.7 2260)">CuO (1 1 1)</text>
<text x="936.6" y="2280" font-size="50" transform="rotate(-90 936.6 2280)">Cu<tspan font-size="35" dy="12.5">2</tspan><tspan dy="-12.5">O (1 1 1)</tspan></text>
<text x="989.1" y="2383" font-size="50" transform="rotate(-90 989.1 2383)">CuO (0 2 2)</text>
<text x="1033.6" y="2357" font-size="50" transform="rotate(-90 1033.6 2357)">Cu<tspan font-size="35" dy="12.5">2</tspan><tspan dy="-12.5">O (2 0 0)</tspan></text>
<text x="1088.2" y="2391" font-size="50" transform="rotate(-90 1088.2 2391)">Cu (1 1 1)</text>
<text x="1154.9" y="2357" font-size="50" transform="rotate(-90 1154.9 2357)">CuO (-2 0 2)</text>
<text x="1205.5" y="2377" font-size="50" transform="rotate(-90 1205.5 2377)">Cu (2 0 0)</text>
<text x="1448" y="2394" font-size="50" transform="rotate(-90 1448 2394)">Cu<tspan font-size="35" dy="12.5">2</tspan><tspan dy="-12.5">O (2 2 0)</tspan></text>
<text x="1542.5" y="2377.5" font-size="50" transform="rotate(-90 1542.5 2377.5)">Cu<tspan font-size="35" dy="12.5">2</tspan><tspan dy="-12.5">O (3 1 0)</tspan></text>
<text x="1608.5" y="2377.5" font-size="50" transform="rotate(-90 1608.5 2377.5)">CuO (1 1 3)</text>
<text x="1717" y="2394" font-size="50" transform="rotate(-90 1717 2394)">Cu<tspan font-size="35" dy="12.5">2</tspan><tspan dy="-12.5">O (3 1 1)</tspan></text>
</g>
</svg>
</body></html>
